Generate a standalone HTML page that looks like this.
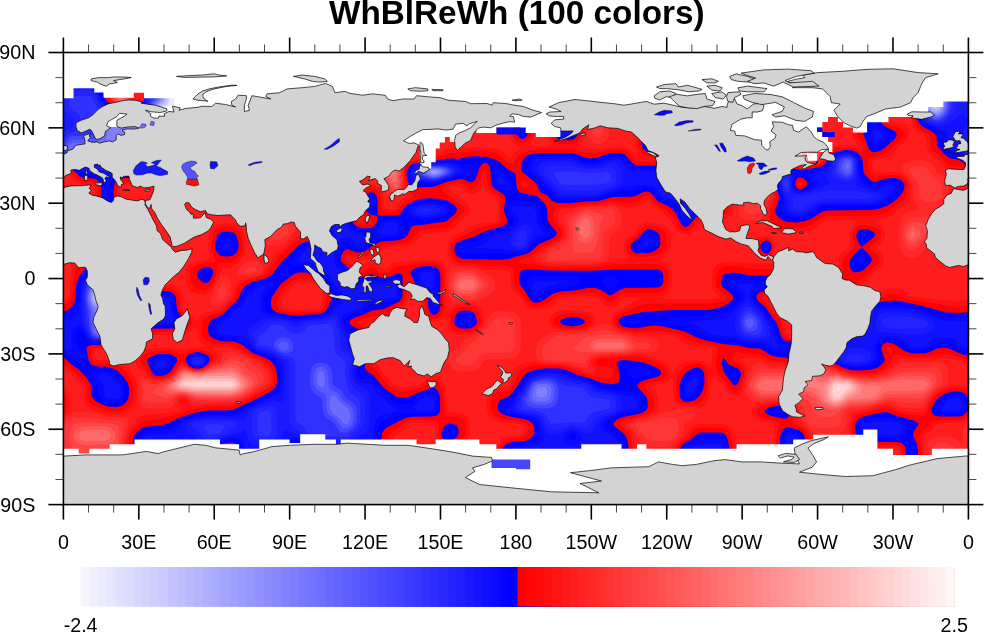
<!DOCTYPE html>
<html><head><meta charset="utf-8"><title>WhBlReWh (100 colors)</title>
<style>
html,body{margin:0;padding:0;background:#fff;}
body{width:984px;height:634px;overflow:hidden;}
svg{display:block;}
text{font-family:"Liberation Sans",Arial,Helvetica,sans-serif;fill:#000;}
.tl{font-size:19.7px;}
.title{font-size:33.3px;font-weight:bold;}
</style></head><body>
<svg width="984" height="634" viewBox="0 0 984 634">
<rect x="0" y="0" width="984" height="634" fill="#fff"/>
<text x="516.8" y="24" text-anchor="middle" class="title">WhBlReWh (100 colors)</text>
<g id="map">
<defs><clipPath id="fr"><rect x="63.4" y="52.5" width="905.0" height="452.1"/></clipPath></defs>
<g clip-path="url(#fr)">
<rect x="63.4" y="52.5" width="905.0" height="452.1" fill="rgb(255,0,0)"/>
<path d="M112.4 51.2L135.7 51.2L135.6 104L135.1 106.5L133.3 109L128.9 111.5L125 112.7L120 113L116.7 111.5L114.3 109L111.6 104L106.3 96.5L105.4 93.9L104.4 83.9L104.5 73.8L105.1 71.3L109.9 64.2L111.2 61.3L112.2 56.3ZM331.1 51.2L512.5 51.2L512.8 134.1L514.6 138.8L517.2 141.4L519.7 142.7L522.2 143.2L524.7 142.8L527.2 141.5L529.7 138.8L531.5 134.1L531.9 51.2L550.2 51.2L550.6 134.1L552.4 138.8L554.9 141.5L557.4 143.1L559.9 143.8L564.9 144.1L569.9 144L575 143L577.5 141.5L579.8 139.2L581.7 134.1L582 51.2L675.9 51.2L675.7 56.3L674.7 58.8L673 60.8L668 64L665.7 66.3L664.3 68.8L663.4 73.8L663.1 81.4L662.2 83.9L660.4 85.9L655.4 89.1L653.1 91.4L651.8 93.9L650.8 99L650.5 106.5L649.6 109L647.9 111L642.9 114.2L640.5 116.5L639.2 119.1L638.2 126.6L638.5 146.7L640.3 151.4L642.9 154.1L645.4 155.6L650.4 156.6L668.1 156.7L670.5 157.3L672.8 159.2L670.5 161.2L668 161.8L637.8 161.8L635.3 160.9L633.4 159.2L630.2 154.2L627.8 151.9L625.3 150.6L620.2 149.7L607.7 150L597.6 152.4L592.6 152.9L585 152.4L572.5 149.5L537.3 149.6L529.7 150.4L522.2 152.9L517.6 156.7L514 161.8L512.1 163.2L509.6 163.6L507.1 162.3L499.6 154.7L497 153.3L492 152.2L484.5 151.4L474.4 151.3L459.3 152.7L449.3 153.1L446.8 153.5L440.7 156.7L434.2 158.8L416.6 160.5L411.6 161.8L409.1 163.2L406.5 166.4L405.2 169.3L404.7 171.8L404.8 176.8L406.5 187.1L409.1 191.3L413.6 194.4L413.4 196.9L404 202.1L401.7 204.5L398.7 209.5L396.5 211.3L391.5 212.3L386.4 212.2L383.9 211.5L381.9 209.5L381.4 207.9L380.7 196.9L378.7 191.9L376.4 189.6L373.9 188.4L371.4 188L368.8 188.4L366.3 189.6L364 191.9L362.7 194.4L361.8 199.4L361.7 207L362.6 212L364 214.5L366.3 216.9L370.4 219.5L371.4 221.2L371.4 222.5L368.8 224.3L361.3 224.6L358.8 223.7L356.9 222L353.6 217L351.2 214.7L346.2 211.5L344.2 209.5L341 204.5L338.3 201.9L336.2 200.9L333.6 200.6L331.1 200.9L328.6 202.2L326.1 204.8L324.3 209.5L323.7 232.1L322.7 234.6L321.1 236.2L318.6 237.2L303.5 238.4L298.4 239.9L295.9 241.2L278.5 257.2L268.3 272.4L263.3 275.9L245.7 281.1L240.6 283.9L238.4 287.3L235.2 297.4L233.1 299.9L228.1 304L223 310L220.5 312L207.9 316.2L205.4 317.9L203.5 320L202.2 322.5L201.6 327.5L202.3 335.1L203.5 337.6L205.9 340.1L210.5 342.5L215.5 343.9L220.5 344.6L230.6 344.8L235.6 345.9L251.3 355.2L262.6 360.2L268.3 364.5L270.8 367.3L272.4 370.2L273.7 375.2L273.5 382.8L272.7 385.3L270.8 387.6L248.2 399.7L233.1 406.1L228.1 406.7L207.9 406.9L195.4 408.7L190.4 409.9L182.7 412.9L160.2 418.9L155.2 419.7L147.6 420L142.6 421.8L132.5 429.7L130.3 433L129.4 435.5L128.9 440.6L128.9 505.9L62.1 505.9L62.1 413.3L64.7 413.3L66.1 410.4L66.8 402.9L65.8 395.3L64.7 393.2L62.1 393.2L62.1 365L64.7 365L72.3 370.2L84.7 382.8L86.6 387.8L87.3 397.9L88.2 400.4L89.8 402.6L92.3 404.6L102.4 409.5L107.4 411.3L117.4 411.7L122.5 410.6L125 409.3L129.4 405.4L131.4 402.9L133.5 397.9L133.8 387.8L132.8 382.8L131.6 380.3L125 370.5L120 366.4L112.4 363.9L107.4 363.2L97.3 362.9L94.8 362L92.9 360.2L91.9 357.7L91.2 352.6L91.3 350.1L92.3 348.8L94.8 347.3L107.4 346.7L112.4 345.4L116.2 342.6L120 336.3L122.5 334.5L125 333.9L135 332.3L182.8 331.8L187.8 329.8L190.2 327.5L191.5 325L191.8 322.5L191.4 320L190.1 317.5L187.8 315.1L182.8 311.9L181.1 309.9L180.2 307.4L179.6 297.4L177.6 292.4L174.9 289.9L170.2 288.1L150.1 287.6L147.6 287.2L145.1 284.7L143.8 269.8L141.4 264.7L140.1 263.4L133.7 259.7L127.5 250.9L122.5 248.4L117.8 247.2L115.5 244.6L117 232.1L117.1 189.4L117.3 186.9L118.3 184.4L120 182.7L122.5 181.7L125 181.5L167.7 181.5L182.8 182.6L205.4 182.9L209.2 184.4L213.1 189.4L215.5 191.7L218 193L223 194L240.6 194.1L243.1 194.3L245.7 195.2L247.6 196.9L250.8 201.9L253.2 204.2L255.7 205.5L258.2 205.9L268.3 204.2L273.3 202.3L275.8 200.1L280.9 193.5L289.1 189.4L295.9 182.6L298.4 181.7L308.5 181.1L313.2 179.3L315.8 176.8L317.2 174.3L318.1 169.3L318.4 86.4L319.4 83.9L321.1 81.9L326.1 78.7L328.4 76.4L329.8 73.8L330.7 68.8L330.8 51.2ZM220.8 227.1L218 228L215.8 229.6L213.8 232.1L211.7 239.6L211.2 244.6L211.5 249.7L213 254.3L215.5 259.7L215.5 262.2L205.4 263.1L197.9 264.9L192.9 267.7L191 269.8L190 272.3L190.2 277.3L191.7 282.3L193 284.8L195.4 287.2L197.9 288.5L202.9 290L205.4 290.2L207.9 289.3L210.5 286.8L216.3 274.8L218 263.5L220.5 262.9L230.6 262.6L233.1 261.8L238.1 258.1L241.5 252.2L242.4 247.2L241.9 239.6L240.6 234.1L238.1 229.9L235.6 228L233.1 227.1L228.1 226.6ZM194 350.1L190.4 350.9L182.8 354.5L180.3 354L175.3 351.8L170.2 350.7L160.2 350.5L152.6 351.4L147.6 352.8L143.1 355.2L140.9 357.7L140.2 360.2L140.8 362.7L150.3 375.2L152.6 377.2L155.2 378.5L160.2 378.7L165.2 377.3L170.2 375.1L172.7 372.7L177.8 365.2L180.3 362.8L182.8 362L190.4 368L195.4 369.7L197.9 369.8L200.4 369.4L204.8 367.7L208.4 365.2L213.4 360.2L214 357.7L213 355.6L209.4 352.6L202.9 350.4L197.9 349.8ZM733.4 51.2L864.4 51.2L864.3 119.1L862.9 124.1L857.3 131.6L856.6 134.1L857.3 136.6L861.6 141.9L862.8 144.2L863.5 146.7L863.1 149.2L861.6 150.4L854 148.2L849 147.6L836.4 148.5L831.4 150.3L829.4 151.7L827.6 154.2L823.9 161.5L821.3 163.6L818.8 164.8L811.3 166.9L801.2 168.5L796.2 167.7L793.7 166.3L791.6 164.3L788.4 159.2L786.1 157L781.1 153.8L779 151.7L775.9 146.7L773.6 144.4L768.5 141.3L766.4 139.2L763.3 134.1L761 131.8L756 128.7L753.9 126.6L750.7 121.6L748.4 119.3L743.4 116.2L741.3 114L738.4 108.9L735.9 106.5L730.8 103.6L728.3 100.7L727 96.5L727.1 93.9L728.6 88.9L732.5 81.4L732.9 78.9L733 51.2ZM886.7 84.3L888.1 88.9L890.1 91.4L898.1 96.5L900.2 99L903 104L904.3 105.3L910.6 109L911.8 110.4L915.6 124.1L917 126.6L919.4 128.9L926.9 133.1L929.4 135.6L930.6 139.2L931.3 146.7L932.5 149.2L934.7 151.7L939.5 155.8L947 163.7L952.1 165.4L959.6 166L967.1 169.3L969.7 169.3L969.7 305.3L967.1 305.3L959.6 306.7L949.5 306.4L937 303.6L911.8 300.1L906.8 298.5L899.3 295L894.2 294.3L886.7 295L879.2 298.4L874.1 300L851.5 300.1L846.5 299.2L844.6 297.4L845 294.9L847.2 292.4L853.5 287.3L857 282.3L859 280.3L864.1 276.9L871.6 268.9L876.4 264.7L878.4 262.2L879 259.7L878.4 257.2L871.2 249.7L870.5 247.2L872 244.6L879.2 239.2L880.5 237.1L881 234.6L880.5 232.1L878.8 229.6L874.1 226.8L866.6 225.3L861.6 225.3L859 225.9L856.5 227.2L854.2 229.6L853 232.1L852.4 237.1L853.8 244.6L853.7 247.2L852.2 249.7L846.7 254.7L844 258.2L842.8 262.2L842.5 269.8L842.1 272.3L840.8 274.8L831.9 282.3L828.4 287.3L826.4 289.4L821.3 293L819.7 294.9L819 297.4L819.8 299.9L821.3 301.6L823.9 303L833.9 303.9L836.4 304.6L838.1 307.4L837.5 309.9L836.4 311.1L833.9 312.4L823.9 313L818.8 315.2L816.5 317.5L815.2 320L814.3 325L813.9 332.6L812.9 335.1L811.3 336.7L809.2 337.6L791.2 337.9L788.7 337.7L786.1 336.7L784.4 335.1L783.2 332.6L782 325L780.3 320L778.4 317.5L773 312.5L768.4 304.9L762.5 299.9L761 297.4L763.5 295.2L764.7 294.9L786.1 294.2L790.8 292.4L793.5 289.9L794.7 287.3L795.2 284.8L795.1 282.3L793.5 277.3L791.2 273.7L788.7 271.3L783.6 269.3L750.9 269L735.9 266.2L728.3 266L723.3 266.6L720.8 267.9L718.8 269.8L717.4 272.3L716.2 277.3L715.8 282.3L716.7 287.3L718.3 289.6L725.3 294.9L726.6 297.4L725.1 299.9L723.3 301L718.3 302.5L708.2 303.6L652.9 303.6L645.4 304.2L637.8 306.1L630.3 309.9L618 315L615.2 318L614.4 320L614.4 322.5L615.6 325L617.7 326.9L622.7 329.2L635.3 331.7L655.4 330.5L673 332.4L680.6 335.1L688.1 339.7L693.1 341.8L700.7 343.5L710.7 345L715.8 347L716.9 347.6L718 350.1L715.7 360.2L716.2 367.7L717.4 372.7L718.7 375.2L725.8 382.7L730.8 390L733.4 391.6L735.9 391.9L738.4 390.6L740.1 387.8L743.6 377.8L744.7 372.7L744.3 370.2L743.2 367.7L740.9 365.4L735.7 362.7L732.8 360.2L732.1 357.7L732.5 355.2L733.4 353.4L735.9 351.9L738.4 351.9L748.4 353.7L758.5 354.2L761 354.8L768.5 359.1L773.6 361.1L783.6 361.8L796.2 364.6L798.7 364.3L802.5 362.7L808.8 356.6L811.3 355.3L816.3 354.6L821.3 354.8L823.9 355.3L826.4 356.7L833.3 365.2L837.8 367.7L849 372.1L861.6 373.3L874.1 372.7L881.7 369.9L886.7 366.4L890.3 362.7L891.8 360.2L893 355.2L894.2 354.1L899.3 354.5L909.3 356.8L919.4 357.2L926.9 356.8L939.5 354.1L947 354.1L961.7 357.7L964.6 359.4L967.1 362L969.7 362L969.7 390.5L967.1 390.5L962.1 388.5L952.1 388.3L947 389.4L939.8 392.8L936.2 395.3L932.1 400.4L928.5 407.9L926.9 412.8L924.4 415.7L919.4 415.9L901.8 413.5L896.8 412.1L889.2 408.2L884.2 407.8L859 414.4L856.5 415.7L854.2 417.9L853 420.5L852 425.5L852.2 435.5L854 440.2L856.9 443.1L859 444.2L864.1 445.1L896.8 445.4L899.3 446.3L901.1 448.1L902.1 453.1L902.2 505.9L808.4 505.9L808.4 440.6L807.7 435.5L806.5 433L803.7 429.6L801.2 427.6L793 423L792.6 420.5L794.9 412.9L794.6 410.4L793.3 407.9L788.7 404.6L783.6 403.5L778.6 403.4L771.1 404L764.9 405.4L758.8 407.9L756.7 410.4L757 412.9L759.1 415.4L761 416.7L766 418.6L774.3 420.5L779.2 423L779.7 425.5L777.1 433L776.5 438L776.5 505.9L733 505.9L733 450.6L732.4 443.1L731 435.5L728.3 430.8L725.8 428.9L720.8 427.7L710.7 427.5L700.7 427.7L695.6 428.9L693.1 430.7L688.1 436.5L680.6 442.2L677.8 445.6L676.6 448.1L675.9 453.1L675.9 505.9L632.4 505.9L632.4 450.6L631.5 440.6L630.1 435.5L628.5 433L620.7 425.5L620.2 423L623 420.5L625.3 419.6L645.4 415L649.8 412.9L652.7 410.4L653.8 407.9L654.1 405.4L653.6 397.9L652.4 395.3L645.1 387.8L644.9 385.3L648.7 382.8L657.9 381.2L663 379.4L665.5 377.4L666.9 375.2L667.4 372.7L666.9 370.2L665.2 367.7L661.6 365.2L652.9 360.8L645.4 358.3L637.8 357L632.8 356.7L622.7 357.1L610.2 358.6L600.1 359.1L597 360.2L596.1 362.7L597.7 365.2L600.1 366.1L607.7 366.7L610.2 367.6L612.8 370.2L613.5 372.7L612.7 375.8L610.2 377.9L607.7 378.3L600.1 377.4L585 374.3L580.3 372.7L569.9 368.1L559.9 365.9L534.8 365.1L529.7 366L524.7 368.1L521.6 370.2L519.2 372.7L517.2 376L513.3 385.3L509.6 389.8L507.1 391.1L497 392.2L494.5 393.5L492.7 395.3L491.4 397.9L490.9 400.4L490.9 407.9L492.6 412.9L494.5 415L497 416.7L504.6 419.2L519.7 421.2L525.4 423L527.7 425.5L528.3 428L528 433L526.5 435.5L522.2 437.9L509.6 438.8L504.6 440.7L498.4 448.1L492 451.6L489.5 453.6L484.5 461.1L476.9 466.2L471.9 473.7L464.4 478.7L462.9 480.7L461.3 485.8L461 505.9L390.2 505.9L390.2 450.6L388.3 438L388.7 435.5L390.6 433L399 427.7L404.2 423L409.1 420.6L416.6 420.1L435.4 420.5L436.7 420.9L439 423L437.6 435.5L439.2 440.2L441.7 442.8L444.3 444.1L449.3 444.7L454.3 443.7L459.3 441.8L461.9 440.2L463.8 438L465.5 433L465.5 425.5L465 423L463.7 420.5L460.7 417.9L456.8 416.8L449.3 416.5L446.2 415.4L444.3 411.8L443.7 397.9L442.4 390.3L440.5 385.3L439.2 383.3L436.7 381.1L434.2 380.4L431.7 381L426.5 385.3L421.8 387.8L406.5 391.4L401.5 391.5L396.5 390.6L391.7 387.8L386.4 383.6L376.4 370.5L371.4 365.6L369.6 362.7L368.5 357.7L368.4 337.6L367.5 332.6L366.1 330L363.8 327.7L359.2 325L357 322.5L359.8 320L371.4 316.8L383.9 315.6L386.4 314.5L391.6 309.9L401.5 304.7L403.8 302.4L405.2 299.9L406.2 294.9L406.5 287L407.3 284.8L409.1 282.7L411.6 285.3L414.2 289.9L416.6 292.2L421.6 295.4L423.3 297.4L424.3 299.9L424.9 309.9L426.9 315L429.2 317.2L431.7 318.5L434.2 318.9L436.7 318.5L439.2 317.3L441.7 314.7L443.7 309.9L443.5 272.3L441.7 267.6L438.9 264.7L434.2 262.9L426.7 262.6L419.1 263L406.5 265.9L396.5 266.6L394 267.7L388.7 272.3L386.4 273.5L383.9 274L381.4 273.5L379.1 272.3L373.9 268L371.4 267.3L368.8 268L363.5 272.3L361.3 273.3L358.8 273.3L356.3 271.3L353.6 267.2L351.2 264.8L346.2 261.1L345.3 259.7L345.5 257.2L346.2 256.2L348.7 255.2L358.8 256.5L366.3 255.4L371.4 253.5L373.9 251.9L379.1 247.2L383.9 244.8L399 243.8L404 242.8L409.1 240.9L411.6 239.3L418.1 232.1L421.6 230.4L434.2 228.5L444.3 228.2L449.3 226.5L456.8 218.6L461.6 214.5L463.6 212L464.3 209.5L463.6 207L461.5 204.5L443.5 191.9L442.1 189.4L442.7 186.9L446.8 184.3L459.3 182.4L464.2 184.4L469.4 188.7L471.9 189.3L474.4 188.6L476.9 186.4L478.2 184.4L480.3 179.3L482 173.2L484.5 170.6L485.7 171.8L486.9 174.3L487.6 184.4L489.5 189.1L492 191.7L497 194.4L499.6 196.5L500.8 199.4L500.2 209.5L501.7 219.5L500.9 222L496.9 224.5L484.5 226.6L476.9 228.8L466.9 234.6L456.8 238.4L454.3 239.8L452 242.1L450.7 244.6L450.2 249.7L452 257.2L454.3 260.6L456.8 262.2L461.9 263.2L474.4 263.7L487 265.9L507.1 266.1L512.1 267.1L513.7 269.8L514.3 282.3L515.6 287.3L517.4 289.9L523 294.9L527.4 302.4L530.1 304.9L534.8 306.5L539.8 306.2L547.3 303.7L549.8 302.1L555 297.4L559.9 295L562.4 294.6L575 294.2L587.5 292.9L595.1 293L600.1 294.9L607.7 301.7L610.2 302.3L612.7 301.7L620.3 294.9L625.3 293L655.4 292.9L660.4 292.4L663 291.4L665.1 289.9L667 287.3L667.9 284.8L668.4 279.8L668.3 274.8L667 269.8L665.1 267.2L663 265.7L660.4 264.7L652.9 264.1L615.2 264.3L595.1 267.1L549.8 267L544.8 266.6L532.2 264.3L522.2 263.8L519.7 263.2L518.5 262.2L519.9 259.7L532.2 255.3L542.3 246.9L557.2 239.6L560.6 237.1L562 234.6L561.8 232.1L560.6 229.6L554.8 222L553.7 217L553.9 212L554.8 209.5L557.4 207.6L559.4 207L572.5 206.2L585 204.1L597.6 203.7L610.2 201.2L615.2 201.4L625.3 203.1L632.8 203.1L637.8 201.5L643.2 196.9L645.4 195.9L647.9 195.9L650.4 197.9L653 201.9L655.4 204.3L665.3 209.5L670.5 214.5L674.5 219.5L678 226.8L680.6 229.3L683.1 230.6L685.6 230.9L688.1 230.6L690.6 229.3L693 227.1L696.1 222L699.4 219.5L710.7 216.3L720.8 215.6L724.7 214.5L727.7 212L728.9 209.5L729.4 207L729.7 164.3L729.9 161.8L730.8 159.8L733.4 158L735.9 158.2L737.4 159.2L741 164.3L743.4 166.6L748.4 169.6L750.9 171.8L755.1 176.8L758.5 179.6L763.5 181.2L771.1 182L773.6 184.2L775.3 191.9L775.8 196.9L775.2 199.4L770.5 209.5L770.3 217L771.5 222L773.6 224.3L776.1 225.7L786.1 228.1L798.7 228.2L808.8 225.9L813.8 223.4L821.3 218L826.4 216L871.6 215.8L879.2 214.8L886.7 212.3L901.5 201.9L904 199.4L906.8 193.8L908.2 186.9L908 184.4L907 181.9L905.1 179.3L901.8 176.6L899.3 175.4L896.8 174.9L889.2 174.7L884.2 175.1L876.6 176.6L874.1 176.4L870.9 174.3L869 171.8L868.2 169.3L868.1 161.8L869.1 158.6L871.6 157L881.7 154.9L888.8 151.7L896.8 143.3L901.5 139.2L903.5 136.6L904.2 134.1L903.5 131.6L901.2 129.1L896.8 126.8L887.9 124.1L885 121.6L884.2 119.5L883.8 109L884.2 89.2L885 86.4ZM643.2 227.1L640.5 229.6L637.4 234.6L635.3 236.7L630.3 239.8L628 242.1L626.8 244.6L626.4 247.2L626.8 249.7L628 252.2L630.3 254.5L632.8 256L637.8 256.9L642.9 257L652.9 256.1L657.9 254.6L662.5 252.2L664.9 249.7L666.6 244.6L666.6 237.1L664.9 232.1L663 230L660.4 228.3L652.9 225.8L647.9 225.5ZM761.9 239.6L758.4 242.1L756.5 244.6L755.9 247.2L756.5 249.7L758.5 252.2L762.3 254.7L766 255.8L768.5 255.3L771.1 253.4L772.9 249.7L773 244.6L772.2 242.1L768.5 238.7L766 238.3ZM456.8 307.4L453.5 309.9L451.1 315L450.2 322.5L450.7 325L452 327.5L454.3 329.8L456.8 331.2L461.9 332.1L471.9 331.4L476.9 328.4L479.6 325L480.6 322.5L480.9 320L480.1 315L477.8 309.9L474.4 307.4L471.9 306.7L461.9 306.4ZM559.4 315L555.2 317.5L553.6 320L553.3 322.5L554.9 325.2L559.9 327.6L569.9 329.1L580 328.5L584.6 327.5L587.5 326.2L589.4 325L591.2 322.5L591.2 320L589.7 317.5L587.5 315.9L582.5 314.1L575 313.1L569.9 313.1ZM688.6 365.2L683.1 368L680.6 370.6L678.2 375.2L676.7 380.3L676.1 385.3L676.4 397.9L678 401.2L679.9 402.9L683.1 404.1L688.1 404.7L695.6 404.4L700.7 402.5L703.2 399.9L705.5 395.3L707.7 385.3L707.6 372.7L707 370.2L705.5 367.7L703.2 365.4L700.7 364.1L695.6 363.6ZM64.7 170.2L70.1 171.8L77.2 179.1L79.7 180.5L84.8 181.4L92.3 181.7L94.8 182.7L96.4 184.4L97.5 186.9L97.7 189.4L97.7 229.6L97.3 234.7L96.5 237.1L94.8 239.4L92.3 240.6L82.3 241.5L79.7 242.8L77.2 245.8L76.1 249.7L75.8 269.8L73 282.3L72 297.4L71 299.9L69 302.4L64.7 304.6L62.1 304.6L62.1 170.2ZM522.2 181L524.7 181L527.2 183.1L528.2 184.4L526.9 186.9L524.7 187.5L522.2 186.9L521 184.4L521.4 181.9ZM798.7 181.4L801.2 181.2L802.3 181.9L803.2 184.4L801.2 186.2L798.7 186L797.7 184.4ZM295.9 279.5L301 278.6L308.5 279.1L318.6 281.8L321.1 283L322.9 284.8L324.1 287.3L326.4 297.4L324 307.4L322.1 309.9L318.6 311.4L293.4 312.5L283.4 311.2L280.1 309.9L278.3 308.1L277.2 304.9L277.1 302.4L278 297.4L279.4 294.9L285.9 286.5L291.1 282.3ZM886.7 347.5L889.9 347.6L892 350.1L892.3 352.6L891.7 353.3L889.2 352.9L886.7 350.8ZM967.1 416.3L969.7 416.3L969.7 505.9L921.4 505.9L921.4 450.6L919.5 435.5L920.6 433L926.9 427.5L931.9 421.8L934.5 420.7L939.5 420.1L959.6 419.9L964.6 418.2ZM220.5 447.4L225.5 446L230.6 445.8L233.1 446.6L234.7 448.1L235.7 450.6L236 505.9L217.6 505.9L217.7 453.1L218 450.6ZM295.9 448.4L297.8 450.6L298.5 453.1L298.5 505.9L293.4 505.9L293.4 453.1L294 450.6Z" fill="rgb(255,15,15)" fill-rule="evenodd"/>
<path d="M114.9 51.2L133.7 51.2L133.6 104L133.1 106.5L131.2 109L126.2 111.5L122.5 112.3L120 112.2L118.2 111.5L115.4 109L111.3 101.5L107.9 96.5L106.7 91.4L106.4 73.8L107.2 71.3L112.4 61.3L113.3 56.3L113.3 51.2ZM333.6 51.2L509.8 51.2L510 134.1L511.1 139.2L512.5 141.7L517.2 145.9L519.3 146.7L519 149.2L514.6 152.8L512.1 156.3L509.6 157.9L507.1 156.2L503.4 151.7L499.6 149.6L489.5 148.1L474.4 147.8L446.8 149.1L441.7 150.7L434.4 156.7L416.6 158.2L411.6 159.4L409.1 160.9L406.5 163.9L405 166.8L403.6 171.8L404.8 186.9L406.7 194.4L406.2 196.9L401.5 199.9L399.4 201.9L396.5 207.3L394 209.2L387.9 209.5L386.4 209.1L384.3 207L383.4 196.9L381.4 190.6L378.9 187.6L373.9 185.5L368.8 185.2L366.3 185.8L363.8 187.2L361.6 189.4L360.2 191.9L359.2 196.9L359 201.9L359.1 212L360 217L358.8 218L357 214.5L348.3 209.5L346.2 207.4L343.4 201.9L341.2 199.8L336.2 197.7L331.1 197.7L328.6 198.4L326.1 199.8L323.9 201.9L321.8 207L321.3 212L321.2 229.6L320.6 232.1L318.6 234.2L316 234.7L301 235.6L298.4 236.3L293.4 239.2L285.1 247.2L275.8 253.4L268.8 264.7L266.6 269.8L265 272.3L263.3 273.6L258.2 276L243.1 279.2L238.1 281.2L235.7 284.8L233.7 294.9L232.4 297.4L220.5 309.2L218 310.4L205.4 312.8L201.5 315L199.1 317.5L197.9 319.5L195.4 319.7L194.5 317.5L192.7 315L190.4 312.8L185 309.9L183.1 307.4L182.2 294.9L181.6 292.4L180.1 289.9L177.2 287.3L172.8 285.6L150.1 284.9L147.6 283.6L146.7 279.8L146.1 269.8L144.5 264.7L142.6 262.2L140.1 260.3L134.4 257.2L131.9 252.2L130 249.7L127.5 247.8L119.7 244.6L119.1 242.1L119.8 232.1L119.8 189.4L120.4 186.9L122.5 184.8L127.5 184.2L167.7 184.2L182.8 185L202.9 185.1L205.4 185.5L207.9 186.9L210.8 191.9L213 194.1L215.5 195.5L220.5 196.5L240.6 196.8L243.1 197.3L245.7 199.1L248.5 204.5L250.7 206.6L253.2 208L258.2 208.5L273.3 204.2L276.4 201.9L279.9 196.9L282.4 194.4L290.9 191.4L293.6 189.4L295.9 186.4L298.4 184.7L311 183.6L316 181.5L318.2 179.3L319.6 176.8L320.8 169.3L321.1 87.8L321.4 86.4L323.3 83.9L328.6 81L330.8 78.9L332.2 76.4L333.3 71.3ZM216.4 224.5L212.5 227.1L210.8 229.6L209.2 234.6L208.3 247.2L209.5 257.2L206.9 259.7L197.9 261.2L190.4 263.8L187.8 265.9L185.8 269.8L185.5 277.3L186.1 282.3L187.6 287.3L190.4 291L195.4 293.5L202.9 294.7L205.4 294.6L207.9 293.8L211.6 289.9L220.5 271.2L223 269L230.6 268.2L233.1 267.3L235.6 265.5L241.5 259.7L244.2 254.7L245.3 247.2L244.8 237.1L243.8 232.1L241.1 227.1L238.1 224.9L233.1 223.4L223 223.2ZM534.8 51.2L547.5 51.2L547.6 131.6L548.8 139.2L551.5 144.2L549.8 146L547.7 146.7L532.3 146.7L530.3 144.2L533.3 139.2L534.5 131.6ZM585 51.2L673.2 51.2L672.7 56.3L670.8 58.8L665.5 61.6L663.3 63.8L661.9 66.3L660.8 71.3L660.1 81.4L658.2 83.9L652.9 86.7L650.7 88.9L649.3 91.4L648.3 96.5L647.5 106.5L645.7 109L640.3 111.9L638.2 114L636.8 116.5L635.7 121.6L635.5 126.6L635.6 149.2L636.5 154.2L635.3 155.2L633.5 151.7L629.8 149.2L625.3 147.4L620.2 146.9L610.2 147L597.6 148.8L592.6 149L585 148.4L579.9 146.7L580.4 144.2L583.3 139.2L584.2 134.1L584.4 51.2ZM735.9 51.2L861.7 51.2L861.6 119.1L859 123.7L855.1 126.6L853.1 129.1L851.8 134.1L853.1 139.2L856.9 144.2L854 145L836.4 146.1L831.4 147.2L828.9 148.4L826.4 151.5L823.5 159.2L821.3 161.8L816.3 164.4L808.8 166.5L801.2 167.6L796.2 166.7L793.7 165.2L788.7 158.3L781.1 152.7L776.1 145.8L768.5 140.1L763.5 133.2L756 127.6L750.9 120.7L742.4 114L738.4 107.6L730.8 102.4L728.4 99L727.8 96.5L728.6 91.4L730.8 87.1L735 81.4L735.6 78.9ZM889.2 94.9L896.8 98.3L901.8 106.5L909.8 111.5L912.9 126.6L914.5 129.1L916.9 131.3L922.9 134.1L925.7 136.6L926.4 139.2L926.9 146.7L928.5 151.7L930.6 154.2L937.8 159.2L943.3 166.8L947 168.8L949.5 169.3L959.6 170L967.1 171.8L969.7 171.8L969.7 300.3L952.1 301L914.4 297.6L911.8 297L908.1 294.9L904.3 291.2L901.8 289.7L896.8 288.6L889.2 288.6L884.2 289.7L881.7 291.2L877.9 294.9L872.2 297.4L859 297.4L856.5 296.9L853.2 294.9L856.5 291.3L860.6 284.8L867.9 279.8L873.4 272.3L881.7 266L883.6 262.2L883.6 257.2L882.6 254.7L880.6 252.2L877.4 249.7L876.3 247.2L881.7 242.7L883.8 239.6L885 234.6L884.7 232.1L883.8 229.6L881.7 226.4L876.6 222.7L874.4 222L880.4 219.5L886.7 218.2L891.7 215.7L897.4 209.5L904.3 205.4L906.8 203.2L908.8 199.4L910 194.4L910.7 189.4L910.4 184.4L907.8 179.3L904.3 175.7L901.8 174L899.3 172.7L894.2 172L876.6 172.8L874.1 172L872.5 169.3L872.1 164.3L872.7 161.8L874.1 160.1L876.6 159L886.7 157.2L891.7 155.2L894.2 153.1L899.3 146L906.8 140.4L908.8 136.6L908.9 131.6L908 129.1L905.7 126.6L899.3 123.6L889.3 121.6L887.1 119.1L886.6 116.5L886.6 99L887.1 96.5ZM637.8 155.3L638.8 156.7L637.8 157.3L636.7 156.7ZM735.9 164.5L740.9 168.9L748.4 172.5L754.8 179.3L758.5 182L761 183.1L769.6 184.4L771.1 185.1L772.1 186.9L773.4 191.9L773.4 196.9L768.7 207L765.8 222L766.1 224.5L767.5 227.1L771.1 229.8L776.1 231.3L783.6 232.2L801.2 232.2L808.8 231.3L813.8 229.8L816.3 228.2L822.2 222L826.4 220.3L849 220.1L854 220.9L856.8 222L854 224.4L850.5 229.6L849.5 234.6L850 244.6L849.3 247.2L846.5 249.7L842.6 252.2L840.5 254.7L839.4 257.2L838.2 269.8L837.1 272.3L830 277.3L827.9 279.8L824.8 284.8L817.5 289.9L815.4 292.4L814.4 294.9L814.4 299.9L816.3 303.7L818.8 306.3L820.8 307.4L820.8 309.9L816.3 312.7L814.1 315L812.7 317.5L811.7 322.5L811.3 331L810.9 332.6L808.8 334.6L806.3 335.2L801.2 335.3L791.2 335.2L788.7 334.7L786.1 332.1L784.9 322.5L783.3 317.5L781.1 314.5L774.9 309.9L769.4 299.9L771.1 298.1L773.2 297.4L786.1 297L791.2 295.9L793.7 294.5L795.9 292.4L797.2 289.9L797.9 287.3L798.1 282.3L797.2 277.3L795.4 272.3L793.7 269.1L791.2 266.1L786.1 263.8L750.9 263.3L733.4 261.8L725.8 261.9L720.8 262.7L717 264.7L714.8 267.2L713 272.3L712.2 279.8L712.2 284.8L713.6 289.9L715.8 293.2L717.8 294.9L719.1 297.4L710.7 299.3L698.2 299.5L673 299.4L665.5 298.6L660.5 297.4L663 296.8L668 293.1L670.2 289.9L671.6 284.8L671.9 277.3L671.6 272.3L670.2 267.2L668 264.2L663 260.7L660.5 259.7L668 253.5L670 249.7L670.9 242.1L670.2 232.1L669.2 229.6L666.9 227.1L665.5 226L660.4 224L650.4 222.5L645.4 222.8L642.9 223.5L640.3 224.9L638.2 227.1L635.3 232.5L633.2 234.6L627.8 237.4L625.6 239.6L623.5 244.6L623.5 249.7L624.2 252.2L627.4 257.2L628.2 259.7L622.7 260.6L612.7 261L597.6 265L587.5 265.2L547.3 265L537.3 262.2L533.5 259.7L535.2 257.2L544.8 248.3L559.9 240.4L563.7 237.1L564.7 234.6L564.6 232.1L562.4 227.4L558.7 222L557.6 217L558.4 212L559.9 210.4L562.4 209.3L572.5 208.4L585 205.6L597.6 205.3L610.2 203.4L615.2 204.1L625.3 207.2L632.8 207.3L637.8 206.5L641.7 204.5L645.4 200.9L647.9 200.9L652.9 206.6L659.2 209.5L662.6 212L665.5 215.9L670.5 220.1L673 223.8L674 227.1L675.6 229.6L678 231.8L680.6 233.1L685.6 234L690.6 233.1L693.1 231.7L695.3 229.6L698.2 224.2L700.7 222L710.7 220.3L723.3 219.6L728.3 218L731.7 214.5L733.2 209.5L733.7 174.3L734.7 166.8ZM760.1 237.1L756 238.7L752.5 242.1L751.2 247.2L752.5 252.2L756 255.8L758.5 257L763.5 258.4L766 258.5L768.5 257.7L771.1 256.3L772.6 254.7L774.8 249.7L774.9 244.6L774.1 242.1L772.8 239.6L771.1 237.8L768.5 236.4L766 235.9ZM64.7 172.6L69.3 174.3L72.5 179.3L74.7 181.5L77.2 182.9L82.3 184L90.8 184.4L92.3 184.8L94.4 186.9L95 191.9L95 229.6L94.8 232.1L93.7 234.6L92.3 235.9L79.7 237.6L75.9 239.6L73.8 242.1L72.7 244.6L71.9 249.7L71.7 269.8L70.1 282.3L69.7 294.9L68.6 297.4L67.2 298.9L64.7 299.9L62.1 299.9L62.1 172.6ZM451.8 186.3L456.8 185.3L459.3 185.7L461.3 186.9L464.4 190.9L466.9 192.9L471.9 194.2L476.9 192.8L480.8 189.4L482 187.6L484.5 187.5L487.2 191.9L489.5 194.1L495.2 196.9L497.4 199.4L498 217L497.8 219.5L494.9 222L482 223.5L471.9 225.7L466.9 228.3L461.9 232.8L458.3 234.6L454.3 235.6L451.8 237.2L449.6 239.6L448.2 242.1L447.5 244.6L447.3 249.7L449 259.7L450.4 262.2L451.8 263.4L456.8 265.2L474.4 266.2L487 269.7L507.1 270.6L509.6 272.1L510.5 274.8L511 284.8L512.5 289.9L514.6 292.9L521 297.4L525 304.9L527.2 307.1L532.2 309.2L539.8 309.3L549.8 307.2L553.8 304.9L557.7 299.9L562.4 297.4L587.5 296.3L595.1 296.6L597.6 297.4L600 299.9L602.6 303.8L605.1 305.9L610.2 307.2L612.7 307L615.2 306.1L617.7 303.9L620.4 299.9L622.7 297.5L625.3 296.7L643.4 297.4L640.3 298.6L639.2 299.9L635.3 300.8L632.8 302L625.3 308.2L621.7 309.9L617.7 311L615.2 312.6L612.7 315.5L611.2 320L611.5 322.5L612.9 325L615.2 327.5L620.2 330.1L635.3 333.9L652.9 333.7L671.7 335.1L676.8 337.6L680.6 341.3L685.6 344L695.6 346.2L709.1 347.6L712.7 350.1L712.9 352.6L710.7 366.9L709 365.2L703.2 361.6L698.2 360.7L690.6 361.2L685.6 362.3L680.6 364.2L676.8 367.7L673.5 372.7L673 375.2L673.5 397.9L674 400.4L675.5 402.9L678 404.9L683.1 406.1L698.2 407.6L700.7 407.3L704.5 405.4L706.7 402.9L708.7 397.9L709.7 392.8L710.7 382.5L711.2 380.3L713.2 376.5L716.8 380.3L723.3 385.1L728.3 393.3L730.8 395L733.4 395.8L735.9 395.9L738.4 395.2L740.9 393.1L742.1 390.3L747 372.7L746.7 367.7L745.5 365.2L743.4 362.7L739.9 360.2L740.9 358.4L743.4 358.1L758.5 358.1L761 358.7L768.5 362.4L773.6 364L796.2 365.8L801.2 364.8L803.7 363.3L808.8 358.5L811.3 356.9L816.3 356.1L821.3 356.3L823.9 357L826.4 358.9L831.4 365.7L834.3 367.7L840.2 370.2L849 373.3L866.6 374.9L876.6 374.1L884.2 371.4L889.7 367.7L896.8 360.3L899.3 358.8L921.9 359.5L939.5 357.9L949.5 358.4L960 360.2L963.3 362.7L967.1 368.2L969.7 368.2L969.7 386.8L967.1 386.8L962.1 385.7L952.1 385.6L947 387.1L939.5 390.8L934.5 394.4L931.9 397.2L924.4 410.7L921.9 412.2L916.9 412.3L901.8 411.1L898.9 410.4L891.7 406.6L886.7 405.3L856.5 412.7L854 413.8L852.2 415.4L850.9 417.9L849.8 423L849.4 435.5L850.5 440.6L851.9 443.1L854 445.2L856.5 446.6L861.6 447.7L894.2 448L896.8 448.5L898.9 450.6L899.5 455.6L899.5 505.9L811.1 505.9L811.1 440.6L810.3 435.5L806.3 429.3L798.2 423L796.8 420.5L797.5 412.9L797.1 410.4L795.9 407.9L793.7 405.4L788.7 402.9L783.6 402L778.6 402L768.5 402.8L756.4 405.4L752.5 407.9L751.5 410.4L751.6 412.9L752.6 415.4L756 418.9L761 420.9L772.1 423L775 425.5L773.8 438L773.8 505.9L735.7 505.9L735.6 448.1L735 438L734 433L731.3 428L728.3 425.8L723.3 424.3L710.7 424.1L698.2 424.4L693.1 425.9L690.3 428L685.5 435.5L677 443.1L674 448.1L673.2 453.1L673.2 505.9L635.1 505.9L635.1 450.6L634.3 440.6L633.1 435.5L631.7 433L625 425.5L624.7 423L629 420.5L645.4 417L650.3 415.4L654.7 412.9L657 410.4L658.3 405.4L658.3 400.4L657.5 395.3L655.4 391.4L652 387.8L653.9 385.3L660.4 384.1L665.5 382.5L668.9 380.3L670.5 378.3L672.6 377.8L673 375.2L671.9 370.2L668.6 365.2L665.5 363L652.9 357.1L637.8 354.6L610.2 356.8L600.1 357L596.5 357.7L593.3 360.2L592.5 362.7L592.8 365.2L593.9 367.7L595.1 369.5L596.3 370.2L595.1 372.2L592.6 372.7L585 372.1L572.5 366.8L562.4 364.6L544.8 363.9L532.2 361.8L527.2 362.5L519.7 365L516 367.7L513.3 372.7L510.7 382.8L509.3 385.3L507.1 386.8L504.6 387.3L494.5 388.3L490.7 390.3L488.6 392.8L487.5 395.3L486.6 400.4L486.6 407.9L487.5 412.9L488.6 415.4L490.7 417.9L494.5 420.1L499.6 421.5L517.2 423.4L522.2 424.8L523.1 425.5L524.1 428L524.1 430.5L523.5 433L522.2 434.3L519.7 435.5L507.1 436.3L502.1 438.4L499.9 440.6L497 445.6L494.5 447.5L488.3 450.6L486.1 453.1L483.7 458.1L482 459.8L476.9 462.3L474.4 464.5L471.1 470.7L469.4 472.4L464.4 474.8L461.9 477.1L459.9 480.7L458.9 485.8L458.6 505.9L394.4 505.9L394.4 450.6L393.6 440.6L393.7 438L394.9 435.5L402.9 430.5L406.9 425.5L411.5 423L431.7 423L434.2 424.3L435 425.5L435 438L437.1 443.1L439.2 445.2L444.3 447.3L449.3 447.6L454.3 447.1L459.3 446L464.4 444L467.8 440.6L468.9 438L469.7 433L469.5 423L467.8 417.9L464.4 414.5L459.3 412.9L449.3 411.8L447.8 410.4L446.7 407.9L446.3 395.3L444.7 385.3L442.7 380.3L439.2 376.8L434.2 375.5L429.2 376.8L426.7 378.9L423.8 382.8L419.1 385.5L409.1 387.1L401.5 387.3L396.5 386.3L394 384.5L383.9 374.5L378.9 366.4L373.9 362.4L372.2 360.2L371.3 357.7L371.1 337.6L370.6 332.6L368.8 328L366.7 325L366.3 322.5L371.4 320.9L383.9 320.1L388.9 318.4L391.5 316.4L394.3 312.5L396.5 310.7L403.5 307.4L406.2 304.9L407.6 302.4L409.1 296L411.6 293.2L419.1 297.2L421.3 299.9L422.4 312.5L424.5 317.5L426.7 319.6L431.7 321.7L436.7 321.7L439.2 321L444.3 318L446.8 319.5L447.5 325L449.6 330L452.4 332.6L456.8 334.3L461.9 334.7L469.4 334.3L471.9 333.8L476.9 331.1L480.5 327.5L483.1 322.5L483.5 317.5L482.9 312.5L480.7 307.4L476.9 305.1L474.4 304.5L466.9 304L456.8 304.5L451.8 306.2L449.3 307.9L448.7 307.4L446.8 304.2L446.3 299.9L445.7 287.3L445.9 272.3L445.3 267.2L444 264.7L441.7 262.5L439.2 261.2L434.2 260.1L424.1 259.9L406.5 261.7L396.5 262.2L391.5 263.8L386.4 268.7L383.9 270.1L381.4 268.7L376.4 263.6L373.9 262.5L371.4 261.9L368.8 262.3L366.3 263.3L361.3 268.2L358.8 268.2L354.4 262.2L356.3 259.7L366.3 259.4L371.4 258.6L376.4 255.8L378.9 253.6L381.8 249.7L386.4 247.2L401.5 246.5L411.6 244.3L414.1 243.1L416.6 241L421.4 234.6L424.1 233.6L434.2 232.6L446.8 232.3L451.8 230.8L454.3 228.5L459.3 221.4L466.9 215.8L468.8 212L469.1 209.5L468.8 207L466.9 203.1L464.4 200.8L457.7 196.9L450.5 189.4L450 186.9ZM555.4 312.5L552.4 314.3L550.2 317.5L549.2 322.5L550 325L552.1 327.5L554.9 328.7L569.9 330.7L582.5 329.9L590.1 327.5L593.3 325L594.9 322.5L595.3 320L594.7 317.5L593.1 315L590.1 312.8L587.5 311.8L580 310.6L569.9 310.3L559.9 311.1ZM361.3 218.1L362.2 219.5L361.3 220.1L360.1 219.5ZM295.9 283.9L298.4 283.1L306 282.8L318.6 284.8L321.1 287.3L322.4 294.9L322 302.4L320.6 307.4L318.6 308.7L316 309.2L295.9 310L285.9 309.1L282.4 307.4L281.5 304.9L281.3 302.4L282.4 297.4L284.2 294.9L293.4 285.6ZM195.4 327.2L199.4 340.1L202.9 344.2L204.6 345.1L202.9 346.8L190.4 348.2L182.8 350.1L175.3 348.5L167.7 347.8L155.2 348L145.1 349.7L140.1 351.7L136.6 355.2L135.3 360.2L136.5 365.2L138.6 367.7L145.1 372.5L150.1 377.8L155.2 380.2L160.2 380.1L167.7 377.8L170.2 376.5L172.8 374.4L180 365.2L182.8 364.1L190.4 368.7L195.4 370.3L200.4 370L205.4 368.1L216.5 360.2L217.7 357.7L217.4 355.2L215.5 351.7L213.6 350.1L213 347.8L212.4 347.6L230.6 347.2L235.6 348.7L258.2 360.2L262.2 362.7L265 365.2L268.3 368.6L270.8 372.7L271.4 380.3L271.1 382.8L269.9 385.3L266.6 387.8L248.2 397.7L233.1 404L228.1 404.5L207.9 404.6L197.9 405.7L192.9 405.6L190.4 404.5L187.8 400.3L185.3 398.3L182.8 397.6L180.3 398.1L178.2 400.4L178.2 402.9L181 407.9L179 410.4L167.7 413L157.7 414.1L147.6 414.4L142.4 415.4L138.9 417.9L130.3 428L128.7 430.5L127 435.5L126.6 505.9L62.1 505.9L62.1 416.6L64.7 416.6L67.5 412.9L69.3 407.9L69.5 402.9L69.3 397.9L68.2 392.8L66.8 390.3L64.7 388.2L62.1 388.2L62.1 369.9L64.7 369.9L69.9 372.7L74.7 379.1L82.2 385.3L83.1 387.8L84.2 400.4L85.1 402.9L87.3 405.8L89.8 407.4L102.4 412.7L107.4 414.2L117.4 414.6L125 413.4L127.5 412.2L132.3 407.9L134.3 405.4L135.5 402.9L136.5 397.9L136.7 387.8L136.2 382.8L134.5 377.8L128.6 367.7L125 364.2L120 362.3L114.9 361.2L97.3 359.8L94.8 357.3L94.3 352.6L95.3 350.1L97.3 349.4L109.9 348.6L114.9 347L117.4 345.1L119.3 342.6L121.9 337.6L125 336.2L135 334.9L182.8 334.7L187.8 333.6L190.4 332.3ZM967.1 419L969.7 419L969.7 505.9L923.7 505.9L923.7 450.6L923.2 438L923.9 435.5L926.6 433L930.8 430.5L934.6 425.5L937 423.7L939.5 422.9L959.6 422.6L962.1 422ZM223 449.2L228.1 448.3L230.6 448.8L232.6 450.6L233.1 452.2L233.3 505.9L220.3 505.9L220.4 453.1L221.3 450.6Z" fill="rgb(255,28,28)" fill-rule="evenodd"/>
<path d="M114.9 51.2L131.7 51.2L131.6 104L131.1 106.5L129 109L122.5 111.6L120 111.4L116.5 109L109.6 96.5L108.4 91.4L108.4 73.8L113.6 61.3L114.4 51.2ZM587.5 51.2L609.2 51.2L608.9 134.1L607.4 139.2L605.5 141.7L600.1 144L595.1 144L590.1 141.9L588.4 139.2L587.8 136.6L587.4 129.1ZM738.4 82.5L740.9 82.3L745.9 84.5L747.9 86.4L750.9 92.5L753.3 93.9L766 94.7L771.1 97L773 99L776.1 105.3L777.3 106.5L783.6 109.6L785.6 111.5L788.7 117.6L791 119.1L803.7 119.9L808.8 122.1L810.7 124.1L812.2 126.6L813.8 131.6L816.3 133.9L821 136.6L822.9 139.2L824.3 144.2L824.3 146.7L822.7 156.7L821.3 159.5L818.9 161.8L813.8 164.1L803.7 166.5L798.7 166.6L796.2 165.9L793.7 164.1L788.7 157.2L781.3 151.7L775.6 144.2L768.5 139L763.1 131.6L756 126.5L750.5 119.1L743.6 114L738.6 106.5L730.8 101.2L729.3 99L728.7 96.5L729.6 91.4L733.4 85.8ZM368.8 121L373.9 121L378.9 122.5L381 124.1L383 126.6L385.5 131.6L393.6 136.6L395.6 139.2L398.1 144.2L401.5 146.6L404 147.6L406.2 149.2L408.1 151.7L408.9 154.2L408.8 156.7L404 165.8L402.5 171.8L403.1 184.4L402.6 191.9L401.5 194.4L399 196.3L394 197.3L388.9 195.9L386.4 193L383.6 186.9L381.4 184.7L375.3 181.9L372.4 179.3L370.7 174.3L369.4 161.8L366.3 159.3L363.8 158.4L361.7 156.7L359.7 154.2L357.7 146.7L357.5 136.6L358.1 131.6L359.7 126.6L361.7 124.1L363.8 122.5ZM909.3 161L914.4 160.3L921.9 160.3L929.4 162.2L932.3 164.3L937 171.8L945.1 176.8L946.8 179.3L948.3 184.4L948.3 196.9L946.8 201.9L945.2 204.5L939.2 209.5L945.2 214.5L950 222L957.8 227.1L959.4 229.6L960.5 234.6L959.4 239.6L957.8 242.1L954.6 244.4L952.1 245.4L947 246.1L926.9 246.6L924.4 248.2L919.4 255.4L916.9 257L911.8 258.1L906.8 257L904.3 255.4L902 252.2L900.1 247.2L898.2 234.6L898.7 229.6L900.2 222L902.2 217L903.8 214.5L906.8 212.5L909.3 211.5L919.3 209.5L918.6 207L916.2 204.5L914.4 199.7L913.6 184.4L910.9 179.3L903.9 171.8L902.2 169.3L902.2 166.8L903.6 164.3L906.8 162ZM740.9 176.6L743.4 175.3L745.9 175.3L748.4 176.6L753.5 181.3L758.5 185L768.4 189.4L769.6 191.9L770.2 194.4L769.9 196.9L766.8 204.5L763.9 214.5L761 219L758.5 220.5L750.9 221L745.9 220.3L740.9 217.6L739 214.5L737.9 207L737.9 186.9L738.4 181.9L739.2 179.3ZM283.4 196L285.9 195.1L290.9 195.5L293.5 196.9L294.7 199.4L294.9 227.1L294.3 232.1L290.7 237.1L283.4 243.8L278.3 245.4L273.3 245.8L268.3 245.3L263.3 242.8L261 239.6L260 237.1L259.3 232.1L259.4 214.5L260.5 212L263.7 209.5L273.3 206.2L276.4 204.5ZM587.5 206.9L597.6 206.9L610.2 205.7L615.2 207L619.2 209.5L621 212L621.6 214.5L621.7 219.5L621 224.5L620 227.1L617.7 230.3L610.9 234.6L609.5 237.1L609 254.7L608.2 257.2L605.9 259.7L602.6 261.4L600.1 262.4L595.1 263.1L549.8 263.1L544.7 262.2L540.6 259.7L540.7 257.2L547.3 250L551.5 247.2L562.4 241.6L565 239.6L566.7 237.1L567.3 234.6L567.2 232.1L565.6 227.1L563.3 222L562.8 219.5L563.3 217L564.8 214.5L577.5 209.1L582.5 207.6ZM248.2 261.2L255.7 260.8L258.2 261.3L260.7 262.6L262.3 264.7L263 267.2L262.9 269.8L261.4 272.3L255.9 274.8L248.2 275.9L243.1 276.2L237.5 274.8L236.5 272.3L237.8 269.8L243.1 264.1ZM451.8 269.1L459.3 268L471.9 268.2L477.5 269.8L489.5 275.5L492.5 277.3L494.3 279.8L495.2 282.3L495.2 287.3L494.3 289.9L492 293.1L479.4 300.8L474.4 301.6L461.9 301.8L454.3 301.3L451.8 300.5L449.3 297.3L447.8 284.8L449.3 272.3ZM223 275.6L225.5 275.6L228.1 276.9L230.1 279.8L230.9 287.3L230.2 294.9L228.7 297.4L220.5 305.2L218 306.4L215.5 306.3L212.6 304.9L210.8 302.4L210.3 299.9L211 297.4L213.7 292.4L218 281.6L220.5 277.6ZM494.5 311.7L502.1 311L512.1 311.7L517.2 314.3L519.4 317.5L520.4 320L521.1 325L521.1 345.1L520.4 350.1L517.8 355.2L514.6 357.3L509.6 358.8L487 359.5L484.5 360.9L479.4 368.4L476.9 370L471.9 371.5L459.3 371.5L454.3 370L451.8 368.4L449.5 365.2L448.4 360.2L449.5 355.2L451.1 352.6L458.9 347.6L464 340.1L474.4 335.7L479.4 332L485.1 325L489.5 314.5L492 312.7ZM600.1 324.2L605.1 323.7L607.7 324.5L615.2 330.1L635.3 336.7L637.8 337.2L647.9 337.4L652.9 338.5L655.9 340.1L657.7 342.6L658.5 345.1L658.5 347.6L657.4 350.1L655.4 351.6L652 352.6L647.9 352.9L637.8 352.2L622.7 354.4L600.1 355.4L595.1 356.2L592.1 357.7L590.2 360.2L587.7 367.7L585 368.6L575 365.2L567.4 363.6L544.8 362L539.5 360.2L536.7 357.7L535.9 355.2L535.8 350.1L536.5 345.1L537.5 342.6L539.8 339.4L549.8 333.4L552.4 332.4L557.4 331.8L572.5 332.4L585 331.4L592.6 329ZM225.5 352.5L230.6 350.9L233.1 351.2L248.2 357.5L258.2 363.3L265.4 370.2L267.2 372.7L268.1 375.2L268.3 380.5L267.8 382.8L265.9 385.3L245.7 397L233.1 401.9L228.1 402.3L195.4 402.7L192.9 401.7L188.2 397.9L182.8 396.2L180.3 396.4L176.8 397.9L174.9 400.4L172.8 406.2L170 407.9L165.2 408.5L147.6 408.6L142.6 407.2L141.1 405.4L140.1 402.2L139.6 397.9L139.7 385.3L140.3 380.3L141.6 377.8L142.6 377L145.1 377.4L152.6 381.5L157.7 382.1L162.7 380.8L170.2 377.8L173.4 375.2L180.3 366.7L182.8 365.7L185.3 366.5L192.9 370.3L197.9 370.9L202 370.2L205.4 368.9L216.9 362.7L220.3 360.2ZM816.3 357.6L821.3 358L823.9 359L826.4 361.7L828.9 365.8L830.9 367.7L833.9 369.3L849 374.4L864.1 376.5L874.1 376.3L884.2 373.9L891.4 370.2L899.3 363.5L901.8 362.6L934.5 362.3L939.5 362.7L944.5 364.8L946.8 367.7L948.3 372.7L948.4 380.3L947.3 382.8L944.8 385.3L937 390L931.9 394.3L929.1 397.9L924.4 405.6L921.9 407.7L916.9 408.3L901.8 407.8L891.7 403.7L886.7 403.1L864.1 408.9L851.5 411L848.3 412.9L847.2 415.4L846 425.5L844 430.8L841.4 432.8L838.9 433.8L833.9 434.5L818.8 434.5L816.3 434.4L813.8 433.4L803 423L801.3 420.5L800.4 410.4L797.2 405.4L793.7 402.9L788.7 401.1L783.6 400.5L773.6 400.6L761 401.9L756 401.8L750.9 400.1L746.6 395.3L745.2 390.3L745.9 382.8L751.8 367.7L753.2 365.2L756 363.5L758.5 363L761 363.2L768.5 365.8L773.6 366.9L796.2 367L798.7 366.7L803 365.2L811.3 358.7ZM675.5 409.5L683.1 408.3L690.6 409.4L693.3 410.4L695.4 412.9L695.2 415.4L693.1 418.3L685.5 423L684.4 425.5L683 433L681.2 435.5L673 443.9L670.5 446L668 446.9L652.9 447.1L645.4 446.3L642.9 445.3L640.3 443.4L636.9 435.5L629.6 425.5L630 423L635.3 420.9L645.4 419.2L652.9 417.2L663 411.9L670.5 411.2ZM72.2 412.5L74.7 411.6L77.2 411.4L92.3 412.6L104.9 416.7L125 418.1L127.5 419.1L128.8 420.5L129 423L125.8 430.5L124.4 438L124.3 505.9L62.1 505.9L62.1 420L64.7 420ZM967.1 422.3L969.7 422.3L969.7 505.9L926.8 505.9L926.8 450.6L928 443.1L929.4 440.3L931.9 438.5L937 436.9L942 436.5L952.1 437.3L957.1 439.8L959.6 442.3L962.1 442.9L963.3 428L964.2 425.5Z" fill="rgb(255,41,41)" fill-rule="evenodd"/>
<path d="M117.4 51.2L129.7 51.2L129.6 104L129 106.5L126.6 109L122.5 110.5L120 110.3L117.4 108.8L111.4 96.5L110.3 91.4L110.4 73.8L114.8 61.3L115.5 51.2ZM592.6 51.2L602.9 51.2L602.7 131.6L602.1 134.1L600.4 136.6L597.6 137.8L595.1 136.9L593.1 134.1L592.3 129.1ZM735.9 85.8L738.4 85.2L740.9 85.6L743.4 87L745.3 88.9L748.4 94.7L750.9 96.5L763.5 97.3L768.5 99.5L770.5 101.5L773.6 107.2L776.1 109.4L781.1 112.1L783.1 114L786.1 119.6L788.7 121.5L801.2 122.5L806.3 124.7L808.8 127.5L811.7 134.1L813.8 136.8L818.8 141.1L820.5 144.2L821.2 149.2L821 154.2L820.6 156.7L819.4 159.2L816.2 161.8L806.3 165.2L801.2 166L798.7 165.9L795.2 164.3L788.7 156.2L781.1 150.4L776.1 143.6L768.5 137.9L763.5 131.1L756 125.3L750.9 118.5L744.7 114L742.6 111.5L739.8 106.5L738.4 105.1L733.4 102.3L730.8 99.9L729.5 96.5L729.6 93.9L730.5 91.4L733.4 87.5ZM366.3 126.2L368.8 125.1L371.4 124.7L373.9 125.1L376.9 126.6L379.4 129.1L382.5 134.1L389.6 139.2L391.9 141.7L395 146.7L402.2 151.7L404.4 154.2L405.3 156.7L405.2 159.2L402.4 166.8L401.4 171.8L401.5 186.9L400.8 189.4L399 192.2L396.5 193.4L394 193.3L391.5 192.3L388.9 190L385.5 184.4L383.9 182.8L378.3 179.3L376.4 177.4L374.7 174.3L374.2 171.8L373.5 161.8L372.5 159.2L369.8 156.7L365.7 154.2L363.4 151.7L361.6 146.7L361.6 134.1L363.4 129.1ZM914.4 166.7L921.9 166.6L924.4 167.2L926.9 168.7L933.5 176.8L940.1 181.9L942 186.1L942.3 191.9L941.6 196.9L939.5 200L935.2 201.9L929.4 202.3L924.4 201.5L921.3 199.4L919.4 195.1L918.9 186.9L917.6 181.9L909.2 171.8L909.3 169.3L911.8 167.3ZM748.4 181.7L750.9 183.4L756 188.3L763.5 193.8L765 196.9L762.3 209.5L761 212.3L758.5 214.3L753.5 214.8L748.4 214.1L745.9 212.6L743.8 209.5L743.1 204.5L743.3 186.9L744 184.4L745.9 181.9ZM285.9 198.6L287.5 199.4L288.5 201.9L288.4 232.1L287.3 234.6L285.2 237.1L280.9 239.6L275.8 239.9L270.8 239.2L267.7 237.1L266.2 234.6L265.6 232.1L265.8 214L266.5 212L268.3 210.7L278.3 206.3L280.3 204.5L283.4 199.5ZM582.5 209.5L587.5 208.8L597.6 209L607.7 208.4L612.7 209.4L614.9 212L615.5 217L614.8 222L612.7 225.2L605.1 231.3L603.6 234.6L603 239.6L602.8 254.7L602.2 257.2L599.3 259.7L595.1 260.6L559.9 260.7L552.4 260.5L547.4 259.7L546.4 257.2L548.4 254.7L557.3 247.2L564.9 243.7L567.4 241.6L568.8 239.6L570 234.6L568.3 222L569.1 219.5L571.1 217L577.1 212ZM914.4 216.8L931.9 216.7L937 217.4L940.2 219.5L946 227.1L952.4 232.1L953.2 234.6L952.3 237.1L949.5 239.1L947 239.7L926.9 240.3L924.4 241.4L921.9 243.4L914.4 250.4L911.8 251.1L909.3 250.3L906.1 247.2L903.6 242.1L902.3 237.1L902.3 232.1L903.6 227.1L906.8 221.1L909.3 218.6L911.8 217.3ZM250.7 267.1L255.7 267.6L257.9 269.8L254.9 272.3L248.2 272.9L244.6 272.3L244.4 269.8L245.7 268.6L248.2 267.4ZM456.8 271.2L461.9 270.3L469.4 270.3L476.4 272.3L483.2 277.3L487.7 282.3L488.4 284.8L487.7 287.3L485.8 289.9L479.4 295.8L474.4 298.6L469.4 299.4L461.9 299.4L456.8 298.5L454.6 297.4L452.4 294.9L451.3 292.4L450.1 287.3L450.1 282.3L452.4 274.8L454.3 272.5ZM220.5 284L223 282.9L224.8 284.8L225.8 289.9L225.2 294.9L223.7 297.4L220.5 300L218 299.7L216.8 297.4L218 290.3ZM499.6 317.3L504.6 317.2L509.6 317.9L512.7 320L514.2 322.5L514.9 327.5L514.9 342.6L514.2 347.6L512.7 350.1L509.6 352.2L507.1 352.8L489.5 353L484.5 353.5L482 354.6L479.4 356.7L474.4 363.3L470.1 365.2L461.9 365.3L459.3 364.7L456.8 363L455.7 360.2L456.8 357.3L464.4 351.1L469.4 344.4L476.9 339L488.4 327.5L494.5 319.3L497 317.9ZM600.1 329.9L607.7 330L615.2 332.7L625.5 335.1L630.7 337.6L635.3 340.9L637.8 342L645.4 342.5L647.9 343.3L650.3 345.1L650.4 347.6L647.9 348.9L637.8 349.3L627.8 352.2L622.7 353L597.6 354L592.6 354.8L590.1 356L588.2 357.7L585 362.9L582.5 363.7L567.4 361.2L547.3 360.2L543 357.7L542.1 355.2L542.1 350.1L542.7 347.6L544.2 345.1L557 335.1L562.4 334.3L575 334.5L585 333.9ZM230.6 356.8L233.1 356L235.6 356.3L245.7 359.1L251.4 362.7L260.2 370.2L262.2 372.7L263.2 375.2L263.5 377.8L262.9 382.8L260.9 385.3L245.7 395L238.1 398.4L233.1 399.9L197.9 400.6L195.4 400.1L185.5 395.3L182.8 394.9L178.4 395.3L175.3 396.7L173.5 397.9L170.2 401.5L167.7 402.8L150.1 403.1L147.6 402.9L145.1 401.6L144.2 400.4L142.7 395.3L142.6 390.3L143.3 385.3L145.1 382.6L147.6 382.5L155.2 384.3L157.7 384.1L165.2 381.4L170.2 379.1L172.8 377.3L180.3 368.6L182.8 367.2L185.3 367.7L190.8 370.2L195.4 371.4L200.4 371.3L202.9 370.6L221.3 362.7ZM813.8 359.7L818.8 359.6L821.8 360.2L823.9 361.8L827.3 367.7L831.2 370.2L848 375.2L864.1 378L874.1 377.9L884.2 376.1L891.7 373.3L899.3 368.6L901.8 367.7L934.5 367.6L937 368.1L940.1 370.2L942 374.5L942.3 380.3L941.6 382.8L939.6 385.3L931.9 391.7L924.4 400.6L921.9 402.5L916.9 403.2L901.8 403.1L889.2 400.5L886.7 400.7L876.6 404.2L871.6 405.4L861.6 407.3L851.5 408L849 408.7L845.5 410.4L842.8 412.9L841.9 415.4L841 423L839.5 425.5L836.4 427.6L831.4 428.3L816.3 428.2L813.8 427.8L811.3 426.4L807.8 423L806.5 420.5L805.4 410.4L804.4 407.9L801.2 404.3L796.2 401.2L791.2 399.6L786.1 398.9L773.6 398.8L763.5 399.5L758.5 399L753.5 396.2L750.1 392.8L748.6 390.3L747.6 385.3L749.2 380.3L753.5 374.1L758.5 369.3L761 368.4L763.5 368.4L773.6 369.9L783.6 369.9L798.7 367.9L803.7 366.3L811.3 360.6ZM74.7 417.7L92.3 417.7L104.9 419.9L117.4 420.5L120 421L123.1 423L123.6 425.5L122.1 435.5L121.6 448.1L121.6 505.9L62.1 505.9L62.1 426.5L64.7 426.5L66.2 423L69.7 419.5L72.2 418.1ZM663 417.8L673.8 417.9L675.5 418.4L677.6 420.5L678.3 425.5L677.8 433L675.5 436.6L673 439L670.5 440.3L665.5 440.9L652.9 440.9L647.9 440.1L644.7 438L640.3 431.9L634.8 425.5L637.4 423L650.4 420.9ZM939.5 442.9L944.5 442.8L949.5 443.5L952.6 445.6L954.1 448.1L954.9 453.1L954.9 505.9L931.6 505.9L931.8 450.6L932.4 448.1L934.5 445L937 443.5Z" fill="rgb(255,54,54)" fill-rule="evenodd"/>
<path d="M117.4 51.2L127.6 51.2L127.5 104L126.8 106.5L125 108.3L122.5 109.4L120 109.3L117.2 106.5L113.3 96.5L112.3 91.4L112.5 73.8L116.1 61.3L116.6 51.2ZM735.9 87.3L738.4 87L740.9 87.7L742.6 88.9L748.4 97.3L750.9 98.1L761 98.6L766 100.2L768.5 102.2L773.6 109.7L781.1 114.8L786.1 122L788.7 123.1L801.2 124.3L805.5 126.6L807.5 129.1L811.3 137L816.3 142.3L818.5 146.7L818.9 154.2L818.5 156.7L817.1 159.2L813.6 161.8L806.3 164.4L801.2 165.3L798.7 165.1L796.2 164.1L793.7 161.8L788.7 155.2L783.5 151.7L781.1 149.3L776.1 142.7L771 139.2L768.5 136.7L763.5 130.1L758.4 126.6L756 124.2L750.9 117.6L745.9 114L743.5 111.5L740.9 106.4L738.5 104L733.4 101.3L731.1 99L730.3 96.5L730.8 92.9L733.4 89ZM368.8 128.1L371.4 127.5L373.9 128.1L376.4 129.8L381.4 136.6L388.3 141.7L393.9 149.2L400.8 154.2L402.6 156.7L403 159.2L400.2 171.8L400.3 184.4L399 188.4L396.5 190.4L394 190.3L391.5 188.6L386.5 181.9L378.9 176.1L376.7 171.8L376 161.8L375.4 159.2L373.8 156.7L367 151.7L365.1 149.2L363.7 144.2L364.1 134.1L366.3 129.9ZM582.5 212L587.5 211L594.7 212L600.6 214.5L602.9 217L602.2 219.5L600.1 223.2L597.1 242.1L595.1 248L592.6 251.8L590.1 252.6L582.5 252.8L574.6 252.2L573 249.7L572.5 224.5L572.9 222L576.2 217L578.7 214.5ZM909.3 224.3L911.8 222.6L916.9 222.2L925.3 224.5L929.1 227.1L929.4 229.6L923.1 237.1L916.9 243.4L914.4 245.2L911.8 245.8L909.3 244.7L907.1 242.1L905 237.1L904.7 234.6L905.8 229.6ZM456.8 274.7L459.3 273.5L464.4 272.8L469.4 272.9L474.4 274.4L478.3 277.3L482.5 282.3L483.3 284.8L482.5 287.3L476.9 293.6L471.9 296.3L464.4 296.8L459.3 296.2L456.8 294.9L454.6 292.4L452.5 287.3L452.3 284.8L453.3 279.8L454.6 277.3ZM597.6 334.8L610.2 334.8L620.2 336.1L625.3 337.5L629.1 340.1L631.6 342.6L633.2 345.1L632.7 347.6L628.8 350.1L622.7 351.6L600.1 352.5L580 352.1L575.2 350.1L575 348.7L572.5 347.6L575 346.9L575.2 345.1L577.5 344.4L578.1 342.6L580 342.1L581.8 340.1L586.6 337.6ZM228.1 362.5L233.1 360.6L235.6 360.5L243.4 362.7L245.6 365.2L248.4 370.2L253.2 372.7L256.5 375.2L258 380.3L257.8 382.8L256.4 385.3L250.1 390.3L243.1 394.4L235.6 397.5L230.6 398.5L197.9 398.6L185.3 394.3L180.3 393.9L175.3 394.7L167.7 397.6L165.2 397.7L156.8 395.3L153.1 392.8L153.7 390.3L155.2 389.9L156.8 387.8L160.5 385.3L172.8 378.7L180.3 370.3L182.8 368.7L185.3 368.8L192.9 371.6L200.4 371.9ZM813.8 362L819.7 362.7L821.3 364L824.8 370.2L826.4 371.3L836.4 373L846.5 375.9L861.6 379.2L871.6 379.7L881.7 378.6L889.2 376.9L901.8 372.4L924.4 372.3L931.9 373.3L934.5 374.5L936.4 377.8L936.6 382.8L935.3 385.3L933.1 387.8L924.4 396.4L921.9 397.8L916.9 398.4L901.8 398.4L891.7 397.7L886.7 398.2L874.1 403.2L861.6 405.3L851.5 405.8L849 406.4L840.5 410.4L833.9 415.1L832.4 415.4L831.4 416.8L828.9 417.3L818.8 416.5L816.3 415.1L813.8 411.5L810.1 402.9L808.8 400.8L806.3 399.6L788.7 397L761 396.7L756 394.1L752.3 390.3L750.8 387.8L750.4 385.3L750.9 382.8L752.4 380.3L756 376.4L761 373.1L766 372.6L781.1 372.9L786.1 372.3L792.7 370.2L803.7 367.7L811.3 362.9ZM79.7 422.7L92.3 422.5L107.4 423.3L114.9 424.4L117.5 425.5L118.8 428L119.3 433L118.3 443.1L117.4 446.8L114.9 451.9L113.2 453.1L112.4 455.3L111 455.6L109.9 458L108.8 458.1L107.4 460.6L107.4 463.2L104.9 463.2L107.4 463.2L107.4 470.7L82.3 470.7L82.3 463.2L94.8 463.2L82.3 463.2L82.3 460.6L79.7 458.6L75.5 453.1L74.7 452.9L72.2 449L70.2 443.1L69.5 438L69.5 433L70.3 428L72.2 424.8L74.7 423.6ZM82.3 470.7L107.4 470.7L107.4 475.7L104.9 475.7L107.4 475.7L107.4 483.3L82.3 483.3L82.3 475.7L94.8 475.7L82.3 475.7ZM82.3 483.3L107.4 483.3L107.4 488.3L104.9 488.3L107.4 488.3L107.4 495.8L94.8 495.8L92.3 494.6L89.8 495.8L87.3 494.6L84.8 495.8L82.3 494.6L82.3 488.3L94.8 488.3L82.3 488.3ZM82.3 497.1L84.8 495.8L87.3 497.1L89.8 495.8L92.3 497.1L94.8 495.8L107.4 495.8L107.4 500.8L82.3 500.8Z" fill="rgb(255,70,70)" fill-rule="evenodd"/>
<path d="M120 51.2L125.4 51.2L125.3 104L124.4 106.5L122.5 107.8L120 107.5L117.7 104L115.2 96.5L114.5 91.4L114.6 73.8L117.8 58.8L118 51.2ZM735.9 88.7L738.4 88.5L740.9 89.6L743.4 92.4L745.9 97.3L748.1 99L761 99.9L766 102L768.5 104.7L771.2 109L773.6 111.4L778.6 114.6L780.6 116.5L783.8 121.6L786.1 123.6L788.7 124.5L798.7 125.1L803.7 127.2L806.3 129.9L810.9 139.2L815 144.2L816.2 146.7L816.8 154.2L816.4 156.7L814.8 159.2L811 161.8L803.7 164.1L798.7 164.3L796.2 163.2L788.7 154.3L782 149.2L778.5 144.2L776.1 141.7L769.4 136.6L766 131.6L763.5 129.2L756.8 124.1L753.4 119.1L750.9 116.6L744.5 111.5L740.9 104.5L735.2 101.5L732.1 99L731.1 96.5L731.3 93.9L733.4 90.4ZM368.8 131.1L371.4 130.2L373.9 131L380.8 139.2L387.5 144.2L393.3 151.7L399.8 156.7L400.8 159.2L399 171.8L399 182.2L398.6 184.4L396.5 187.4L393.5 186.9L387.1 179.3L380.5 174.3L378.9 171L378.2 161.8L376.7 156.7L374.5 154.2L368.8 150.2L366.5 146.7L365.8 141.7L366 136.6L366.6 134.1ZM585 214.3L588.2 214.5L591.8 217L594 222L594.3 227.1L593.9 234.6L592.6 238.4L590.1 241.4L587.5 242.7L585 243.1L582.5 242.7L580 241.4L577.5 238.4L576.3 234.6L575.9 227.1L576.7 222L578.1 219.5L582.5 215.4ZM914.4 226.8L916.9 227.9L918.6 229.6L919.8 232.1L919.8 234.6L918.6 237.1L916.3 239.6L914.4 241.1L911.8 241.6L909 239.6L907.7 237.1L907.3 234.6L907.7 232.1L909.3 229L911.8 227.1ZM459.3 276.9L461.9 276.1L466.9 275.8L469.4 276L473.2 277.3L476.6 279.8L478.5 282.3L479.3 284.8L478.5 287.3L476.6 289.9L471.9 293L464.4 293.8L459.3 292.8L456.3 289.9L455.1 287.3L454.7 284.8L455.1 282.3L456.3 279.8ZM595.1 339.5L602.6 338.4L620.2 338.9L625.3 340.8L627.3 342.6L628.9 345.1L628.3 347.6L622.7 350.2L607.7 350.9L595.1 350.5L592.6 349.7L590.1 347.7L589.7 345.1L590.9 342.6L592.6 340.9ZM230.6 364.8L235.6 364.7L238.1 365.9L243.7 372.7L252.4 380.3L253.2 382.8L252.5 385.3L250.2 387.8L243.1 392.6L238.1 395.1L230.6 396.9L197.9 396.9L182.8 392.9L170.2 393.6L167.7 393.3L165.2 392L163.6 390.3L163 387.8L164.7 385.3L172.8 380.1L180.3 372.1L182.8 370.2L185.3 370L195.4 372.6L200.4 372.5ZM808.8 367L811.3 365.7L813.8 365.2L816.3 366.1L818.1 367.7L821.3 372.8L823.9 374.5L836.4 374.4L864.1 381.2L874.1 381.2L881.7 380.5L889.2 379.3L901.8 376.2L919.4 376.1L924.4 376.5L928.2 377.8L931.1 380.3L932.1 382.8L931.6 385.3L929.9 387.8L924.4 392.9L921.9 394.1L889.2 394.6L886.7 395.1L877.5 400.4L874.1 401.5L861.6 403.2L851.5 403.7L849 404.3L838.9 409L833.9 409.8L826.4 408.4L819.7 405.4L817 402.9L813.8 397.8L811.3 395.7L808.8 394.8L763.5 394.1L761 393.5L758.5 392.1L754.4 387.8L753.7 385.3L754.4 382.8L756.4 380.3L761 377L766 376.2L783.6 376L786.1 375.4L793.7 371.8L803.7 369.2ZM79.7 427.4L84.8 426.4L92.3 426.3L104.9 426.5L109.9 427.4L112.4 428.8L114.9 432L115.7 435.5L115.3 438L114.1 440.6L112.4 442.3L107.4 444.5L87.3 444.9L82.3 444.5L79.7 443.8L77.2 442.3L75.5 440.6L74.2 438L73.8 435.5L74.2 433L75.5 430.5L77.2 428.7Z" fill="rgb(255,87,87)" fill-rule="evenodd"/>
<path d="M122.5 51.2L123 73.8L122.7 101.5L122.5 103.9L120 104.1L117.1 93.9L117.1 73.8L119.3 63.8L120.6 51.2ZM735.9 90L738.4 89.9L741 91.4L742.8 93.9L744.8 99L745.9 99.9L748.4 100.5L761 101.2L763.5 102L766 103.8L771.1 110.7L778.6 116.3L783.6 123.1L786.1 124.9L788.7 125.6L798.7 126.3L801.2 127.2L803.7 128.9L805.8 131.6L808.8 138.4L814 146.7L814.6 149.2L814.7 154.2L814.2 156.7L812.6 159.2L808.4 161.8L803.7 163.3L798.7 163.5L796.2 162.3L789.7 154.2L782.9 149.2L777.1 141.7L770.3 136.6L764.6 129.1L757.8 124.1L752 116.5L745.4 111.5L743.9 109L742.4 104L740.9 102.5L735.9 100.9L733.1 99L732 96.5L732.3 93.9L733.4 91.9ZM371.4 133.4L373.9 134.6L378.9 140.9L384 144.2L386.5 146.7L389.7 151.7L391.5 153.5L396.5 156.7L398.4 159.2L398.7 161.8L396.5 183L394 183.3L388.9 177.6L383.9 174.4L381.7 171.8L380.9 169.3L380.6 161.8L379.6 156.7L376.4 152.5L371.3 149.2L369.2 146.7L368.4 144.2L368.5 136.6L370.1 134.1ZM582.5 219.4L585 218.3L587.5 218.9L590 222L590.5 224.5L590.7 229.6L590 234.6L587.5 237.8L585 238.7L581.7 237.1L580.1 234.6L579.6 232.1L579.6 224.5L580.5 222ZM911.8 231.8L914.4 232L915.2 234.6L914.4 236.2L911.8 237.1L910.6 234.6ZM461.9 279.6L466.9 279.2L471.9 280.3L474.5 282.3L475.4 284.8L474.5 287.3L471.9 289.4L469.4 290.2L461.9 290.1L459.3 288.8L458.2 287.3L457.5 284.8L458.2 282.3L459.3 280.9ZM600.1 342.2L620.2 342.3L622.7 343.3L624.5 345.1L623.5 347.6L620.2 348.4L602.6 348.9L597.6 348.4L595.5 347.6L595.1 344.8L597.6 342.8ZM215.5 370.1L230.6 367.9L233.1 368L235.6 368.9L247.4 380.3L249 382.8L248.9 385.3L246.9 387.8L239.6 392.8L233.1 395.1L228.1 395.5L197.9 395.4L185.3 392.4L172.8 391.3L169.6 390.3L167.4 387.8L168.3 385.3L175.3 379.3L182.8 371.8L185.3 371.3L192.9 372.9L197.9 373.4ZM806.3 370.2L811.3 368.8L813.8 369.4L818.8 375.6L821.3 377.7L823.9 378.1L831.4 376L836.4 375.7L851.5 378.9L861.6 382.3L866.6 383.1L884.2 382.4L901.8 379.7L921.9 379.8L924.4 380.4L926.9 382.1L927.5 382.8L927.8 385.3L926.3 387.8L924.4 389.4L921.9 390.6L891.7 390.9L886.7 391.5L884.2 392.6L877.7 397.9L874.1 399.4L869.1 400.4L851.5 401.6L849 402.3L838.9 407.1L833.9 407.7L828.9 406.6L823.9 404L819.9 400.4L816.3 395L813.8 392.7L811.3 391.6L806.3 391L763.5 390.7L761 389.8L758.5 387.9L757.5 385.3L758.5 382.7L762.3 380.3L766 379.7L781.1 379.6L786.1 379.1L788.7 378L796.4 372.7ZM84.8 430.1L104.9 430.1L107.4 430.6L109.9 432.2L111.5 435.5L109.9 438.8L107.4 440.5L104.9 441L84.8 441L82.3 440.5L79.7 438.8L78.2 435.5L79.7 432.2L82.3 430.6Z" fill="rgb(255,105,105)" fill-rule="evenodd"/>
<path d="M735.9 91.3L738.4 91.3L741.3 93.9L742.2 96.5L742.1 99L740.9 100.2L738.4 100.4L735.9 99.8L733.4 97.4L732.9 96.5L733.2 93.9ZM745.9 102.4L750.9 101.8L758.5 101.9L763.5 103.4L766 105.5L771.1 112.2L778.6 118L783.6 124.7L786.1 126.1L788.7 126.7L798.7 127.4L802.1 129.1L804.4 131.6L808.8 141.2L811.8 146.7L812.5 149.2L812.6 154.2L812.2 156.7L810.3 159.2L805.9 161.8L801.2 162.9L798.7 162.7L796.2 161.3L791.2 154.5L783.9 149.2L778.6 142L771.3 136.6L766 129.4L758.8 124.1L753.5 116.9L746.5 111.5L744.9 109L744.3 106.5L744.5 104ZM373.9 142.2L378.9 145.8L381.5 146.7L383.9 149.1L384.8 151.7L386.7 154.2L388.9 156.1L394.5 159.2L395.9 161.8L395.9 164.3L394 175.3L391.5 174.8L386.4 172.3L383.9 169.4L382.9 154.2L378.9 149.4L376.4 147.5L373.9 146.7L372.5 144.2ZM185.3 372.6L197.9 374.2L220.5 371.4L230.6 370.7L233.1 371.1L238.1 374.3L244 380.3L245.6 382.8L245.7 385.3L244.2 387.8L238.1 392L233.1 393.8L228.1 394.2L197.9 394.1L185.3 391.4L176.9 390.3L172.8 388.9L171.3 387.8L171.2 385.3L173.2 382.8L182.8 373.4ZM808.8 372.4L811.3 372.8L813.5 375.2L816.3 379.7L818.8 381.7L821.3 382.2L823.9 381.5L831.3 377.8L836.4 377L852.9 380.3L864.1 385.2L876.6 385.9L879.2 386.4L882 387.8L875.7 395.3L871.6 397.4L851.5 399.4L849 400.3L841.4 404.6L836.4 406.2L831.4 405.4L826.4 402.9L823.7 400.4L822 397.9L818.8 391.1L816.3 388.8L813.8 387.9L808.8 387.1L796.2 386.8L783.6 385.4L767.2 385.3L786.1 384.8L791.2 382.1L797.7 375.2L801.2 374ZM89.8 435.5L101.4 435.5L88.3 435.5Z" fill="rgb(255,123,123)" fill-rule="evenodd"/>
<path d="M735.9 92.8L738.4 93L739.5 93.9L740.5 96.5L738.8 99L735.9 98.6L734.2 96.5L734.7 93.9ZM748.4 103.3L756 102.9L762.2 104L765.4 106.5L768.9 111.5L771.1 113.7L778 119.1L781.5 124.1L783.6 126.1L786.1 127.3L788.7 127.8L798.7 128.6L801.2 129.9L803 131.6L804.5 134.1L810.5 149.2L810.6 154.2L810.1 156.7L808.2 159.2L803.7 161.5L801.2 162.1L798.7 161.9L796.2 160.1L792 154.2L785 149.2L779.4 141.7L772.5 136.6L766.8 129.1L759.9 124.1L754.3 116.5L747.6 111.5L745.8 109L745.5 106.5L747 104ZM182.8 375.1L185.3 374.2L197.9 375L213 373.7L230.6 373.2L233.1 373.7L235.6 375L239 377.8L243 382.8L243.2 385.3L241.7 387.8L238.4 390.3L233.1 392.5L225.5 392.9L195.4 392.6L180.3 389.7L174.7 387.8L173.7 385.3L175.1 382.8ZM831.4 379.4L833.9 378.6L838.9 378.4L849.2 380.3L856.1 382.8L859.5 385.3L861.2 387.8L861.5 390.3L860.7 392.8L857.6 395.3L849 398.2L838.9 404.2L836.4 404.7L831.4 403.7L826.6 400.4L824.9 397.9L823.7 392.8L823.4 387.8L824.3 385.3L826.4 382.8Z" fill="rgb(255,140,140)" fill-rule="evenodd"/>
<path d="M748.4 105.5L753.5 104.3L758.5 104.5L761 105.1L763.5 106.6L769.1 114L776.1 119.1L781.1 126L783.6 127.9L788.7 129.2L796.2 129.5L798.7 130.2L801.2 131.8L803.9 136.6L807.9 149.2L808 154.2L807.4 156.7L805.2 159.2L801.2 160.8L798.7 160.5L797 159.2L793.5 154.2L791.2 151.9L786.1 148.8L784 146.7L780.9 141.7L778.6 139.3L773.6 136.2L771.5 134.1L768.4 129.1L766 126.8L761 123.6L758.9 121.6L755.8 116.5L748.4 110.4L747.4 109L747.5 106.5ZM182.8 377.5L185.3 376.5L187.8 376.2L197.9 376.7L210.5 376.1L230.6 376.1L235.1 377.8L238.1 380.2L239.9 382.8L240.2 385.3L238.6 387.8L235.6 389.7L230.6 391.1L195.4 390.9L180.3 388.2L177.8 386.7L176.7 385.3L177.5 382.8ZM836.4 380L844 380.7L851.5 382.4L855.9 385.3L856.9 387.8L856.1 390.3L853.5 392.8L849 395.2L841.4 400.9L836.4 402.8L833.9 402.5L831.4 401.3L828.9 399L827.2 395.3L826.9 390.3L828 385.3L830 382.8L833.9 380.6Z" fill="rgb(255,164,164)" fill-rule="evenodd"/>
<path d="M750.9 106.4L756 105.9L761 106.8L763.6 109L766.8 114L768.5 115.8L773.7 119.1L776.2 121.6L779.4 126.6L782.4 129.1L786.1 130.5L796.2 131.1L798.7 131.9L801.2 134.1L802.2 136.6L805.3 149.2L805.3 154.2L804.7 156.7L803.7 157.7L801.2 159.3L798.7 158.9L793.1 151.7L786.1 147.3L781.1 139.7L773.6 134.6L768.5 127.1L761 122.1L756 114.6L749.5 109ZM182.8 380.1L185.3 379L187.8 378.7L230.6 378.8L233.1 379.5L235.6 381.3L236.9 382.8L237.2 385.3L235.1 387.8L230.6 389.2L195.4 389.2L185.3 387.8L180.3 385.7L179.8 385.3L180.1 382.8ZM833.9 382.7L838.9 381.7L847.6 382.8L852.6 385.3L853.3 387.8L851.6 390.3L846.5 393.8L842.2 397.9L838.9 400.2L836.4 400.8L834.1 400.4L831 397.9L830 395.3L829.7 392.8L830 387.8L831 385.3Z" fill="rgb(255,187,187)" fill-rule="evenodd"/>
<path d="M756 108.3L758.5 108.2L761 109.1L766 116.4L773.6 121.4L776.7 126.6L778.6 129L781.1 130.9L786.1 132.4L796.2 132.9L798.8 134.1L801 139.2L802.4 146.7L802.3 154.2L801.2 156.5L798.7 156.1L795.6 151.7L793.7 149.9L787.7 146.7L786.1 145.1L782.9 139.2L781.1 137.2L775.6 134.1L773.6 132.1L770.6 126.6L768.5 124.6L763 121.6L761 119.5L758 114L753.8 109ZM185.3 382.2L192.9 381.6L228.1 381.6L232.8 382.8L233.5 385.3L230.6 386.8L228.1 387.1L197.9 387L184.6 385.3L184.2 382.8ZM836.4 384.1L838.9 383.7L846.5 384.7L848.3 385.3L849.2 387.8L844 392.2L838.9 397.5L836.4 398.3L833.9 397L833 395.3L832.5 390.3L832.8 387.8L833.9 385.7Z" fill="rgb(255,211,211)" fill-rule="evenodd"/>
<path d="M786.1 135.8L788.7 135.1L793.7 135.1L796.2 135.8L797.2 136.6L798.7 141.3L798.7 147.3L796.2 148L788.7 144.5L785.9 139.2L785.3 136.6ZM838.9 387.3L840.6 387.8L838.9 390.8L837.2 390.3L837.7 387.8Z" fill="rgb(255,234,234)" fill-rule="evenodd"/>
<path d="M64.7 51.2L110.4 51.2L109.9 59L107.4 63.8L102.9 68.8L101.2 73.8L101.3 83.9L102.8 93.9L105.2 99L109.9 104.4L114.6 111.5L117.4 113.5L122.5 114.4L127.5 113.5L132.9 111.5L136.6 109L138.2 106.5L138.8 101.5L138.8 51.2L327.4 51.2L327.3 66.3L326.7 71.3L325.5 73.8L323.6 75.9L318.6 79.4L316.7 81.4L315.4 83.9L314.9 86.4L314.8 166.8L314.1 171.8L312.9 174.3L311 176.2L308.5 177.4L306 177.9L298.4 178.2L294.5 179.3L291.4 181.9L287 186.9L278.6 191.9L272.8 199.4L268.3 201.6L260.7 202.6L258.2 202.4L255.7 201.3L253.7 199.4L250.2 194.4L248.2 192.5L245.7 191.3L240.6 190.7L225.5 190.6L220.5 190L218 188.8L211.3 181.9L207.9 180.5L205.4 180.1L182.8 179.9L167.7 178.1L125 178.1L120 178.7L117.4 180L115.6 181.9L114.3 184.4L113.7 189.4L113.3 234.6L111.9 239.6L107.6 247.2L108.7 249.7L120 250.4L124.6 252.2L127.3 254.7L130.5 259.7L132.5 261.8L137.6 264.9L139.9 267.2L141.9 272.3L142.6 285L143.4 287.3L145.1 289.7L147.6 290.8L150.1 291.1L167.7 291.3L170.2 291.7L172.8 293L174.6 294.9L175.9 297.4L176.7 307.4L177.8 311.3L180.3 314.5L185.3 318.1L186.9 320L187.7 322.5L186.9 325L185.3 326.7L182.8 328.1L180.3 328.6L137.6 328.8L132.5 329.3L122.5 332L120 333.2L117.9 335.1L114.8 340.1L112.4 342.4L109.9 343.7L104.9 344.7L90.7 345.1L87.3 346.7L86.6 347.6L86.5 350.1L88.7 360.2L89.8 363.1L92 365.2L97.3 366.4L107.4 366.8L114.9 369.3L119.8 372.7L122.2 375.2L127.6 382.8L129.1 387.8L129.2 392.8L128.5 397.9L127.3 400.4L125 403.2L122.1 405.4L117.4 407L107.4 406.6L99.9 403.5L94.6 400.4L92.7 397.9L91.9 395.3L91 385.3L86.6 377.8L79.6 370.2L69.7 363.1L64.7 358.3L62.1 358.3L62.1 311.3L64.7 311.3L67.2 310.5L69.7 309L72.2 306.4L75.1 299.9L76.2 284.8L78.7 277.3L84.8 268.9L86.9 267.2L88.2 264.7L89.9 257.2L92.3 254.7L100 252.2L101.2 249.7L101.2 247.2L101.1 189.4L101 186.9L99.9 183L97.3 180L94.8 178.7L82.3 177.4L79.7 176.2L75.2 171.8L72.2 170L64.7 167.4L62.1 167.4L62.1 51.2ZM517.2 51.2L528.4 51.2L528.3 131.6L527.8 134.1L526.4 136.6L524.7 138.2L522.2 139L519.7 138.2L517.9 136.6L516.6 134.1L516.1 131.6L515.9 51.2ZM554.9 51.2L578.7 51.2L578.6 131.6L578.1 134.1L576.8 136.6L573.8 139.2L569.9 140.3L562.4 140.3L558.5 139.2L555.5 136.6L554.3 134.1L553.8 131.6L553.6 51.2ZM680.6 51.2L729.6 51.2L729.3 81.4L726.7 88.9L725.5 93.9L725.5 96.5L726.8 101.5L728.7 104L736.4 109L740.9 116.2L748.4 121.2L753.5 128.8L761 133.7L766 141.3L773.6 146.3L778.6 153.9L786.1 158.8L791.2 166.4L793.7 168.4L798.7 170.1L801.2 170.2L818.8 167.3L821.3 166.4L824.7 164.3L826.8 161.8L831.4 154.2L833.9 152.4L841.4 150.3L846.5 149.9L851.5 150.3L856.5 152.3L861.2 156.7L862.8 161.8L863.5 171.8L864.7 174.3L869.1 179.2L871.6 181.2L874.1 182.1L876.6 181.8L882.7 179.3L886.7 178.4L894.2 178.1L899.3 178.9L903.1 181.9L904.3 184.4L904.5 186.9L903.9 189.4L901.8 193.6L896.8 199.2L891.7 203.1L886.7 206.1L879.2 208.8L871.6 210.1L826.4 210.4L821.3 212.2L811.3 218.7L803.7 221.4L796.2 222.5L786.1 221.7L781.1 219.6L778.6 217.6L776.2 214.5L775.4 212L775.3 209.5L778.2 201.9L779 196.9L776.1 183.7L773.6 179.5L771.1 178.4L763.5 177.9L761 177.2L758.5 175.8L750.9 167.2L745.9 163.8L743.9 161.8L740.9 157.4L738.4 154.9L733.4 153.2L725.8 153.3L724.2 154.2L722.2 156.7L717.6 164.3L717.1 166.8L717 199.4L716.9 201.9L715.7 204.5L707.3 212L695.6 217.6L690 224.5L688.1 226.2L685.6 226.9L683.1 226.2L680.6 223.6L676.5 214.5L672.8 209.5L668 206L657.9 201.4L655.9 199.4L652.4 194.4L650.4 192.6L647.9 191.6L642.9 192.3L635.3 196L632.8 196.7L612.7 197.1L597.6 201.2L585 201.6L569.9 203.2L557.4 202.9L552.4 201.2L547.3 195.6L539.9 191.9L536.7 184.4L534.7 181.9L521.9 171.8L520.8 169.3L522.2 161.8L523.4 159.2L525.8 156.7L529.7 154.6L537.3 153L572.5 153.2L577.5 154.6L585 157.8L590.1 158.5L597.6 157.8L605.1 154.6L610.2 153.3L620.2 153.1L622.7 153.6L625.3 154.8L632.8 163.6L635.3 164.9L637.8 165.4L668 165.5L673 164.8L675.5 163.5L677.1 161.8L677.9 159.2L677.1 156.7L675.5 155L673 153.6L668 153L650.4 152.8L646.5 151.7L643.5 149.2L642.2 146.7L641.7 144.2L641.6 126.6L642.2 121.6L643.5 119.1L645.4 117L650.4 113.5L652.9 110.4L654 106.5L654.3 99L655.4 95.1L657.9 91.9L663 88.4L664.9 86.4L666.1 83.9L666.6 81.4L667.4 71.3L668.6 68.8L670.5 66.8L675.5 63.3L677.4 61.3L678.7 58.8L679.1 56.3L679.3 51.2ZM796.6 179.3L795.4 181.9L795.2 184.4L796.2 187.3L798.7 189.1L801.2 189.1L803.7 188.1L805.7 186.9L807.3 184.4L807.1 181.9L803.7 178.6L801.2 177.6L798.7 177.7ZM869.1 51.2L880.4 51.2L880.4 116.5L881 121.6L882.3 124.1L884.2 126L894.2 130.9L895.3 131.6L896.8 134.1L896.1 136.6L894.2 139.2L884.2 148.6L879.2 151.3L874.1 152.3L871.5 151.7L868.9 149.2L863.3 134.1L867 124.1L867.8 119.1L867.9 51.2ZM891.7 51.2L969.7 51.2L969.7 166.1L967.1 166.1L959.6 160L949.5 158.2L944.5 154.2L939.7 149.2L938 146.7L937.2 144.2L936.5 136.6L935 134.1L931.7 131.6L922.4 126.6L919.7 124.1L917 119.1L913.7 109L911.8 107L906.8 103.8L904.5 101.5L901.3 96.5L899.3 94.4L894.2 91.3L891.9 88.9L889.8 83.9L889.4 76.4L889.4 51.2ZM469.4 156.7L474.4 156.3L484.5 156.7L494.5 159.2L499.6 162.1L507.1 169L514.6 173.1L515.6 174.3L516.6 186.9L517.5 189.4L519.5 191.9L522.2 193.3L534.8 195.5L537.3 196.6L539.8 198.4L545.4 204.5L547.1 209.5L547.6 219.5L548.4 222L556.5 232.1L556.6 234.6L554.9 236.7L549.9 239.6L539.8 243.7L537.3 245.4L532.2 250.5L527.2 253.7L514.6 257L509.6 259L499.6 259.7L464.4 259L461.9 258.8L458.1 257.2L456 254.7L454.1 249.7L454.3 246.5L455.1 244.6L456.8 242.8L459.3 241.3L473.4 237.1L484.5 231.5L502.1 226.6L505.7 224.5L507.4 222L507.1 219.5L504.6 213.3L503.8 209.5L505.4 199.4L505.2 196.9L503.6 194.4L494.5 188.8L492 185.7L490.9 181.9L490.6 171.8L489.5 165.8L487 163.3L484.5 163L482 164.2L479.4 167.4L476.9 175.8L475.2 179.3L474.4 180.5L471.9 182.2L469.4 181.9L463 179.3L459.3 178.9L446.3 181.9L436.7 185.7L431.7 187L414.1 187.2L411.6 186.8L409.1 184.6L408 181.9L406.7 176.8L406.5 171.8L407.3 169.3L409.1 166.6L411.6 164.7L416.6 163L436.7 160.5L446.8 158.4L459.3 158.8ZM368.8 192.8L371.4 192.1L373.9 192.8L375.6 194.4L377 196.9L377.6 201.9L377.6 214.5L378.9 215.7L394 215.7L399 214.7L401.5 212.6L404.6 207L407.2 204.5L416.6 200.3L424.1 198.3L436.7 198.5L446.8 200.5L453.4 204.5L456 207L457.1 209.5L456.3 212L454.2 214.5L446.8 221.1L444.3 222L434.2 223L424.1 224.8L414.1 225.6L411.1 227.1L407.9 234.6L405.5 237.1L401.5 239.2L396.5 240.6L383.9 241.2L380 242.1L374.7 244.6L366.3 250.6L361.3 252.5L356.3 252.5L348.7 249.6L346.2 249.3L343.7 251L341.7 254.7L340.9 257.2L340.9 259.7L341.9 262.2L350.8 269.8L354.3 274.8L356.3 276.5L358.8 277.5L362.3 277.3L371.4 274L380.2 277.3L383.9 277.9L388.9 276.9L396.5 273.5L399 273.3L402.1 274.8L402.7 277.3L402.6 294.9L401.5 298.8L399 301.8L383.9 309L371.4 310.8L363.8 314.6L354.9 317.5L350.4 320L349.2 322.5L351.2 325.6L361.3 330.6L363.2 332.6L364.4 335.1L365 340.1L365.1 367.7L365.7 370.2L373.9 375.7L383.5 387.8L396.5 396.9L401.5 397.8L406.5 397.6L409.1 397L417.6 392.8L425.7 390.3L431.7 387.8L434.2 387.5L436.7 389.2L437.5 390.3L439.2 394L440.2 397.9L440.1 410.4L439.2 413.2L437 415.4L431.7 416.6L411.6 416.8L405.1 417.9L386.4 427.8L383.9 430.2L382.2 433L381.5 438L383.6 448.1L383.9 453.1L383.9 505.9L302.2 505.9L302 450.6L301.3 448.1L299.6 445.6L298.4 444.5L295.9 443.5L293.4 444.1L291.7 445.6L290.3 448.1L289.8 450.6L289.7 505.9L239.4 505.9L239.2 450.6L238.1 446.7L235.6 443.8L233.1 442.7L230.6 442.5L223 443.5L218 445.4L215.4 448.1L214.5 450.6L214.2 505.9L133.2 505.9L133.2 440.6L134.1 435.5L137.6 431.3L142.6 427.8L145.1 426.8L160.2 425.5L167.7 423.5L178.7 417.9L195.4 412.5L207.9 410.5L228.1 410.3L233.1 409.8L250.7 401.8L270.8 391.5L275.2 387.8L276.4 385.3L277.1 380.3L276.8 372.7L275.5 367.7L272.5 362.7L269.6 360.2L265.8 358.2L253.2 353.3L248.4 350.1L243.1 345.6L238.1 343L233.1 341.6L223 341.3L218 340.5L211.6 337.6L209.2 335.1L208.2 332.6L208 327.5L209.2 322.5L213 319.1L223 314.5L230.6 305.9L235.6 302L238.1 299.1L243.1 288.3L246.7 284.8L253.2 281.8L265.8 278.2L272.1 274.8L280.9 262.6L298.4 245.3L301 243.7L306 241.7L318.6 240.7L321.1 240.2L323.6 239L326.1 236L327.2 232.1L327.4 214.5L328 209.5L329.4 207L331.1 205.4L333.6 204.6L336.2 205.3L338.7 207.7L341.7 212L343.7 214L348.7 217.5L350.8 219.5L354.3 224.5L357.4 227.1L361.3 228.2L366.3 228.3L371.4 227.7L373.9 226.3L375.6 224.5L376.8 222L377.6 217L376.4 215.7L371.4 215L368.8 213.7L366.3 210.8L365.2 207L365.1 201.9L365.7 196.9L367.1 194.4ZM293.3 274.8L280.9 283.8L271.8 297.4L271.1 299.9L270.9 304.9L271.3 307.4L273 309.9L277.3 312.5L280.9 313.6L295.9 315.8L308.5 314.5L318.6 314.2L323.9 312.5L326.5 309.9L327.9 307.4L331.3 299.9L331.9 297.4L331.3 294.9L325.5 282.3L323.6 280.4L321.1 278.9L308.5 273.2L306 272.5L298.4 272.5L295.9 273.2ZM647.9 229.3L652.9 230L656.8 232.1L659.2 234.6L660.4 239.6L660.1 244.6L659.2 247.2L655.4 250.5L651.8 252.2L647.9 253.1L637.8 253.3L635.3 252.8L632.8 251.4L631.2 249.7L630.5 247.2L631.2 244.6L633.5 242.1L639.9 237.1L643.4 232.1L645.4 230.3ZM861.6 229.2L866.6 229.3L871.6 230.9L873.6 232.1L875 234.6L874 237.1L861.6 246.9L859 243.6L857 239.6L856.3 237.1L856.3 234.6L857.4 232.1L859 230.4ZM223 231.7L230.6 231.7L233.1 232.5L235.6 234.6L236.9 237.1L238.4 242.1L238.7 247.2L236.8 252.2L233.1 255.6L228.1 256.5L223 256.3L220.5 255.6L218 253.8L215.5 249.7L214.9 244.6L216.7 237.1L218 234.6L220.5 232.5ZM763.5 241.5L766 240.5L768.5 241L769.8 242.1L771.1 244.6L771.4 247.2L771 249.7L768.5 253L766 253.5L763.5 252.5L761 249.7L760.2 247.2L760.9 244.6ZM861.6 247.3L869 254.7L871.1 257.2L871.9 259.7L871.1 262.2L864.1 269.5L861.6 271.1L859 271.9L854 272.2L851.5 271L850.1 267.2L849.6 262.2L850.2 259.7L854.1 254.7ZM205.4 267L207.9 266.8L210.5 267.6L212.6 269.8L213.2 272.3L212.8 274.8L210.5 279.5L207.9 282.3L205.4 283.1L202.9 282.3L200.4 280.4L197.9 277.3L197 274.8L197.2 272.3L199.2 269.8ZM419.1 266.8L426.7 266L434.2 266.6L436.7 267.9L438.6 269.8L439.8 272.3L440.4 277.3L440.3 307.4L439.2 311.2L436.7 314L434.2 314.8L431.7 314L430 312.5L428.6 309.9L427.8 299.9L426.7 296L424.1 292.9L419.1 289.4L417.1 287.3L411 274.8L410.6 272.3L412.7 269.8ZM524.7 269.4L534.8 269.3L549.8 270.5L590.1 270.7L597.6 270.6L612.7 269.2L657.9 269.5L660.4 270.5L662.3 272.3L663 273.9L663.4 277.3L663.2 282.3L662.3 284.8L660.4 286.6L657.9 287.6L625.3 288L620.2 289.6L612.7 294.6L610.2 295.4L607.7 294.6L600.1 289.6L595.1 288L587.5 288L575 290.6L559.9 291.4L552.4 293.9L544 299.9L539.8 302L534.8 302.7L532.2 301.6L530.3 299.9L526 292.4L521.7 287.3L519.7 283.7L519.1 279.8L519.7 273.3L520.1 272.3L522.2 270.2ZM725.8 273.6L733.4 272.5L750.9 275.4L781.1 275.4L786.1 276.4L788.7 278.2L791.1 282.3L791.3 284.8L790.3 287.3L787.4 289.9L783.6 290.9L766 291.1L761 291.8L758.5 293.2L757 294.9L756.4 297.4L757.4 299.9L758.5 301.2L765.7 307.4L771.1 315.7L776.1 322L777.5 325L781.1 336.6L783.6 339.4L786.1 340.7L791.2 341.3L806.3 341.3L811.3 340.7L813.8 339.4L815.7 337.6L816.9 335.1L817.7 325L818.2 322.5L819.5 320L821.3 318.1L823.9 316.9L833.9 316.1L837.8 315L840.8 312.5L844 306.9L846.5 304.7L851.5 303.7L874.1 303.5L886.7 300.9L896.8 300.6L918.2 304.9L947 312.5L959.6 313L969.7 312L969.7 356.3L967.1 356.3L957.1 352.3L949.5 348.5L944.5 347.7L939.5 347.9L937 348.5L929.4 352.3L924.4 353.6L911.8 353.6L904.3 351.1L895.8 345.1L891.7 343.1L886.7 342.4L884.2 343.5L882.5 345.1L881.4 347.6L881.7 351.1L884.3 357.7L884.7 360.2L883.4 362.7L880.8 365.2L876.6 367.9L871.6 369.6L861.6 370.5L851.5 370.3L846.5 369L836.4 364.4L833.9 362.4L828.9 355.4L826.4 353.6L823.9 352.7L816.3 352.2L811.3 352.7L808.8 353.6L806.5 355.2L801.2 360.9L798.7 362.2L796.2 362.3L791.2 360.6L786.1 357.8L773.6 356.3L770.8 355.2L761 349.1L758.5 348.5L748.4 348L735.9 344.9L723.3 344.3L704.4 340.1L696.7 337.6L685.6 332L678 329.7L660.4 325.9L655.4 325.5L647.9 325.9L637.8 328.2L630.3 327.9L622.7 326.4L620.1 325L618.4 322.5L618.8 320L620.2 318.3L622.7 316.7L637.8 313L650.4 311.3L673 310L708.2 309.9L713.2 309.2L723.3 306.4L729.9 302.4L732.5 299.9L733.5 297.4L732.5 294.9L723.1 287.3L721.5 284.8L721.1 282.3L722.4 277.3L723.3 275.6ZM459.3 311.6L461.9 310.8L466.9 310.6L469.4 310.8L473.1 312.5L475.3 315L477.1 320L477 322.5L475.7 325L472.6 327.5L469.4 328.6L461.9 328.6L459.3 328.1L456.8 326.8L455.1 325L454.3 323.2L454.1 320L456 315ZM567.4 317.3L572.5 316.7L578.4 317.5L584.2 320L584.9 322.5L581.3 325L572.5 326.6L563.6 325L559.9 322.5L560.7 320ZM195.4 352.2L197.9 352.1L202.9 353.1L207.1 355.2L209.4 357.7L209.7 360.2L208.5 362.7L206.3 365.2L202.5 367.7L197.9 368.8L192.9 368L188.6 365.2L186.6 362.7L185.6 360.2L186 357.7L188.2 355.2L190.4 353.7ZM155.2 354.7L160.2 354L170.2 354.3L172.9 355.2L176.5 357.7L177.2 360.2L176.2 362.7L171.7 370.2L169.5 372.7L164.3 375.2L157.7 376.3L154.8 375.2L152.2 372.7L147.6 362.7L147.3 360.2L149 357.7ZM622.7 360.1L635.3 361L647.9 363.8L657.9 368.6L660.2 370.2L661.3 372.7L659.9 375.2L657.9 376.4L642.9 380.7L639.1 382.8L637.3 385.3L638.2 387.8L645.1 395.3L646.8 397.9L647.6 400.4L647.8 405.4L647.4 407.9L645.8 410.4L641.7 412.9L637.8 414.2L625.3 416.4L620.3 417.9L615.8 420.5L613.5 423L613.8 425.5L615.2 427L622.7 432.8L625.3 435.5L626.6 438L628 443.1L629 453.1L629 505.9L463.7 505.9L463.8 488.3L465.1 483.3L466.9 480.7L473.8 475.7L479.4 468.2L487 462.5L492 455.6L500 450.6L507.1 443.6L512.1 442L524.7 441L531.1 438L533.5 435.5L534.3 433L534.2 428L533.7 425.5L532.2 422.9L528.2 420.5L524.7 419.3L509.6 416.6L504.6 415L500.8 412.9L498.5 410.4L497.7 407.9L498.2 402.9L499.5 400.4L502.1 399L507.1 397.6L509.6 396L516.4 387.8L522.4 377.8L524.7 375L529.7 371.4L537.3 369L547.3 368.2L559.9 368.4L566.8 370.2L578.5 375.2L590.1 378.4L600.1 382.3L610.2 384.2L615.2 383.8L618.3 382.8L619.5 380.3L619.3 372.7L616.6 362.7L620.2 360.6ZM723.3 358.1L725.8 360.2L726.9 362.7L728.3 364.3L729.7 365.2L737.1 367.7L740.1 370.2L741.1 372.7L740.9 375.6L738.4 382.6L735.9 385.5L733.4 384.9L724.3 372.7L723.2 370.2L721.7 362.7L722 360.2ZM695.6 367.5L698.2 367.5L700.7 368.5L702.5 370.2L703.8 372.7L704.3 375.2L704.4 382.8L702.8 390.3L700.1 395.3L695.6 399.4L693.1 400.7L688.1 401.8L685.6 401.7L683.1 400.9L680.6 398.4L679.5 395.3L679.6 385.3L680.9 380.3L683.1 376.1L685.8 372.7L690.6 369.3ZM949.5 392.1L957.1 391.6L962.1 392.2L964.6 393.5L967.1 396.5L969.7 396.5L969.7 411.2L967.1 411.2L964.6 414.3L962.1 415.9L959.6 416.5L939.5 416.6L934.2 415.4L932 412.9L931.6 410.4L932.1 407.9L934.5 402.8L937 399.3L939.5 397L944.5 394ZM768.5 407.6L776.1 406L783.6 406.1L786.1 406.6L788.9 407.9L790.8 410.4L790.9 412.9L788.7 417L786.1 418.6L783.6 418.8L773.6 416.5L769.8 415.4L765.4 412.9L764.7 410.4ZM879.2 412.8L886.7 412.1L896.8 415.9L913.9 420.5L918.4 423L918 425.5L914.3 430.5L913.3 433L913.1 435.5L916.9 444.2L918 450.6L918.1 505.9L905.6 505.9L905.6 453.1L905.2 448.1L904.3 445.3L901.8 442.9L896.8 441.9L866.6 441.8L861.6 441.2L859 439.9L857.2 438L855.9 435.5L855.3 430.5L855.4 425.5L856.5 421.6L859 418.6L864.1 416.4ZM446.8 424.3L449.3 423.6L451.8 423.7L456.8 425.4L458.1 428L458.6 430.5L458.7 433L457.9 435.5L456.8 436.8L454.3 438.8L449.3 440.8L446.8 440.8L444.3 439.7L442.6 438L441.5 435.5L441.5 433L442.2 430.5L444.3 426.6ZM786.1 427.3L788.7 427.1L798.7 429.9L802.6 433L804.2 435.5L804.8 438L805 505.9L779.9 505.9L780 438L781 433L782.4 430.5L783.6 428.9ZM700.7 432.6L720.8 432.6L723.3 433.4L725.8 435.5L727.1 438L728.6 443.1L729.5 450.6L729.6 505.9L679.3 505.9L679.3 453.1L680.1 448.1L681.6 445.6L684.4 443.1L690.6 439.4L698.2 433.3Z" fill="rgb(0,0,255)" fill-rule="evenodd"/>
<path d="M64.7 51.2L108.2 51.2L107.4 58.9L104.9 62L100 66.3L98.7 68.8L97.7 76.4L98.6 86.4L101 96.5L102.4 99.1L107.4 104.2L112.7 111.5L114.9 113.5L117.4 114.9L122.5 115.6L130 114.3L135 112.2L139.8 109L141.3 106.5L142.1 96.5L142.1 51.2L324 51.2L323.6 69.3L322.8 71.3L321.1 73.3L316 76.5L313.7 78.9L311.7 83.9L311.4 166.8L311.1 169.3L310.1 171.8L308.5 173.4L306 174.4L295.9 175L291.2 176.8L288.5 179.3L284.9 184.4L278.3 188.1L275.8 190.1L270.8 197.4L268.3 198.6L263.3 199.3L260.7 199.3L258.2 198.5L256.3 196.9L253 191.9L250.7 189.6L248.2 188.2L243.1 187.3L223 187L220.5 186.1L213.3 179.3L207.9 177.8L182.8 177.4L170.2 175.1L165.2 174.7L125 174.7L117.4 175.7L114.9 177.1L112.6 179.3L110.4 184.4L109.9 230.4L108.8 234.6L107.4 236.5L105.8 234.6L105 232.1L104.7 186.9L103.7 181.9L102.4 179.6L99.9 177.1L97.3 175.7L92.3 174.8L84.3 174.3L82.3 173.6L77.2 169.5L74.7 168.3L64.7 165L62.1 165L62.1 51.2ZM519.7 51.2L524.8 51.2L524.7 129.1L524.2 131.6L522.2 134L520.2 131.6L519.7 129.1ZM557.4 51.2L575.4 51.2L575.3 129.1L575.1 131.6L574.1 134.1L572.5 135.7L569.9 136.8L562 136.6L559.9 135.7L558.3 134.1L557.3 131.6L557 51.2ZM683.1 51.2L726.2 51.2L726 81.4L723.6 93.9L724.4 101.5L725.8 104.2L728.1 106.5L733.4 109L735.8 111.5L738.2 116.5L740.7 119.1L745.9 121.7L748.3 124.1L750.8 129.1L753.3 131.6L758.5 134.2L760.9 136.6L763.4 141.7L765.8 144.2L771.1 146.8L773.5 149.2L775.9 154.2L778.4 156.7L783.6 159.3L786 161.8L788.5 166.8L791 169.3L795.5 171.8L797 174.3L796.2 174.8L793.8 179.3L793.3 184.4L793.7 186.9L796.2 190.6L798.7 191.5L803.7 190.8L806.8 189.4L810.3 186.9L812.2 184.4L812.3 181.9L810.7 179.3L806.3 175.3L804.5 174.3L806.3 172.8L807.9 171.8L818.8 170.1L823.9 168.4L826.4 166.5L828.2 164.3L831.4 158.4L833.9 155.4L838.9 153L846.5 151.8L851.5 152.4L854 153.5L857.8 156.7L859.7 161.8L860.1 171.8L861.4 176.8L864.1 180.6L868.3 184.4L871.6 186.3L874.1 186.9L876.6 186.6L879.2 185.7L886.7 182L891.7 181.6L896.5 181.9L900.1 184.4L900.2 186.9L899.3 189L889.2 199.6L884.2 202.6L876.6 205.3L869.1 206.1L826.4 206.2L821.3 207.4L811.3 213.9L803.7 217.1L798.7 218.1L791.2 217.3L784.7 214.5L782.2 212L781.2 209.5L782.5 199.4L782.2 196.9L776.1 177.4L773.6 175.5L763.5 174.4L761 173.4L759.2 171.8L755.8 166.8L753.5 164.4L748.4 161.3L746.4 159.2L743.2 154.2L740.9 151.9L733.4 148.6L730.4 146.7L725.8 142.5L723.3 141.8L720.8 142.5L718.9 144.2L715.3 149.2L706.3 156.7L705.1 159.2L704.5 164.3L704.4 201.9L704 207L702.5 209.5L700.7 210.8L693.1 214.7L690.7 217L688.1 220.7L685.6 222.2L683.1 220.1L679.3 209.5L675.5 204.8L670.5 202.1L660.4 198.8L658.4 196.9L655.3 191.9L652.9 189.6L650.4 188.3L645.4 187.8L632.8 190.5L622.7 191L610.2 193.8L597.6 198.5L572.5 199.8L562.4 199.8L559.9 199.4L555.5 196.9L550.6 191.9L544.8 187.2L538.1 179.3L532.1 174.3L529.8 171.8L528.8 169.3L528.5 166.8L528.9 161.8L529.7 160.3L532.2 158L534.8 156.9L539.8 156.3L569.9 156.4L575 157.5L583.7 161.8L590.1 162.6L597.6 162.2L610.2 156.7L617.7 156.4L622.7 157.5L624.8 159.2L627.9 164.3L630.3 166.6L635.3 168.6L670.5 168.8L675.5 167.9L678 166.6L680.6 163.9L681.6 161.8L681.9 159.2L681.6 156.7L680.6 154.6L677.7 151.7L675.5 150.6L670.5 149.7L650.4 149.3L647.9 148.3L646.3 146.7L645.2 144.2L645 141.7L645 126.6L645.2 124.1L646.2 121.6L647.9 119.6L652.9 116.4L655.2 114L656.6 111.5L657.5 106.5L657.8 99L658.7 96.5L660.4 94.5L665.5 91.3L668 88.6L669.8 83.9L670.4 73.8L671.3 71.3L673 69.4L678 66.2L680.6 63.5L682.4 58.8L682.7 51.2ZM871.6 51.2L876.7 51.2L877.1 121.6L877.8 124.1L879.3 126.6L881.7 128.9L886.7 131.6L889.7 134.1L889.5 136.6L887.3 139.2L879.2 146.4L876.6 147.7L874.1 147.8L871.6 145.3L868.8 134.1L871 124.1L871.5 119.1ZM891.7 51.2L969.7 51.2L969.7 163.2L967.1 163.2L962.1 156L959.6 153.7L952.1 152.6L949.5 151.8L947 149.9L944.4 146.7L943.6 144.2L943 136.6L942.1 134.1L939.3 131.6L926.9 125.7L921.9 122.2L919.4 118.4L915.9 109L914.4 106.8L907.2 101.5L901.8 94.2L894.6 88.9L892.7 86.4L891.8 83.9L891.3 78.9L891.3 51.2ZM444.3 161.5L451.8 162L461.9 164.8L469.4 163.6L471.9 163.9L473.8 166.8L474 171.8L471.9 175.6L469.4 176.4L461.9 175.3L459.3 175.6L451.8 178.5L434.2 183.5L429.2 183.6L414.1 182.1L411.6 181.1L409.1 176.9L408.6 174.3L409.1 170.8L411.6 167.5L414.1 166L424.1 163.5ZM497 168.3L500 169.3L509.9 179.3L511.3 181.9L512 186.9L511.2 189.4L509.6 191.2L507.1 190.7L498.1 186.9L495.4 184.4L494.4 181.9L494.3 174.3L494.7 171.8ZM371.4 197.1L373.3 199.4L373.9 204.5L373.5 207L371.4 209.6L369.3 207L368.8 204.5L369.4 199.4ZM424.1 201.9L434.2 202L444.3 204.1L449 207L450.5 209.5L449.8 212L446.8 215L442.6 217L424.1 220.2L421.6 220.3L416.6 219.2L411.1 217L407.8 214.5L407 212L407.5 209.5L409.5 207L416.6 203.6ZM512.1 200.2L514.6 199.7L522.2 200.4L532.2 202.9L537.3 205.5L540.2 209.5L541.6 222L542.8 224.5L550 232.1L550.1 234.6L546.5 237.1L537.3 240L534.8 241.8L528.3 249.7L524.7 251.8L522.2 252.5L507.1 253.4L466.9 253.3L461.9 252.9L459.3 251.1L458.5 249.7L458.5 247.2L461.3 244.6L476.9 241.3L482 239.3L489.5 234.6L496.1 232.1L504.6 230.2L510.6 227.1L513 224.5L514.1 222L513.8 219.5L509.6 214.3L507.7 209.5L507.9 207L509.6 202.7ZM333.6 209.4L336.2 210.9L341.2 216.9L346.2 220L348.3 222L351.4 227.1L353.8 229.4L358.8 231.4L368.8 231.7L373.9 230.9L376.4 229.4L378.7 227.1L381.5 222L383.9 220L386.4 219.3L394 219.2L399 219.8L401.5 221.4L402.6 224.5L402.3 232.1L400.8 234.6L396.5 236.9L381.4 237.9L376.4 238.9L369.2 242.1L363.5 247.2L361.3 248.3L358.8 248.9L356.3 248.3L354 247.2L348.7 242.9L346.2 242.2L343.7 242.9L341.2 245.2L338 252.2L337.1 259.7L338.7 264.4L341.2 267.1L346.2 270.2L348.3 272.3L351.4 277.3L354.1 279.8L358.8 281.4L363.8 281L371.4 279.5L383.9 281.6L394 280.1L396.5 280.5L398 282.3L399 284.8L399.1 294.9L398.2 297.4L396.5 299.2L394 300.4L383.9 303.1L371.4 304.3L368.8 305.4L361.3 311.4L358.8 312.5L348.7 315.2L346.2 316.8L344.1 320L343.8 322.5L344.4 325L346.2 327.8L348.7 329.7L358.8 333.3L360.4 335.1L361.4 337.6L361.5 360.2L359.8 365.2L357.1 370.2L356.7 372.7L357.4 375.2L358.8 377.2L361.3 378.6L368.8 379.4L371.4 380.4L373.9 382.8L379.1 390.3L386.5 395.3L394 402.4L396.5 403.5L404 404.2L409.1 403.6L411.6 402.4L416.8 397.9L421.5 395.3L431.7 393.2L434.2 394L435.3 395.3L436.5 397.9L437 400.4L436.9 407.9L436 410.4L434.2 412.2L429.2 413.3L411.6 413.2L404 414.1L386.4 419.2L381.4 422.6L379.3 425.5L377.2 430.5L376.3 435.5L377.6 450.6L377.6 505.9L305.6 505.9L305.4 450.6L303.6 445.6L301.6 443.1L298.4 440.6L295.9 439.6L293.4 439.7L290.9 440.8L288.4 443.4L286.6 448.1L286.3 505.9L242.8 505.9L242.4 448.1L240.6 443.4L238.1 440.8L235.6 439.6L233.1 439.2L223 441L218 442.4L213.4 445.6L211.7 448.1L210.9 453.1L210.8 505.9L138.9 505.9L138.9 440.6L139.2 438L140.3 435.5L142.6 433.1L147.6 431.2L160.2 430.6L170.2 428.9L172.8 427.6L177.9 423L181.9 420.5L195.4 415.6L207.9 414L230.6 413.8L235.6 413L275.6 392.8L278.1 390.3L279.4 387.8L280.3 382.8L279.9 370.2L278.3 363.9L275.6 360.2L272 357.7L268.3 355.9L258.2 353.1L253.2 350.5L250 347.6L245.7 342.2L243.1 340.4L235.6 338.4L223 337.8L218 336.3L215.5 334L214.3 330L214.7 325L216.2 322.5L225.5 317.3L227.9 315L231.2 309.9L233.1 308L238.1 304.8L240.6 302.1L245.7 292.5L251 287.3L255.7 284.3L263 282.3L270.8 281.3L273.4 282.3L273.9 284.8L273 287.3L266.3 294.9L265.1 297.4L264.5 302.4L264.8 307.4L265.7 309.9L268.6 312.5L278.3 315.7L295.9 318.9L308.5 316.9L321.1 316.3L324.8 315L328.3 312.5L337.9 299.9L338.6 297.4L337.9 294.9L333.6 289.7L328.6 280.1L326.1 277.5L316.2 272.3L311 267.7L308.5 266.6L303.5 266L290.9 265.7L290 264.7L291.1 259.7L292.8 257.2L303.7 247.2L308.5 244.8L318.6 244.2L323.6 243.3L326.1 241.9L328.4 239.6L330.4 234.6L331.1 213.1L331.4 212ZM647.9 233.7L650.4 233.7L651.9 234.6L653.6 237.1L654 242.1L652.9 246L650.4 248.4L647.9 249.5L642.9 249.9L637.8 249.4L635.2 247.2L636.7 244.6L640.3 242.1L642.7 239.6L645.4 235.6ZM861.6 234.3L864.1 233.8L865.7 234.6L864.9 237.1L864.1 237.6L861.6 237.3ZM223 238.4L228.1 237.8L230.6 238.4L233.1 240.4L234.7 244.6L234.7 247.2L233.1 250L230.6 251.3L225.5 251.6L223 251.3L220.2 249.7L218.9 247.2L218.9 244.6L220.5 240.4ZM763.5 244.3L766 242.4L768.5 243.3L769.5 244.6L769.9 247.2L768.5 250.7L766 251.5L763.4 249.7L762.6 247.2ZM112.4 254.2L114.9 252.9L117.4 252.4L122.5 253.3L125 255.1L130.3 262.2L137.6 267.7L140 272.3L140.6 284.8L141.6 289.9L142.6 291.7L145.1 293.7L150.1 294.5L165.2 294.5L167.7 294.8L170.2 295.8L171.9 297.4L172.9 299.9L173.2 307.4L174.1 312.5L175.5 315L177.8 317.4L181.4 320L182.9 322.5L180.3 324.7L177.8 325.2L137.6 325.4L132.5 326.3L120 331.1L117.4 332.8L112 340.1L109.9 341.6L104.9 342.9L94.8 342.8L89.8 341.9L87 340.1L82.3 330.3L79.7 329.3L77.2 330.6L75.8 332.6L75.1 335.1L75.1 337.6L76.5 342.6L82.3 353.3L84.3 360.2L83.8 362.7L82.3 364.3L79.7 363.8L67.2 354.2L64.7 352.8L62.1 352.8L62.1 317L67.2 316.6L71.4 315L74.3 312.5L75.9 309.9L77.2 306.7L78.6 299.9L79.5 284.8L82.3 279.1L84.8 276.8L94.8 272.4L99.9 264.9L107.4 260ZM859 257L861.6 256L864.2 257.2L865.2 259.7L864.1 262.4L861.6 263.9L859 263.4L857.9 262.2L857.4 259.7ZM285.9 266.7L288.4 266.6L289.2 267.2L288.9 269.8L287.7 272.3L284.5 274.8L283.4 275.2L281.5 274.8L280.4 272.3L281.6 269.8L283.4 267.9ZM424.1 269.5L432.1 269.8L434.2 270.7L435.8 272.3L436.8 274.8L436.7 304.9L436.2 307.4L434.2 309.8L432.2 307.4L431.3 297.4L430.6 294.9L429 292.4L426.7 290L421.6 286.8L419.8 284.8L417.9 279.8L417 274.8L417.8 272.3L421.6 269.9ZM529.7 277.3L532.2 276.3L537.3 275.5L572.5 275.9L577.5 277.3L580 279.8L580.5 282.3L578.6 284.8L572.5 287.3L557.4 288.1L549.8 290L544.8 292.6L539.4 297.4L537.3 298.4L534.8 298.3L532.2 296L527 284.8L526.6 282.3L527.2 279.9ZM607.7 276.4L612.7 276.4L615.2 277.3L617.8 279.8L618.4 282.3L617.3 284.8L612.7 288.5L610.2 289.2L607.7 288.5L603.1 284.8L601.9 282.3L602.6 279.7L605.1 277.3ZM733.4 279.8L738.4 279.2L750.9 280.3L781.1 280.5L783.6 280.9L786.2 282.3L786.7 284.8L783.6 287.1L763.5 287.6L758.5 288.6L756 290L753.7 292.4L752.5 294.9L752.4 297.4L753.4 299.9L756 303.1L763.5 309.8L771.8 322.5L774.2 327.5L777.4 337.6L778.6 339.8L781.1 342.4L783.6 343.9L788.7 344.8L806.3 345L811.3 344.8L813.8 344.1L816.3 342.5L818.6 340.1L820 337.6L820.9 332.6L821.2 325L822.2 322.5L823.9 320.9L826.4 319.9L833.9 319.5L838.9 318.6L841.4 317.3L843.8 315L846.8 309.9L849 308.1L850.8 307.4L874.1 306.9L886.7 305.5L896.8 305.4L914.4 307.7L937 315.8L942 317L952.1 317.9L969.7 317.3L969.7 351.8L967.1 351.8L961.8 350.1L957.3 347.6L952.1 343.1L949.5 341.9L944.5 341.3L937 341.9L934.5 343.1L929.3 347.6L924.4 350L919.4 350.5L912.6 350.1L907 347.6L901.8 342.9L899.3 341.3L891.7 338.9L886.7 338.6L881.7 340.3L879.4 342.6L878.1 345.1L877.6 350.1L878.9 357.7L878.6 360.2L876.7 362.7L872.5 365.2L866.6 366.9L859 367.7L851.5 367.6L846.5 366.3L838.4 362.7L835.5 360.2L832.7 355.2L830.7 352.6L828.9 351.3L823.9 349.7L811.3 349L806.3 351.1L798.7 359L796.2 359L793.6 357.7L788.7 353.5L783.6 352.2L776.1 351.9L773.6 351.4L763.2 345.1L758.5 344.3L748.4 343.9L733.4 339.8L723.3 339.4L710 337.6L703.2 335.1L695.6 330.4L690.6 328.3L683.1 326.5L673.1 325L667.6 322.5L667.1 320L670.4 317.5L673 316.7L710.7 316L720.8 313.8L725.8 311.3L737.1 302.4L739.3 299.9L740.4 297.4L740 294.9L738.4 292.8L731.5 287.3L729.5 284.8L729.7 282.3ZM461.9 316.8L466.9 316.4L469.4 316.8L471.9 318.5L472.7 320L472.6 322.5L469.4 324.9L461.9 324.9L458.5 322.5L458.5 320L459.3 318.5ZM627.8 319.5L632.8 318.8L637.8 319.2L639.8 320L640.2 322.5L635.3 324.5L632.8 324.6L627.8 324L623.9 322.5L625.6 320ZM192.9 354.9L197.9 354.1L202.9 355.4L206.1 357.7L207 360.2L206.3 362.7L204.1 365.2L200.4 367.2L197.4 367.7L192.9 366.6L190.4 364.9L188.7 362.7L188.1 360.2L189 357.7ZM160.2 357.4L167.7 357.5L170.2 358.4L172.1 360.2L172 362.7L170.2 366.3L167.3 370.2L162.6 372.7L157.7 373.1L154.8 370.2L153 362.7L153.8 360.2L155.2 359.1L157.7 357.9ZM632.8 367.2L637.8 367L645.4 368.2L650.7 370.2L652 372.7L647.8 375.2L637.8 377.7L632.8 377.7L628.8 375.2L627.4 372.7L627.8 370.1L630.3 367.9ZM94.8 370.1L102.4 369.9L107.4 370.4L112.2 372.7L120.3 380.3L122.4 382.8L123.7 385.3L124.5 390.3L124.3 395.3L123.5 397.9L121.4 400.4L117.4 402.2L109.9 402.3L104.9 400.9L100.1 397.9L98.5 395.3L97.2 385.3L91.1 375.2L90.6 372.7L92.3 370.9ZM537.3 372.4L547.3 370.7L559.9 371.1L564.9 372.7L575 377.1L587.5 380.3L600.1 386.9L622.7 391.1L632.8 391.9L635.3 392.7L637.8 394.6L640.4 397.9L641.3 400.4L641.5 405.4L640.9 407.9L638.7 410.4L635.3 411.8L625.3 413.2L620.2 414.6L608.8 420.5L606.3 423L606.2 425.5L608.1 428L618.3 435.5L620.9 438L622.7 440.6L625.3 447.7L625.6 505.9L466.1 505.9L466.3 488.3L466.8 485.8L468.1 483.3L476.9 475.9L482 469.3L487.2 465.7L489.5 463.4L494.5 456.8L502.1 452.4L509.6 446.1L512.1 445.3L522.2 444.9L529.7 443.6L534.8 441.8L537.3 440.1L539.1 438L540 435.5L538.9 428L537.3 423L535.2 420.5L529.7 417.9L514.6 414.7L509.3 412.9L506.1 410.4L505.7 407.9L512.1 399.7L527 377.8L532.2 374.1ZM569.1 435.5L568.9 438L569.9 439.2L572.5 440.2L575 439.2L576 438L575.9 435.5L575 434.8L572.5 434ZM695.6 371.8L698.2 371.9L699.3 372.7L700.7 375.2L701 380.3L700.5 385.3L698.2 390.1L693 395.3L689.3 397.9L685.6 398.1L683.1 394.6L682.8 390.3L683.2 385.3L685.8 380.3L693.1 373ZM733.4 372.1L736.2 372.7L736.4 375.2L735.9 376.3L733.4 376.1L732.8 375.2L732.5 372.7ZM952.1 395.1L959.6 395.2L962.1 396.2L963.7 397.9L964.8 400.4L965 405.4L964.7 407.9L963.6 410.4L962.1 411.9L959.9 412.9L957.1 413.3L942 413.2L939.4 412.9L937 411.7L936.1 410.4L936.2 407.9L939.5 403.1L945.1 397.9L949.5 395.6ZM773.6 410.3L778.6 409.4L783.6 409.6L785.6 410.4L785.4 412.9L783.6 413.7L776.1 413ZM879.2 417.8L886.7 417.4L900.1 420.5L905.7 423L907.3 425.5L906.6 430.5L905 435.5L901.8 437.8L896.8 438.4L866.6 438.4L864.1 438.2L861.6 437.1L859.9 435.5L858.9 433L858.9 425.5L859.9 423L861.6 421.2L864.1 420.1ZM446.8 432.9L449.3 432.5L449.8 433L449.4 435.5L446.8 435.5ZM786.1 432.7L788.7 431.8L796.2 432.7L798.7 433.9L800.2 435.5L801.3 438L801.6 505.9L783.3 505.9L783.3 440.6L784.1 435.5ZM698.2 440L703.2 438.7L718.3 438.8L720.8 439.3L723.3 441.3L724.2 443.1L725.8 447.8L726.1 450.6L726.2 505.9L682.7 505.9L683 450.6L684 448.1L685.6 446.4ZM911.8 445.7L913.3 448.1L914.4 453.1L914.4 505.9L909.3 505.9L909.3 450.6L909.8 448.1Z" fill="rgb(8,8,255)" fill-rule="evenodd"/>
<path d="M64.7 51.2L105.9 51.2L105.6 56.3L104.9 58.2L99.9 61.6L97.7 63.8L96.3 66.3L95.1 73.8L95.6 83.9L99.5 96.5L102.3 101.5L107.4 105.9L111.6 111.5L114.2 114L117.4 115.7L122.5 116.4L130 115.2L135 113.3L141.6 109L143.1 106.5L144.3 93.9L144.4 51.2L321.3 51.2L321.2 66.3L320.7 68.8L318.9 71.3L313.5 74.2L311.4 76.4L310 78.9L308.9 83.9L308.7 164.3L308.1 169.3L306 171.4L304.4 171.8L293.4 172.5L288.4 174.7L286.2 176.8L283.4 182L280.9 183.9L275.8 186.1L273.3 188.4L270 194.4L268.3 195.8L263.3 196.7L260.7 196.4L258.2 194.7L255.4 189.4L253.2 187.2L250.7 185.8L245.7 184.7L225.5 184.5L223 184.1L220.5 182.4L218 179.3L215.5 177.6L212.8 176.8L205.4 176.2L182.8 175.9L167.7 172.1L125 172L120 172.3L114.9 173.8L112.4 175L107.4 178.9L102.4 175L97.3 172.9L84.8 171.6L77.2 167.1L69.7 165.8L64.7 163.6L62.1 163.6L62.1 51.2ZM559.9 51.2L572.7 51.2L572.6 129.1L572 131.6L569.9 133.7L567.4 134.3L562.4 133.7L560.3 131.6L559.8 129.1ZM685.6 51.2L723.5 51.2L723.4 81.4L721.7 91.4L721.4 96.5L722.1 101.5L723.2 104L725.8 107.8L733.4 111.6L737.1 119.1L738.4 120.3L745.9 124.2L749.7 131.6L750.9 132.9L758.5 136.7L762.2 144.2L763.5 145.4L771.1 149.3L774.8 156.7L776.1 158L783.6 161.9L787.7 169.3L791.2 171.8L793 174.3L792.2 181.9L792.5 186.9L793.7 190.2L795.4 191.9L798.7 192.9L803.7 192.3L808.8 190.3L814.6 186.9L817.5 184.4L818.3 181.9L817.3 179.3L815.1 176.8L814 174.3L823.9 171L826.4 169.1L828.9 166.4L833.9 157.3L836.4 155.3L841.4 153.6L846.5 152.9L851.5 153.6L854 154.9L856.5 157.5L858.2 161.8L858.6 174.3L859.6 179.3L861 181.9L866.6 186.4L871.6 188.9L874.1 189.4L879.2 189L886.7 185.4L889.2 184.8L891.7 185L894.7 186.9L886.7 197.7L884.2 199.7L876.6 202.9L869.1 203.9L823.9 204.3L818.8 205.9L809.6 212L803.7 214.7L798.7 215.8L793.7 215.2L788.7 213.1L787 212L785 209.5L784.5 207L784.9 199.4L784.3 196.9L780.7 189.4L778.6 178.2L776.8 174.3L773.6 172.4L763.5 171.4L761 169.6L758.2 164.3L756 162.1L750.5 159.2L748.4 157.1L745.6 151.7L743.4 149.5L735.9 146.1L733.6 144.2L730.8 140.3L728.3 138.2L723.3 136.9L720.8 137.2L717 139.2L714.8 141.7L711.7 146.7L704.4 151.7L702.2 154.2L701.1 156.7L700.3 161.8L700.1 204.5L699.5 207L698.2 208.5L691.1 212L688.1 214.1L685.6 214.5L681.5 204.5L679.4 201.9L673 199L662.9 196.9L660.4 194.8L657.6 189.4L655.4 187.2L650.4 185.1L645.4 184.8L625.3 186.7L607.7 192.3L600.1 195.6L595.5 196.9L562.4 197.5L559.9 196.9L557.4 195.2L547.3 185.8L533.9 171.8L532.8 169.3L532.6 164.3L533.3 161.8L534.8 160.3L537.3 159.1L547.3 158.6L569.9 158.7L572.9 159.2L582.5 163.8L590.1 164.8L595.1 164.7L600.1 163.8L610.2 159.2L617.7 158.9L620.2 159.3L622.7 161.2L625.8 166.8L627.8 168.9L630.3 170.3L635.3 171.4L670.5 171.6L675.5 171.1L680.6 168.9L682.7 166.8L684.8 161.8L684.8 156.7L682.7 151.7L680.6 149.5L675.5 147.4L670.5 146.9L652.9 146.8L650.4 146.3L648.3 144.2L647.7 141.7L647.7 126.6L648.2 124.1L650.1 121.6L655.4 118.7L657.6 116.5L659 114L660.1 109L660.8 99L662.7 96.5L668 93.6L670.2 91.4L671.6 88.9L672.6 83.9L673.4 73.8L675.2 71.3L680.6 68.5L682.7 66.3L684.1 63.8L685.2 58.8ZM894.2 51.2L969.7 51.2L969.7 161.2L967.1 161.2L962.1 151.9L959.6 149.6L952.1 148.3L949.2 146.7L947.9 144.2L946.8 134.1L945.5 131.6L942 129.5L937 128.1L929.4 125L923.6 121.6L920 116.5L917 109L915.4 106.5L908.8 101.5L902.9 93.9L896.3 88.9L894 86.4L892.5 81.4L892.3 51.2ZM874.1 129.1L876.6 129.5L883 134.1L883 136.6L876.6 142.4L874.1 141.5L873.1 136.6L872.9 134.1ZM426.7 164L439.2 162.9L449.3 163.1L454.3 164.8L461.5 169.3L461.7 171.8L452.9 176.8L434.2 182.3L429.2 182.3L416.6 180.4L414.1 179.6L411.6 177.8L410.2 174.3L410.3 171.8L411.6 169.3L416.6 166.4ZM499.6 176.1L505.9 181.9L507.1 184.6L504.6 185.1L499.6 183.9L498 181.9L497.8 179.3ZM421.6 204.1L429.2 203.7L436.7 204.3L444 207L446.1 209.5L445.2 212L441.2 214.5L434.2 216.3L424.1 217.6L421.6 217.6L416.6 216.1L413.4 214.5L410.8 212L410.8 209.5L413.6 207ZM514.6 206.1L522.2 206L529.7 206.9L532.2 207.5L534.8 208.9L536.4 212L537.8 224.5L539.8 228.4L543.3 232.1L542.3 234.6L537.3 236.1L534.8 237.7L532.2 240.5L528.2 247.2L525.3 249.7L522.2 250.9L517.2 251.1L504.6 249.3L484.5 248.6L474.2 247.2L479.4 246L487 242.6L489.5 240.9L493.3 237.1L497 235L507.1 232.9L509.6 231.7L515 227.1L518.5 222L518.8 219.5L517.2 215.7L513.1 212L511.6 209.5L512.5 207ZM336.2 217.9L344.1 222L346.5 224.5L349 229.6L351.2 232L353.8 233.5L363.8 235.1L367.5 237.1L361.3 243.6L358.8 245L356.3 243.6L351.2 238.4L348.7 237.5L343.7 237.7L341.2 238.7L338.7 240.7L336.4 244.6L334.3 254.7L334.4 262.2L336.5 267.2L338.7 269.4L344.1 272.3L346.2 274.4L349.1 279.8L351.2 282L353.8 283.4L358.8 284.3L371.4 283.3L381.4 284.4L394 284.1L395.1 284.8L396.5 287.5L396.6 292.4L396.1 294.9L394 297.3L383.9 299.1L373.9 299.6L368.8 300.4L365 302.4L360.9 307.4L358.8 309.1L356.3 310.2L348.7 311.4L343.7 313.8L341.6 317.5L341.2 320L341.7 325L344.5 330L346.2 331.9L348.7 333.3L356.3 335.1L358.4 337.6L358.8 339.1L359.3 355.2L358.9 360.2L355.3 367.7L354 372.7L354.4 375.2L356.3 379.1L358.8 381.6L361.3 382.6L368.8 383.6L371.4 385.1L376.4 393.3L384.1 397.9L388.9 404.3L391.5 406.6L399.4 410.4L383.9 414.3L381.1 415.4L378.9 416.9L376.4 420.1L374.5 425.5L373 433L372.7 438L373.4 450.6L373.4 505.9L308.3 505.9L308.1 450.6L307.5 448.1L306.1 445.6L301.8 440.6L298.4 438.2L295.9 437.2L293.4 436.9L289.3 438L286.4 440.6L285.1 443.1L283.8 448.1L283.6 505.9L245.5 505.9L245.2 448.1L244 443.1L242.6 440.6L239.7 438L235.6 436.9L230.6 437.4L215.5 441.8L210.7 445.6L209 448.1L208.2 453.1L208.1 505.9L143 505.9L143 443.1L143.6 438L145.1 435.8L147.6 434.7L165.2 433.9L172.8 432.6L175.3 431.5L177.8 429.3L182.6 423L187 420.5L195.4 417.5L207.9 416.1L230.6 416L238.1 415.1L240.6 414.2L249.3 407.9L270.3 397.9L277.5 395.3L280.9 391.7L282.4 385.3L282.5 372.7L281.8 365.2L281 362.7L279.1 360.2L270.8 354.9L258.2 351.5L255.4 350.1L252.4 347.6L247.4 340.1L245.7 338.2L243.1 336.8L235.6 335.5L223 335L220.5 333.8L219.3 332.6L218.6 330L219.2 325L221.9 322.5L228.1 319.7L230.2 317.5L233.1 312.1L235.6 309.7L240.6 307.1L242.8 304.9L245.7 298.6L248.2 295.2L252.1 292.4L256.7 287.3L258.2 286.6L263.3 285.8L265.8 286.3L266.6 287.3L262.2 292.4L260.6 297.4L260.5 307.4L261 309.9L262.3 312.5L267.2 315L295.9 320.9L308.5 318.4L321.1 317.8L326.1 316.2L328.6 314.7L336.2 307.5L340.1 304.9L342.1 302.4L343.4 297.4L342.1 292.4L340.1 289.9L336.2 287L334.4 284.8L331.1 277.8L328.6 275.1L321.1 271.5L318.9 269.8L316 265.9L313.5 263.8L308.5 262.1L301 261.2L297.7 259.7L299.2 257.2L302.4 254.7L306.4 249.7L308.5 248.1L311 247.1L323.6 246.4L328.1 244.6L331 242.1L332.6 239.6L333.1 237.1L333.6 221.6L334.3 219.5ZM388.9 221.9L394.1 222L396.5 223L397.9 224.5L398.4 229.6L397.8 232.1L396.5 233.4L394 234.6L381.4 234.6L379.5 232.1L383.6 224.5L386.4 222.3ZM647.9 239.9L648.8 242.1L648.5 244.6L647.9 245.3L645.4 245.7L644.1 244.6ZM225.5 244.2L229.2 244.6L229 247.2L224.6 247.2L224.4 244.6ZM766 243.8L768.3 244.6L769 247.2L768.5 248.7L766 250.2L764 247.2L764.9 244.6ZM114.9 254.6L117.4 253.7L120 253.7L122.5 254.6L125 256.7L130 263.4L135.5 267.2L137.8 269.8L139.3 274.8L140.1 290.9L142.6 295.7L145.1 296.8L147.6 297.1L166.2 297.4L167.7 297.8L169.8 299.9L171 312.5L171.7 315L174.4 320L172.8 321.8L170.2 322.5L135 323.1L126.2 327.5L119.6 330L116.3 332.6L112.4 338.1L110.2 340.1L107.4 341.4L104.9 341.9L94.8 341.7L89.8 340.1L87.5 337.6L84.8 330.5L82.3 326.7L79.7 325.2L77.2 325.4L74.2 327.5L71.6 332.6L71.2 337.6L72.4 345.1L72.2 348L69.7 349.9L62.1 349.1L62.1 320.9L67.2 320.6L72.2 319.7L74.7 318.6L77.2 316.1L78.8 312.5L79.7 308.2L81 287.3L82.6 282.3L84.8 279.6L87.3 277.8L94.8 274.6L97.2 272.3L100.4 267.2L102.4 265.3L107.4 262.1L112.4 256.5ZM426.7 272.1L431.7 272.7L433.8 274.8L434.3 277.3L434.2 285.2L433.5 287.3L431.7 289L424.1 285.1L421.6 282.3L420.7 277.3L420.9 274.8L421.6 273.8L424.1 272.3ZM534.8 282.2L539.8 281.3L569.2 282.3L557.4 283.4L554.6 284.8L547.3 286.3L542.3 288.7L537.3 293.2L534.8 292.7L532.9 287.3L532.8 284.8ZM738.4 284.3L745.9 283.8L753.9 284.8L753.1 287.3L749.3 292.4L748.6 294.9L749 297.4L752.6 302.4L761.2 309.9L767.6 320L770.3 325L773.3 332.6L775.1 340.1L778.1 345.1L778.9 347.6L774.4 347.6L768.5 343.9L764.4 342.6L750.9 342L745.9 341.1L733.4 336.4L712 335.1L706.9 332.6L703.2 328.8L700.7 327.1L693.1 323.7L687.9 322.5L695.6 321.3L720.8 319.2L725.8 317.7L728.3 316.1L733.5 309.9L741.3 302.4L745.3 297.4L745.7 294.9L744.7 292.4L740.9 288.5L739.1 287.3L737.4 284.8ZM854 309.8L874.1 309.6L891.7 308.3L909.3 309.2L914.4 310.2L926.9 314.8L939.5 320.4L949.5 321.3L969.7 321.1L969.7 348.5L964.6 347.9L962.1 346.8L959.9 345.1L955.9 340.1L952.1 338.1L949.5 337.5L939.5 337.2L934.5 338.1L930.7 340.1L926.6 345.1L924.4 346.7L921.9 347.6L916.9 347.8L914.3 347.6L911.8 346.7L909.7 345.1L905.6 340.1L901.8 338.2L891.7 336.3L884.2 336.3L879.2 338L877 340.1L875.6 342.6L874.7 347.6L875.5 357.7L874.7 360.2L871.8 362.7L866.6 364.7L861.6 365.7L854 365.9L848.3 365.2L842.1 362.7L838.1 360.2L836.3 357.7L834.5 352.6L831.4 349.4L823.9 347L820.1 345.1L823.1 337.6L824.3 325L826.4 322.9L827.9 322.5L836.4 322.1L841.4 321L844 319.6L846.1 317.5L849 312.1L851.5 310.2ZM793.7 348.9L796.2 348L798.7 348L801.5 350.1L798.7 354.2L796.2 354.2L792.3 350.1ZM192.9 356.4L197.9 355.4L202.9 356.9L203.9 357.7L205.5 360.2L204.8 362.7L202.5 365.2L200.4 366.2L197.9 366.7L192.9 365.6L189.9 362.7L189.5 360.2L190.9 357.7ZM157.7 361.9L160.2 360.6L162.7 360.4L165.2 360.8L167.7 362.7L163.6 367.7L160.2 369.7L157.5 367.7L157 365.2L157.1 362.7ZM544.8 372.6L552.4 372.2L559.9 373L572.5 378.3L587.5 382L597.6 388.6L600.1 389.4L612.7 391.5L625.3 395.5L632.8 396.2L635.7 397.9L636.9 400.4L637.3 402.9L637.2 405.4L636.3 407.9L632.8 409.7L622.7 411.2L608.4 417.9L603.9 420.5L601.7 423L601.2 425.5L601.9 428L603.8 430.5L611.9 435.5L620.2 444.3L622.2 448.1L622.9 453.1L622.9 505.9L467.5 505.9L467.6 490.8L468.4 485.8L470.1 483.3L477 478.2L482.6 470.7L489.5 465.7L495.2 458.1L504.2 453.1L510.9 448.1L514.6 447.4L527.2 446.9L534.8 445.6L539.8 443.9L543.2 440.6L544.1 438L544.1 435.5L539.9 423L537.3 419.4L532.2 416.8L514.9 412.9L510.7 410.4L510.3 407.9L517.1 395.3L522.2 388.5L527.2 380.1L529.7 377.6L534.8 374.9ZM566.2 433L563.9 435.5L563.3 438L564.1 440.6L567.4 444L569.9 445L575 445L578.8 443.1L580.9 440.6L581.6 438L581 435.5L577.5 432.3L572.5 430.8L569.9 431.2ZM97.3 374.5L99.9 373.3L102.4 372.9L104.9 373L107.4 373.9L109.4 375.2L113.5 380.3L117.4 382.9L119.9 385.3L120.8 387.8L121 392.8L120.6 395.3L118.9 397.9L114.9 398.9L109.9 398.7L106.8 397.9L104.9 396L103.8 392.8L103.3 385.3L102.5 382.8L96.8 375.2ZM695.6 377.3L697.5 380.3L697.7 382.8L696.9 385.3L695.6 387.2L688.1 393.2L686.2 390.3L686 387.8L686.8 385.3L688.1 383.4ZM424.1 397.6L429.2 397L431.7 397.1L432.7 397.9L434.1 400.4L434.3 405.4L433.8 407.9L431.7 410L429.2 410.5L419.1 410.4L416.6 409.9L412.8 407.9L416.6 404.4L419.5 400.4ZM954.6 397.7L959.6 398.3L961.7 400.4L962.2 402.9L962.1 406.3L961.7 407.9L959.6 410L957.1 410.5L947.1 410.4L944.5 409.9L942 408.6L941.6 407.9L947.5 400.4L952.1 397.9ZM866.6 422.6L884.2 421.2L896.8 422.7L899.3 423.6L901.6 425.5L901.8 430.5L901 433L899.3 434.6L896.8 435.6L865.6 435.5L864.1 435.1L862 433L861.4 428L862 425.5L864.1 423.2ZM788.7 435.2L793.7 435.1L796.2 435.7L798.3 438L798.7 439.6L798.9 505.9L786 505.9L786 440.6L786.3 438ZM698.2 445.1L703.2 444.4L718.3 444.5L720.8 445.3L722.7 448.1L723.5 453.1L723.5 505.9L685.4 505.9L685.6 452.1L686 450.6L688.1 448Z" fill="rgb(17,17,255)" fill-rule="evenodd"/>
<path d="M147.6 51.2L285.7 51.2L285.1 63.8L282.8 68.8L280.9 70.8L274.5 73.8L273.3 75L270.2 81.4L268.3 83.3L261.9 86.4L260.7 87.6L257.7 93.9L255.7 95.9L249.3 99L248.2 100.1L245.1 106.5L243.1 108.5L236.8 111.5L235.6 112.7L232.5 119.1L230.6 121L224.3 124.1L223 125.5L220 136.6L219.8 166.8L219.6 169.3L218.8 171.8L218 172.5L215.5 173.8L210.5 174.5L182.2 174.3L175 171.8L172.1 169.3L171.1 166.8L170.8 164.3L169.5 161.8L165.2 160.8L125 160.9L122 161.8L119.2 166.8L116.4 169.3L112.4 171L107.4 172L102.4 171L98.4 169.3L95.6 166.8L92.8 161.8L89.8 160.9L84.8 161.2L79.7 164.2L74.7 165L69.7 164.6L64.7 162.1L62.1 162.1L62.1 122.5L64.7 122.5L65.4 121.6L64.7 120.6L62.1 120.6L62.1 86.1L64.7 86.1L67.2 85.2L72.2 84.6L89.8 84.7L92.3 85.7L94.8 88.7L98.6 99L100 101.5L107.4 107.7L112.4 113.7L114.9 115.5L117.4 116.6L122.5 117.2L130 116.1L135 114.3L140.3 111.5L143.3 109L144.7 106.5L145.3 104L147.3 91.4ZM894.2 51.2L961.5 51.2L961.8 86.4L962.1 88.7L964.6 89.6L967.1 87.5L969.7 87.5L969.7 118.1L967.1 118.1L962.1 112.7L957.1 117.9L947 124.6L942 126L937 125.9L934.5 125.2L926.9 121.9L924.4 120.2L921.4 116.5L916.8 106.5L914.4 104L909.3 100.6L904.3 93.9L901.8 91.5L896.8 88L894 83.9L893.3 78.9L893.3 51.2ZM967.1 125.1L969.7 125.1L969.7 158.8L967.1 158.8L961.4 144.2L961.7 139.2L963.3 131.6L964.6 128.6ZM846.5 153.9L851.5 154.8L854.4 156.7L856.1 159.2L856.8 161.8L857 169.3L856 184.4L869.1 190.7L879.2 192.8L881.7 193.8L882.3 194.4L882 196.9L879 199.4L871.6 201.6L828.9 201.7L821.3 202.4L815.9 204.5L804.1 212L798.7 213.5L793.7 212.4L789.5 209.5L788.3 207L788 199.4L787.3 196.9L783.6 192.4L781.1 186.9L780.5 179.3L781.4 174.3L783.6 172.2L786.1 172.3L789.5 174.3L790.6 176.8L791.6 189.4L792.4 191.9L793.7 193.4L798.7 194.4L806.3 193.3L816.7 189.4L826.4 185L829 184.4L829.6 181.9L826.5 176.8L826.4 174.3L831 166.8L834.3 159.2L836.4 157L838.9 155.7ZM547.3 161.6L569.9 161.6L582.5 166.3L590.1 167L597.6 166.7L602.6 165.5L610.2 162.5L612.7 162.2L615.2 162.6L618.3 164.3L620.9 169.3L621.9 174.3L622 179.3L621.5 181.9L619.7 184.4L616.2 186.9L595.1 194.4L562.4 194.5L559.9 193.4L558 191.9L549.9 184.4L538.4 171.8L537.5 169.3L537.8 166.8L539.2 164.3L542.3 162.6ZM431.7 164.1L444.3 163.8L449.3 164.6L454.3 167.1L456.5 169.3L456.8 171.8L454.7 174.3L449.8 176.8L439.2 180.2L434.2 181.3L429.2 181.1L419.1 179.3L414.1 177.2L412 174.3L412 171.8L413.9 169.3L416.6 167.7L421.6 165.9ZM419.1 206.8L424.1 205.8L434.2 206L437.7 207L440.8 209.5L439.3 212L434.2 213.9L426.7 214.9L421.6 214.9L419.1 214.1L415.8 212L415.3 209.5ZM524.7 224L527.2 224.4L530.7 227.1L532.1 229.6L532.6 232.1L532 234.6L527.3 244.6L525.5 247.2L522.2 249L519.7 249.3L517.2 248.8L513.2 247.2L511 244.6L510.4 242.1L510.8 237.1L514.4 232.1L519.7 226.9L522.2 225ZM114.9 256.2L117.4 255L120 254.9L122.5 255.9L130 264.7L136.5 269.8L137.8 272.3L138.5 277.3L138.3 289.9L137.5 294.9L135 300.1L133.9 317.5L133.1 320L131.3 322.5L127.5 325.4L117.4 330.1L109.9 339L107.4 340.3L104.9 340.9L94.8 340.7L92.3 339.9L89.3 337.6L81.7 320L82.1 297.4L82.8 287.3L84.8 282.3L87.5 279.8L96.9 274.8L102.4 267.4L109.5 262.2ZM748.4 302.3L760.5 312.5L765.2 320L767.5 325L770 332.6L770.4 335.1L769.7 337.6L768.5 338.5L766 339.3L761 339.8L748.4 339.5L742.8 337.6L738.8 335.1L736.5 332.6L735 327.5L734.8 322.5L736.9 312.5L738.3 309.9L743.4 304.6L745.9 302.7ZM884.2 312.4L896.8 311.9L911.8 312.6L926.4 317.5L931 320L933.7 322.5L934.9 325L934.6 327.5L933.1 330L929.4 332.5L921.9 334.3L911.8 334.3L886.7 332.8L881.7 332.1L878 330L876.4 327.5L875.6 325L875.6 320L876.4 317.5L878.1 315ZM333.6 314.2L336.2 314.2L336.9 315L337.9 317.5L339.9 327.5L345.1 337.6L346.2 345.8L347.6 347.6L353.8 351.6L355.4 355.2L355.9 357.7L355.6 360.2L352.5 367.7L351.6 372.7L351.9 375.2L353.6 380.3L356.3 384.2L358.8 386.2L363.8 388.2L367.1 390.3L368.7 392.8L370.3 397.9L370.5 412.9L369.7 423L368.5 428L366.3 431.6L361.3 434.8L358.8 436.9L355.1 443.1L353.8 444.4L351.2 445.8L346.2 447.2L313.5 447.3L311 446.4L303.5 439.1L298.4 435.3L288.4 431.5L285.9 429.7L283.4 430.5L280.6 440.6L278.3 444.2L276.2 445.6L270.8 447.2L258.2 447.2L253.2 445.8L250.7 444.2L248.2 439.8L245.7 430.5L243.1 429.7L242.5 430.5L238.1 432.6L215.5 439.8L205.4 445.6L202.9 445.6L199.1 443.1L196.3 438L194.2 435.5L187.8 431.8L186.8 430.5L185.7 428L185.8 425.5L187.7 423L192.2 420.5L195.4 419.5L207.9 418.2L228.1 418.2L238.1 418.7L243.1 420.3L245.7 419.9L247.8 412.9L250 410.4L255.7 407L270.8 401L273.3 400.6L278.3 401.9L280.9 403.6L283.4 402.8L284.9 392.8L285.5 385.3L285.4 367.7L284.7 362.7L282.9 360.2L273.3 354.1L268.3 352L259 350.1L254.9 347.6L253.1 345.1L247.6 332.6L248 330L250.7 326.2L257.4 322.5L260.7 319.9L265.8 318.2L270.8 318L283.4 319.8L295.9 323.5L307.9 320L323.6 319L327.8 317.5ZM844 349.9L846.5 349L851.5 348.3L859 348.3L864.1 349L869.1 351.6L870.9 355.2L871.1 357.7L869.8 360.2L864.1 363.2L856.5 364L849 363.5L846.5 362.7L842 360.2L840 357.7L839.8 355.2L840.6 352.6L841.4 351.5ZM195.4 357.1L197.9 357L201 357.7L203.4 360.2L203.1 362.7L200.4 365L197.9 365.6L194.7 365.2L192.9 363.9L191.7 362.7L191.4 360.2L192.9 358.2ZM542.3 374.7L549.8 373.9L559.1 375.2L569.9 379.8L585 382.8L589.7 385.3L595.1 390.1L597.6 391.4L610.2 393.3L615.2 394.9L619.7 397.9L621.5 400.4L621.9 405.4L621 407.9L618.6 410.4L614.5 412.9L602.6 417.8L598.8 420.5L596.8 423L593.7 430.5L592.6 431.8L590.1 433.2L587.5 433.6L577.5 429.3L572.5 428.4L567.4 429.3L557.4 434.4L552.4 434.8L549.8 434.3L547.3 432.5L544.8 429L541.1 420.5L539.1 417.9L534.6 415.4L519.7 412.4L515.3 410.4L514.2 407.9L517.9 397.9L529.2 380.3L532.2 377.8L534.8 376.6ZM514.6 450.3L547.3 449.1L552.4 450.3L554.9 451.8L557.4 455.1L558.6 458.1L559.9 471.4L561.2 473.2L567.4 476.9L568.7 478.2L571.1 483.3L571.7 488.3L571.8 505.9L469 505.9L469.1 490.8L469.3 488.3L470.2 485.8L471.9 483.8L476.9 480.6L479.3 478.2L482.4 473.2L484.5 471.1L489.5 468L491.9 465.7L495 460.6L497 458.7L504.6 455.2L509.6 451.8L512.1 450.6Z" fill="rgb(26,26,255)" fill-rule="evenodd"/>
<path d="M152.6 51.2L283 51.2L283 56.3L282.5 61.3L280.3 66.3L278.3 68.3L272.6 71.3L270.4 73.8L267.7 78.9L265.8 80.8L260.1 83.9L257.8 86.4L255.1 91.4L253.2 93.4L247.5 96.5L245.2 99L242.6 104L240.6 105.9L234.9 109L232.7 111.5L230 116.5L228.1 118.5L222.4 121.6L220.5 123.6L214.7 136.6L214.2 141.7L214.2 166.8L213.7 169.3L211.1 171.8L205.4 172.7L195.4 172.8L185.3 172.7L180.7 171.8L177.5 169.3L176.1 161.8L174.6 159.2L172.8 158.3L167.7 157.3L122.5 157.5L119.1 159.2L115.9 164.3L113.7 166.8L109.9 168.6L107.4 168.9L104.9 168.6L101.1 166.8L98.9 164.3L95.7 159.2L92.3 157.5L84.8 157.5L82.3 158.4L77.2 162.3L72.2 163.6L69.7 163.4L67.2 162.5L64.7 160.3L62.1 160.3L62.1 131.9L64.7 131.9L67.2 129.5L71.5 126.6L73.8 124.1L74.5 121.6L73.8 119.1L72.2 117.2L67.2 113.5L64.7 110.4L62.1 110.4L62.1 95.1L64.7 95.1L67.2 92.1L69.7 90.8L72.2 90.3L89.8 90.3L92.3 91.1L94.7 93.9L97.5 101.5L99.2 104L104.9 107.6L107.4 109.6L111.2 114L114.9 116.5L120 117.9L125 117.8L132.5 116.3L137.6 114.1L142.2 111.5L144.9 109L150.9 93.9L151.4 88.9L151.4 51.2ZM896.8 51.2L955.9 51.2L955.8 106.5L954.3 111.5L952.4 114L947.8 119.1L944.5 121.7L942 123L937 123.8L931.9 122.4L925.5 119.1L921.9 115L916.9 104.9L909.1 99L903.4 91.4L896.6 86.4L895.1 83.9L894.3 78.9L894.3 51.2ZM967.1 136L969.7 136L969.7 154.9L967.1 154.9L965 146.7L965.2 141.7ZM841.4 156.1L846.5 155L849 155.1L852.5 156.7L854.7 159.2L855.7 164.3L855.2 174.3L854 178L851.5 180.8L849 181.7L846.5 181.8L841.4 180.7L836.4 178.4L834.2 176.8L832.2 174.3L831.9 171.8L834.9 161.8L836.4 159L838.9 157.1ZM424.1 166.2L434.2 164.7L446.8 165.4L451.8 167.5L453.8 169.3L454.2 171.8L452.1 174.3L449.3 175.7L439.2 179.3L434.2 180.4L426.7 179.7L419.1 177.7L416.6 176.5L414.3 174.3L414.1 171.8L416.3 169.3ZM547.3 166.2L552.4 165.6L569.9 165.8L582.5 168.9L590.1 169.3L600.1 168.9L610.2 166.8L612.7 167.6L614.5 169.3L615.8 171.8L616.4 176.8L615.9 181.9L614.2 184.4L610.2 186.4L595.1 190.4L562.4 190.2L559.9 189.1L557.4 187.2L544.7 174.3L543.3 171.8L543.5 169.3L544.8 167.7ZM783.6 176.8L786.1 175.9L788.7 177.7L789.3 179.3L790 186.9L789.7 189.4L788.7 192.4L786.1 192.2L783.6 189.6L782.5 186.9L781.8 181.9L782.3 179.3ZM821.3 191.7L828.9 190.7L859 190.9L871.5 194.4L875 196.9L871.6 198.4L866.6 199L826.4 199.2L818.8 200.1L811.3 203L802.8 209.5L798.7 210.7L794.9 209.5L793 207L792.6 204.5L792.8 199.4L793.7 198.1L795.3 196.9L806.3 195.5ZM421.6 209.4L426.7 208.6L433.6 209.5L431.7 210.6L426.7 211.7L424.1 211.7ZM519.7 231.8L522.2 230.4L524.7 230.7L526.2 232.1L527.1 234.6L526.8 237.1L524.3 244.6L522.2 246.5L519.7 246.7L516.7 244.6L516 239.6L517.2 234.6ZM117.4 256.4L120 256.1L122.5 257.3L128.4 264.7L135.2 269.8L136.7 272.3L137.3 274.8L137.1 287.3L135.8 292.4L132.9 297.4L132.1 299.9L129.9 320L128.7 322.5L125.7 325L115.9 330L110.1 337.6L107.4 339.2L102.4 340L94.8 339.5L91.1 337.6L89.3 335.1L85.1 322.5L83.4 299.9L83.5 294.9L84.5 287.3L85.4 284.8L87.3 282.2L97.3 276.2L104.7 267.2L109.9 263.7L114.9 258ZM745.9 307L748.4 306.4L750.9 307.6L757.2 312.5L761.2 317.5L763.8 322.5L765.6 330L765.9 332.6L765.2 335.1L763.5 336.3L758.5 337.5L748.4 337.2L743.5 335.1L741 332.6L739.7 330L738.5 325L739 317.5L740.9 312.3L743.4 309ZM886.7 316.9L894.2 316.3L911.8 316.7L924.6 320L927.8 322.5L928.1 325L925.6 327.5L921.9 328.6L891.7 328.7L886.7 328.1L884.2 326.7L882.6 325L881.9 322.5L882.6 320L884.2 318.3ZM328.6 319.7L331.1 319L333.6 319L334.6 320L335.9 322.5L339.3 335.1L340.6 347.6L341.8 350.1L343.7 352.1L348.1 355.2L350.4 357.7L351.2 360.2L349.2 370.2L349.6 377.8L351.2 382.9L353.8 387.4L356.3 389.9L361.3 393.3L363.2 395.3L364.4 397.9L365.1 402.9L364.9 420.5L363.3 425.5L361.2 428L351.2 437.9L348.7 440.1L346.2 441.2L341.2 441.8L313.5 441.7L311 441.3L308.5 440L298.4 430.8L293.4 427.5L291.5 425.5L290.3 423L289.6 417.9L289.6 365.2L289.3 362.7L288.4 361L285.9 358.9L270.8 350.7L258.1 347.6L255.7 344.8L253.2 335.1L254 332.6L255.7 330.6L260.7 327.1L265.8 322.4L270.8 320.6L280.9 321.4L285.9 322.5L293.4 327L295.9 327.5L298.4 327L306 322.5L311 321.6L321.1 321.3ZM849 354.7L854 354L859 354.1L862.6 355.2L864.9 357.7L863.7 360.2L861.6 361L856.5 361.6L851.5 361.4L847.4 360.2L845.8 357.7L847.9 355.2ZM195.4 360.1L198.9 360.2L199 362.7L195.2 362.7ZM537.3 377.4L547.3 375.8L552.4 376.2L557.4 377.7L562.4 380.2L567.4 381.9L585 384.9L587.5 386.7L592.6 392.1L595.1 393.5L600.1 394.7L607.7 395.3L610.2 395.9L614.1 397.9L615.9 400.4L616.4 402.9L615.7 407.9L613.7 410.4L610.2 412.3L600.1 415.4L595.4 417.9L593 420.5L589.5 425.5L587.5 427.2L585 428L572.5 425.8L567.4 426.4L557.4 429.1L549.8 428.7L547.3 427L542.7 417.9L540.3 415.4L534.8 413.2L522.2 411.1L520.3 410.4L518.1 407.9L518.7 402.9L520.3 397.9L529 382.8L532.2 379.6ZM260.7 407.7L270.8 405.4L273.3 406.2L275.1 407.9L276.4 410.4L277.1 415.4L276.9 433L276.4 435.5L275.2 438L273.3 439.9L270.8 441.2L265.8 441.8L258.2 441.2L255.7 439.9L253.9 438L252.6 435.5L252 430.5L251.9 420.5L252.1 415.4L252.7 412.9L254.7 410.4ZM195.4 422.1L200.4 421.1L207.9 420.6L230.6 420.8L233.1 421.2L236.6 423L236.9 425.5L234.8 428L223.2 435.5L207.9 440L205.4 439.6L203.5 438L199.9 433L192.9 426.9L192 425.5L192.9 423.9L193.4 423ZM509.6 455.6L514.6 454.5L542.3 454.4L547.3 455L549.8 456.3L551.7 458.1L553 460.6L553.8 470.7L554.9 474.6L557.4 477.7L562.4 481.2L564.3 483.3L565.5 485.8L566.2 490.8L566.2 505.9L470.9 505.9L471 490.8L471.3 488.3L472.6 485.8L480.1 480.7L485 473.2L492.7 468.2L497.6 460.6Z" fill="rgb(35,35,255)" fill-rule="evenodd"/>
<path d="M157.7 51.2L281.5 51.2L281.5 56.3L280.6 61.3L278.3 65.5L270.8 70.7L265.8 78.1L258.2 83.2L253.2 90.7L245.7 95.8L240.6 103.2L233.1 108.3L228.1 115.8L219.9 121.6L215.5 130.3L209.9 136.6L208.8 139.2L208.4 166.8L206.3 169.3L195.4 169.8L184.5 169.3L182.4 166.8L181.5 159.2L180.3 157.6L177.8 156L172.8 155.2L122.5 155.2L120 155.8L117.4 157.6L112.4 164.4L109.9 166L107.4 166.5L104.9 166L102.4 164.4L97.3 157.6L94.8 155.8L92.3 155.2L87.3 155L82.3 155.8L74.7 161.6L72.2 162.3L69.7 162.2L67.2 161L64.7 157.9L62.1 157.9L62.1 138L64.7 138L67.2 134.9L69.7 133.1L74.7 131.2L78.3 129.1L80.8 124.1L80.8 119.1L78.5 114L77.2 112.7L71 109L69.7 107.2L69.1 104L69.7 98.4L71.6 96.5L74.7 95.9L89.8 96L92.3 97.7L93.6 101.5L96.3 106.5L99.9 108.5L104.9 109.9L112.4 116.3L117.4 118.3L122.5 118.7L130 117.9L139.7 114L143.9 111.5L146.3 109L150.1 100.4L154.7 93.9L155.2 88.9L155.2 51.2ZM896.8 51.2L952 51.2L951.8 106.5L951.4 109L948.9 114L944.5 118.9L942 120.6L937 121.9L931.9 120.7L926.9 118.3L924.4 116.2L922.8 114L919.3 106.5L917.6 104L910.7 99L905 91.4L898.2 86.4L896.8 84.7L895.6 81.4L895.3 71.3L895.3 51.2ZM967.1 145.8L969.7 145.8L969.7 147.2L967.1 147.2ZM844 156.6L846.5 156.2L850.1 156.7L853.1 159.2L854.1 161.8L854.3 169.3L853.5 174.3L851.5 177.6L849 179L846.5 179.1L841.4 177.5L837.2 174.3L835.8 171.8L835.6 169.3L837 161.8L838.9 159ZM426.7 166.5L434.2 165.4L444.3 166.1L447.1 166.8L451.2 169.3L451.9 171.8L449.6 174.3L446.8 175.6L439.2 178.4L434.2 179.4L429.2 179.1L424.1 178L420.7 176.8L416.9 174.3L416.4 171.8L418.8 169.3ZM557.4 171.5L569.9 171.2L587.5 173.1L597.6 173L607.7 172.1L610.4 174.3L610.7 179.3L609.7 181.9L607.7 182.9L597.6 184.8L567.4 185L562.4 184.6L559.9 182.8L554.3 174.3L555.1 171.8ZM786.1 179.1L788.2 181.9L788.7 184.4L788.4 186.9L786.1 189.1L784.1 186.9L783.3 184.4L783.6 181.2ZM117.4 257.9L120 257.4L122.5 258.9L127.5 265.5L133.6 269.8L135.6 272.3L136.2 274.8L136.4 282.3L135.8 287.3L135 289.9L132.1 294.9L130.4 299.9L128.6 309.9L127.8 320L126.5 322.5L125 323.7L114.9 329.3L109.9 336.2L107.4 338.1L102.4 339L94.8 338.4L92.3 337L90.7 335.1L87.1 322.5L86.3 309.9L84.7 297.4L86.1 287.3L87.3 284.8L89.6 282.3L98.2 277.3L104 269.8L110.8 264.7L115.1 259.7ZM745.9 311.2L748.4 310.3L750.9 311.1L756 315L759.8 320L761.5 325L761.6 330L761 332.6L758.5 334.2L753.5 335.1L748.4 334.6L744.8 332.6L742.8 330L741 325L741 320L742.8 315ZM270.8 324.9L275.8 324.2L282.4 325L288.4 331L290.9 332.4L295.9 333.7L298.4 333.6L303.5 331.4L306.6 327.5L309.7 325L328.6 323.7L331.1 324L332.1 325L333.6 331.3L334.5 347.6L335.9 352.6L338.7 356.5L344.7 360.2L345.9 362.7L345.2 375.2L347.8 387.8L348.8 390.3L351.2 393.7L358 397.9L359.5 400.4L360 402.9L360.6 417.9L359.7 423L356.2 428L348.7 435L346.2 436.4L343.7 437L311 435.7L308.5 433.8L303.5 426.7L297.3 423L295.9 421.2L295.3 415.4L295.3 365.2L294.6 360.2L292.6 357.7L280.9 354.2L268.3 346.5L260.7 345.2L259.2 342.6L258.5 337.6L259.8 335.1L265.8 331.4ZM544.8 377.8L548.6 377.8L552.4 378.6L556 380.3L562.4 384.7L564.9 385.4L583 387.8L585 389.9L587.5 394.2L590.1 396.3L597.6 398.5L605.1 399L609.6 400.4L610.7 402.9L610.2 407L609.6 407.9L607.7 409L595.1 411.6L592 412.9L588.7 415.4L585 421.4L582.5 422.7L572.5 421.9L557.4 423.6L552.4 423.5L550.5 423L548.5 420.5L546.3 415.4L543.5 412.9L539.8 411.7L524.7 408.8L522.9 407.9L521.8 405.4L522.1 400.4L522.8 397.9L530.8 382.8L534.8 379.8ZM260.7 411.9L265.8 410.8L268.3 410.7L271 412.9L271.4 430.5L270.8 433.6L268.3 435.8L260.7 435.8L258 433L257.7 415.4L258.8 412.9ZM205.4 425.1L210.5 424.3L218 424.3L224.5 425.5L223.9 428L222.4 430.5L219.7 433L210.5 434.7L207.9 433.8L205.8 430.5L204.5 428L204.2 425.5ZM509.6 460.4L539.8 460L545.4 460.6L547.6 463.2L548.2 473.2L549.6 478.2L552.4 482L558.6 485.8L560.2 488.3L560.6 505.9L474 505.9L474.1 490.8L475 488.3L482 484.4L483.2 483.3L487 475.7L494.5 471.9L495.7 470.7L499.7 463.2Z" fill="rgb(49,49,255)" fill-rule="evenodd"/>
<path d="M160.2 51.2L280.2 51.2L280.2 56.3L279.2 61.3L277.8 63.8L275.1 66.3L270.8 68.9L268.4 71.3L265.3 76.4L263.3 78.4L258.2 81.5L255.8 83.9L252.7 88.9L250.7 90.9L245.7 94L243.2 96.5L240.1 101.5L238.1 103.5L233.1 106.6L230.7 109L227.5 114L225.5 116L220.5 119.2L218.2 121.6L215.5 127L213 130.6L210.5 132.7L207.9 133.9L205.4 134.7L197.9 135.2L195.4 136L194.3 136.6L190.2 141.7L182.8 146.3L177.8 151.1L172.8 152.6L167.7 152.9L122.5 153.1L120 153.6L117.4 154.8L115.4 156.7L111.8 161.8L109.9 163.4L107.4 164.1L104.9 163.4L103 161.8L99.4 156.7L97.3 154.8L94.8 153.6L92.3 153.1L87.3 153L82.3 153.6L79.7 154.8L74.7 159.5L72.2 160.7L69.7 160.7L67.2 159.3L65.7 156.7L64.7 152.4L62.1 152.4L62.1 143.7L64.7 143.7L67.2 139.2L69.7 137.2L72.2 136.3L89.8 135.5L92.3 135.2L94.6 134.1L95.9 131.6L97.2 119.1L98.1 116.5L100.1 114L102.4 112.9L104.9 112.9L112.4 117.6L114.9 118.6L122.5 119.7L132.5 118.3L140.1 114.9L145.5 111.5L147.6 109L151.4 101.5L156 96.5L157.3 93.9L157.7 88.9L157.7 51.2ZM896.8 51.2L949.5 51.2L949.4 106.5L948.1 111.5L946.6 114L942 118.5L939.5 119.8L937 120.2L934.5 119.9L926.9 116.5L924.3 114L919.2 104L916.9 101.6L911.8 98.5L909.8 96.5L906.7 91.4L904.3 89.1L899.3 85.9L897.6 83.9L896.6 81.4L896.4 78.9L896.4 51.2ZM844 158.2L846.5 157.5L849 157.7L851.5 159.2L852.6 161.8L853 166.8L852.5 171.8L851.5 174.4L849 176.6L846.5 176.8L841.5 174.3L839.5 171.8L838.9 169.9L838.8 164.3L839.5 161.8L841.7 159.2ZM431.7 166.4L436.7 166.1L444.3 167.3L448.6 169.3L449.6 171.8L447.1 174.3L444.3 175.6L439.2 177.5L434.2 178.6L426.7 177.5L419.6 174.3L418.8 171.8L421.4 169.3ZM117.4 259.5L120 259L122.5 260.8L125.1 264.7L127.5 267.1L132.5 270.3L134.2 272.3L135.2 274.8L135 285.1L129.6 297.4L126.7 309.9L125.8 320L124.3 322.5L122.5 323.8L114.9 327.7L112.6 330L109.4 335.1L107.4 336.8L104.9 337.7L102.4 337.9L96.4 337.6L94.8 337.1L92.2 335.1L91.1 332.6L89.4 325L88.1 309.9L86 299.9L86 294.9L86.9 289.9L87.7 287.3L89.8 284.2L92.3 282.2L99.9 277.8L104.9 270.9L112.4 265.3ZM748.4 314L750.9 314.6L753.5 316.4L756.6 320L757.7 322.5L757.9 325L757.3 327.5L756 329.6L753.5 331.2L750.9 331.8L748.4 331.4L745.9 329.8L743.3 325L743.3 320L744.4 317.5L745.9 315.4ZM280.9 337.5L283.4 337.2L288.4 338.5L290.7 340.1L292.6 342.6L293.5 347.6L292.7 350.1L290.9 351.8L288.4 353L283.4 353L278.3 350.7L274.9 347.6L273.8 345.1L274.2 342.6L276 340.1L278.3 338.4ZM318.6 362.7L323.6 362.7L326.1 363.5L328.6 365.3L330.3 367.7L331.3 370.2L331.9 372.7L332.5 382.8L333.4 385.3L341 390.3L345.9 397.9L353.5 402.9L355.2 405.4L356.1 407.9L356.8 412.9L356.6 420.5L355.9 423L354.5 425.5L351.2 429.2L348.7 431.2L346.2 432.4L343.7 432.6L341.2 431.9L338.9 430.5L333.6 422.7L326.1 417.8L324.4 415.4L323.4 412.9L322.8 410.4L322.2 400.4L321.3 397.9L313.7 392.8L311.8 390.3L310 382.8L310 375.2L310.9 370.2L311.8 367.7L313.7 365.2L316 363.5ZM539.8 380.1L544.8 379.6L549.8 380.1L554.8 382.8L557 385.3L558.1 387.8L558.4 390.3L558.1 397.9L556.6 402.9L554.7 405.4L552.4 407.1L547.3 408.5L534.5 407.9L529.7 406.6L527.7 405.4L525.9 402.9L525.4 400.4L525.7 397.9L530.8 385.3L532.2 383.4L534.8 381.5Z" fill="rgb(69,69,255)" fill-rule="evenodd"/>
<path d="M160.2 51.2L279.1 51.2L279.1 53.8L278.6 58.8L277.8 61.3L276.1 63.8L269.1 68.8L263.5 76.4L256.6 81.4L251 88.9L243.1 94.8L238.1 101.7L230.6 107.4L225.5 114.3L218.9 119.1L212.2 129.1L207.9 131.8L205.4 132.4L197.9 132.8L192.7 134.1L186.7 139.2L180.3 143.6L174.5 149.2L170.2 150.6L167.7 150.9L125 151L120 151.5L117.4 152.3L114.9 154.1L109.9 160.5L107.4 161.6L104.9 160.5L100 154.2L97.3 152.3L92.3 151L84.8 151L79.7 152.3L72.2 158.8L69.7 159L67.2 156L66.1 149.2L66.9 144.2L68.7 141.7L72.2 139.7L92.3 139.2L94.8 138.5L97.3 137L99.2 134.1L99.8 131.6L100.6 121.6L102.4 118.1L104.5 116.5L107.4 116.7L112.4 119L117.4 120.5L127.5 120.5L135 118.4L143.6 114L147.6 110.8L152.6 102.3L158.2 96.5L159.1 93.9L159.4 51.2ZM899.3 51.2L947.8 51.2L947.7 106.5L946.3 111.5L944.6 114L942 116.6L939.5 118.1L937 118.6L934.5 118.4L929.8 116.5L926.9 114.8L924 111.5L920.8 104L919.4 101.9L911.8 96.9L906.8 89.3L899 83.9L898 81.4L897.7 78.9L897.7 51.2ZM846.5 159.1L849 159.3L850.9 161.8L851.5 166.8L850.5 171.8L849 173.9L846.5 174.2L843.1 171.8L842 169.3L841.8 166.8L842.6 161.8ZM426.7 168.4L434.2 166.9L439.2 167.3L445.8 169.3L447.2 171.8L444.6 174.3L439.2 176.6L434.2 177.7L431.7 177.6L426.7 176.3L422.3 174.3L421.2 171.8L424.2 169.3ZM117.4 261.9L120 261.1L125.3 267.2L132.8 272.3L133.8 274.8L134.1 277.3L133.6 284.8L128.9 294.9L124.9 309.9L123.7 320L122.5 321.9L112.8 327.5L107.4 335.3L104.9 336.3L102.4 336.6L97.3 336.4L94.2 335.1L92.6 332.6L92 330L90.8 322.5L90.4 312.5L87.2 299.9L87.6 292.4L89.4 287.3L91.3 284.8L94.8 282.4L100.1 279.8L102.6 277.3L105.7 272.3L107.4 270.6L112.7 267.2ZM748.4 317.7L750.9 318.3L752.9 320L754.1 322.5L753.8 325L750.9 327.8L748.4 327.7L745.9 325L745.4 322.5L745.9 320ZM280.9 342.1L283.4 341.5L285.9 342.1L288.4 344.5L289 347.6L286.7 350.1L283.4 350.6L280.9 349.6L278.7 347.6L278.2 345.1ZM318.6 367.1L321.1 366.6L323.6 367.1L326.9 370.2L328.3 375.2L328.6 384.6L329.3 387.8L331.1 389.8L337.2 392.8L343.1 400.4L349.9 405.4L352 407.9L353.4 412.9L353.3 420.5L351.2 425.1L348.7 427.6L346.2 428.7L342.9 428L341.2 426.6L336.2 419.9L328.6 414L326.8 410.4L326 397.9L325.4 395.3L323.6 393.4L317.5 390.3L315.3 387.8L313.8 382.8L313.8 375.2L315.3 370.2ZM537.3 382.3L542.3 381.6L547.3 381.7L550.5 382.8L553.3 385.3L554.4 387.8L554.6 390.3L554.2 397.9L552.4 401.5L549.8 403.7L544.8 405.1L537.3 405L532.2 403.6L529.2 400.4L528.7 397.9L529.1 395.3L531.4 387.8L532.7 385.3L534.8 383.4Z" fill="rgb(88,88,255)" fill-rule="evenodd"/>
<path d="M162.7 51.2L278 51.2L278 53.8L277.5 58.8L275.8 62.2L267.6 68.8L261.8 76.4L255 81.4L249.2 88.9L242.4 93.9L236.6 101.5L229.8 106.5L224.1 114L218 118.3L212.6 126.6L210.5 128.8L207.9 130.2L195.4 131.3L190.4 133.2L177.8 141.1L172.8 146.9L167.7 148.6L120 149.1L114.9 150.8L112.4 152.8L109.9 156.4L107.4 158L104.9 156.4L101.2 151.7L97.3 149.5L92.3 148.3L84.8 148.3L82.3 148.7L77.2 150.6L72.2 155.3L69.7 155.2L68.7 151.7L68.7 146.7L69.7 144.8L72.2 143.2L92.3 142.8L97.3 141.4L99.9 139.7L102 136.6L102.9 134.1L103.6 124.1L104.9 120.9L107.4 119.6L120 122.1L130 121.4L132.5 120.8L142.6 115.7L148.4 111.5L153 104L160 96.5L160.7 93.9L160.9 51.2ZM899.3 51.2L946.3 51.2L946.1 106.5L944.5 111.6L942 114.8L939.5 116.5L937 117.2L934.5 116.9L929.4 114.8L926.9 112.9L924.4 109.5L921.3 101.5L919.4 99.4L913.9 96.5L911.8 94.4L909 88.9L906.8 86.7L901.5 83.9L899.6 81.4L899.1 76.4ZM846.5 162.6L849 164L849.1 166.8L849 168L848 169.3L846.5 169.8L845.6 166.8L845.7 164.3ZM429.2 168.6L434.2 167.7L439.2 168.3L442.6 169.3L444.7 171.8L442.1 174.3L439.2 175.5L434.2 176.8L431.7 176.6L425.1 174.3L423.7 171.8L427 169.3ZM120 264.6L125 269.4L130.3 272.3L132.2 274.8L132.7 277.3L132.5 282.6L128.1 292.4L125.9 302.4L122.3 312.5L121.3 320L118.6 322.5L112.4 325.4L110.2 327.5L107.4 332.9L104.9 334.7L102.4 335.2L97.3 334.8L94.8 333L93.9 330L92.4 312.5L88.3 299.9L88.1 297.4L88.9 292.4L89.8 289.8L92.3 285.9L94.8 284.1L102.4 280.6L108.2 272.3L114.9 268.3L117.4 265.8ZM318.6 372.3L321.1 370.9L323.6 372.3L324.7 375.2L324.9 380.3L324.3 385.3L323.6 386.7L321.1 387.6L318.6 385.8L317.4 382.8L317.4 375.2ZM537.3 384.4L544.8 383.7L547.3 384.2L549.8 385.8L550.9 387.8L551.3 390.3L551.2 395.3L550.5 397.9L548.3 400.4L544.8 401.7L537.3 401.7L533.9 400.4L532.2 398.3L531.9 395.3L533.6 387.8L534.8 385.9ZM331.1 396.4L333.6 395.5L336.2 396.9L340.6 402.9L347.5 407.9L349.3 410.4L350.2 415.4L349.8 420.5L348.7 423.1L346.2 424.6L343.7 423.8L339.3 417.9L332.4 412.9L330.5 410.4L329.9 407.9L329.7 402.9L330.3 397.9Z" fill="rgb(108,108,255)" fill-rule="evenodd"/>
<path d="M162.7 51.2L277 51.2L277 53.8L276.3 58.8L275.1 61.3L266.1 68.8L260.7 75.8L255.7 79.2L253.6 81.4L248.2 88.3L243.1 91.8L241 93.9L235.6 100.9L230.6 104.3L228.4 106.5L223 113.4L218 116.9L215.9 119.1L211 126.6L207.9 128.7L205.4 129.3L195.4 129.9L189.2 131.6L182.8 134.8L175.3 137.3L172.7 139.2L169.1 144.2L167.7 144.8L120 145.4L112.4 147.3L107.4 149.9L106.1 149.2L103.2 146.7L103.6 144.2L106.5 139.2L107.4 134.1L107.8 126.6L109.1 124.1L112.4 123.8L120 124.6L125 124.5L130 123.8L132.5 122.8L147.6 113.7L149.8 111.5L154.5 104L160 99L161.5 96.5L162.3 91.4L162.3 51.2ZM901.8 51.2L944.9 51.2L944.7 106.5L943 111.5L939.5 114.9L937 115.7L934.5 115.5L931 114L927.5 111.5L925.7 109L923.6 101.5L921.9 97.7L919.4 95.5L915.7 93.9L914.4 92.6L911.4 86.4L909.3 84.3L903.5 81.4L901.9 78.9ZM431.7 168.9L434.2 168.6L439.2 169.3L442.1 171.8L439.6 174.3L436.7 175.3L431.7 175.5L428 174.3L426.3 171.8L429.2 169.8ZM117.4 271.5L120 271L127.5 274.3L129.9 277.3L129.5 282.3L127.5 286.6L126.6 289.9L125.4 299.9L123.5 304.9L119.2 312.5L117.4 319.3L109.9 322.9L107.8 325L104.9 330.9L102.4 332.4L99.9 332.4L97.1 330L96.2 315L95.6 312.5L92.3 307L89.8 301.1L89.2 297.4L89.8 293.7L92.3 288.2L94.8 285.9L105.1 282.3L107.5 279.8L110.2 274.8ZM539.8 387.2L542.3 387.1L545.6 387.8L546.8 390.3L546.9 392.8L546.3 395.3L544.8 396.8L539.8 397.5L537.3 396.6L536.3 395.3L536.1 392.8L537.3 388.3Z" fill="rgb(128,128,255)" fill-rule="evenodd"/>
<path d="M165.2 51.2L275.6 51.2L275.6 53.8L274.8 58.8L273.2 61.3L265.8 66.9L260.7 73.9L253.2 79.5L248.2 86.4L240.6 92L235.6 99L228.1 104.6L223 111.5L216.1 116.5L210.5 124.8L207.9 126.7L205.4 127.5L192.9 128.4L182.8 131.5L177.8 132.3L150.1 132.6L142.6 131.7L140.1 130.7L137.6 128.8L136.1 126.6L136 124.1L137.6 121.6L149.5 114L155.2 105.7L162.3 99L163.4 96.5L164 91.4L164.1 51.2ZM926.9 51.2L943.1 51.2L942.9 106.5L942.3 109L940.7 111.5L939.5 112.7L937 113.8L934.5 113.6L930.6 111.5L928.2 109L927.1 106.5L926 91.4L925.9 51.2ZM431.7 170.9L434.2 170.3L436.7 170.8L438.4 171.8L436.7 173.2L434.2 174.3L431.7 173.5L430 171.8ZM99.9 287L109.9 286.4L117.4 286.5L120 287.1L122.5 288.8L124 292.4L124.2 297.4L122.8 302.4L120 306.3L117.4 307.8L114.9 308.3L107.4 308.4L99.9 308.3L97.3 307.8L94.8 306.3L92.3 303L91.1 299.9L91.1 294.9L92.3 291.8L94.8 288.7L97.3 287.5Z" fill="rgb(154,154,255)" fill-rule="evenodd"/>
<path d="M167.7 51.2L274.1 51.2L274.1 53.8L273.1 58.8L270.9 61.3L265.8 64.6L264.1 66.3L260.7 71.5L258.4 73.8L253.2 77.2L251.5 78.9L248.2 84.1L245.9 86.4L240.6 89.7L238.9 91.4L235.8 96.5L233.3 99L228.1 102.3L226.4 104L223.2 109L220.7 111.5L216.6 114L213.8 116.5L210.5 122.1L207.9 124.7L205.4 125.6L192.9 126.4L180.3 129L150.1 129.1L145.1 128.6L141.3 126.6L139.9 124.1L140.9 121.6L149 116.5L151.8 114L156.7 106.5L162.8 101.5L164.5 99L165.4 96.5L165.9 91.4L165.9 51.2ZM929.4 51.2L941.3 51.2L941.2 104L940.2 109L937 111.7L934.5 111.5L931.2 109L929.9 106.5L929.5 104ZM102.4 289.9L114.9 289.9L117.4 290.1L120 291.1L122.3 294.9L122.5 297.4L121.8 299.9L120.4 302.4L117.4 304.5L112.4 305L99.9 304.9L97.3 304.5L94.8 302.9L93 299.9L92.5 297.4L93 294.9L94.4 292.4L97.3 290.3Z" fill="rgb(180,180,255)" fill-rule="evenodd"/>
<path d="M170.2 51.2L272.3 51.2L272.3 53.8L272 56.3L270.8 59L263.3 64.1L258.2 71.7L250.7 76.7L245.7 84.3L238.1 89.2L233.1 96.8L225.5 101.8L220.5 109.4L213 114.4L207.9 122.2L205.4 123.6L202.9 124L192.9 124.3L180.3 126.1L147.6 125.7L144.3 124.1L144.7 121.6L152.4 116.5L157.7 108.1L163.4 104L165.7 101.5L166.9 99L167.8 91.4L167.8 51.2ZM934.5 51.2L939 51.2L939 104L938.5 106.5L937 108.8L934.5 108.3L933.2 106.5L932.7 104L932.6 51.2ZM97.3 293.6L102.4 292.9L114.9 293L117.4 293.4L119.4 294.9L120.2 297.4L119.1 299.9L117.4 301.2L114.9 301.8L99.9 301.8L97.3 301.2L95.7 299.9L94.8 298L95.7 294.9Z" fill="rgb(206,206,255)" fill-rule="evenodd"/>
<path d="M172.8 51.2L269.8 51.2L269.8 53.8L269.2 56.3L268.3 57.6L263.3 60.2L260.7 62.3L257.2 68.8L255.7 70.3L250.7 72.7L248.2 74.9L244.6 81.4L243.1 82.8L238.1 85.3L235.6 87.5L232 93.9L230.6 95.4L225.5 97.9L223 100L219.5 106.5L218 108L213 110.4L210.5 112.6L207 119.1L205.4 120.5L202.9 121.2L180.3 122.5L160.2 122.5L155.2 121.8L154.5 121.6L154.8 119.1L158.5 111.5L160.2 109.5L165.6 106.5L168 104L169.3 101.5L170.4 91.4L170.4 51.2Z" fill="rgb(232,232,255)" fill-rule="evenodd"/>
<polygon points="63.4,50.0 63.4,98.2 73.5,98.2 73.5,88.2 94.3,88.2 94.3,92.4 103.6,92.4 103.6,97.7 133.8,97.7 133.8,92.9 143.8,92.9 143.8,98.2 174.0,98.2 174.0,122.8 476.4,122.8 476.4,133.0 496.5,133.0 496.5,127.6 525.7,127.6 525.7,133.0 535.8,133.0 535.8,137.1 560.4,137.1 560.4,130.6 573.7,130.6 573.7,122.8 727.1,122.8 727.1,153.0 777.3,153.0 777.3,134.1 807.5,134.1 807.5,152.0 817.1,152.0 817.1,127.6 822.3,127.6 822.3,122.1 828.1,122.1 828.1,117.0 837.9,117.0 837.9,122.1 843.0,122.1 843.0,127.6 852.9,127.6 852.9,132.4 867.1,132.4 867.1,122.3 888.5,122.3 888.5,117.0 911.6,117.0 911.6,112.0 928.2,112.0 928.2,107.0 943.3,107.0 943.3,101.4 968.4,101.4 968.4,50.0" fill="#fff"/>
<polygon points="63.4,507.1 63.4,448.8 78.7,448.8 78.7,453.6 89.5,453.6 89.5,448.8 109.7,448.8 109.7,444.3 134.5,444.3 134.5,439.5 220.0,439.5 220.0,444.3 239.1,444.3 239.1,448.8 259.2,448.8 259.2,439.5 289.6,439.5 289.6,443.1 300.2,443.1 300.2,434.3 325.3,434.3 325.3,439.5 335.9,439.5 335.9,444.3 340.7,444.3 340.7,439.5 416.6,439.5 416.6,444.3 435.7,444.3 435.7,439.5 479.4,439.5 479.4,444.3 496.3,444.3 496.3,448.8 515.9,448.8 515.9,448.8 581.3,448.8 581.3,444.3 621.5,444.3 621.5,448.8 637.1,448.8 637.1,444.3 646.4,444.3 646.4,448.8 736.6,448.8 736.6,444.3 742.1,444.3 742.1,444.3 793.2,444.3 793.2,439.5 813.3,439.5 813.3,434.8 863.3,434.8 863.3,429.5 877.4,429.5 877.4,448.8 893.0,448.8 893.0,454.9 931.9,454.9 931.9,448.8 968.4,448.8 968.4,507.1" fill="#fff"/>
<polygon points="143.8,119.1 176.5,119.1 176.5,105.2 143.8,109.0" fill="#fff"/>
<polygon points="104.9,127.1 131.3,127.1 131.3,112.3 104.9,112.3" fill="#fff"/>
<polygon points="402.8,145.4 419.9,145.4 419.9,164.3 421.6,164.3 421.6,168.5 431.2,168.5 431.2,162.3 435.7,162.3 435.7,148.4 439.7,148.4 439.7,142.4 445.0,142.4 445.0,137.1 449.8,137.1 449.8,141.9 456.8,141.9 458.1,137.9 465.6,132.9 480.7,125.3 480.7,120.3 402.8,120.3" fill="#fff"/>
<polygon points="817.1,132.0 822.3,132.0 822.3,137.0 828.1,137.0 828.1,141.9 832.4,141.9 832.4,152.0 817.1,152.0" fill="#fff"/>
<polygon points="806.3,153.2 817.1,153.2 817.1,160.8 808.3,160.8" fill="#fff"/>
<polygon points="817.1,127.6 822.3,127.6 822.3,132.0 817.1,132.0" fill="rgb(0,0,255)"/>
<polygon points="822.3,132.0 834.7,132.0 834.7,137.0 822.3,137.0" fill="rgb(0,0,255)"/>
<polygon points="134.0,92.7 143.8,92.7 143.8,101.5 134.0,101.5" fill="rgb(255,25,25)"/>
<polygon points="496.5,127.6 520.3,127.6 520.3,134.4 496.5,134.4" fill="rgb(10,10,255)"/>
<polygon points="491.5,459.6 530.2,459.6 530.2,469.2 515.9,469.2 515.9,467.9 491.5,467.9" fill="rgb(70,70,255)"/>
<g fill="#d3d3d3" stroke="#000" stroke-width="0.7" stroke-linejoin="round"><polygon points="49.8,187.9 53.3,186.4 58.4,186.1 62.1,184.1 63.4,181.3 62.6,179.3 65.4,175.6 71.4,173.3 70.9,170.0 74.7,169.5 79.7,170.3 82.3,168.5 85.5,167.0 89.0,168.3 89.8,170.8 94.1,173.8 97.3,175.1 102.6,178.1 103.6,181.3 102.9,183.1 104.9,182.4 106.4,180.6 104.9,178.8 106.1,176.8 109.7,178.1 108.7,176.3 103.6,173.3 99.1,171.8 97.3,169.0 94.3,167.3 94.3,164.8 97.8,164.0 97.6,165.5 99.9,165.0 101.6,167.5 106.1,170.5 109.9,172.1 112.2,173.6 112.2,177.3 114.2,179.3 116.4,182.4 118.0,186.1 120.0,186.9 121.7,186.9 121.2,184.6 123.7,183.9 122.5,181.9 120.7,179.8 120.2,177.1 122.5,177.6 123.7,176.3 128.8,176.1 129.3,177.8 129.3,179.3 130.8,181.9 132.0,185.6 134.3,186.4 137.6,187.6 140.3,186.1 143.8,187.9 148.9,187.4 153.9,186.1 153.9,188.6 153.4,191.6 151.6,195.7 150.4,198.9 149.4,199.9 145.1,200.4 145.4,203.5 146.9,206.7 149.4,208.7 151.1,204.5 151.4,208.2 155.2,213.2 157.2,217.8 161.4,224.5 165.2,229.6 170.2,237.1 172.0,245.4 173.0,246.7 176.5,246.4 184.1,243.4 194.1,237.1 201.7,234.6 208.5,230.8 211.2,227.1 213.7,222.0 210.7,219.3 206.2,217.5 205.2,212.5 204.2,213.7 200.4,217.8 193.6,218.3 192.9,213.5 191.1,214.5 189.6,212.0 186.6,209.5 184.6,204.5 186.1,202.4 189.1,202.9 191.6,207.0 195.4,209.5 200.4,211.7 205.4,210.5 207.2,213.7 211.7,214.8 218.0,215.5 225.5,215.0 230.6,214.8 232.6,217.0 235.6,220.0 236.6,222.5 240.1,226.3 244.9,225.8 245.7,222.8 246.4,227.1 246.4,230.8 248.2,238.4 251.4,245.9 255.0,253.4 258.2,258.2 260.0,256.2 262.5,255.2 264.0,252.7 265.3,245.4 264.8,239.6 270.3,236.6 277.1,229.6 281.6,227.1 283.4,224.0 287.1,223.8 290.9,222.0 294.2,222.5 295.4,226.3 300.5,232.1 300.5,238.4 303.5,238.9 307.2,236.4 309.3,240.9 311.0,248.4 310.5,255.9 310.5,258.5 315.5,263.0 316.0,266.0 318.1,271.5 323.6,275.3 325.3,275.0 323.6,271.0 323.1,267.2 320.3,263.0 317.3,261.2 314.8,257.2 313.0,255.2 314.5,249.7 314.8,244.9 317.3,246.7 321.1,248.4 322.8,251.9 326.9,252.4 326.9,256.7 331.6,252.7 337.4,249.7 338.2,245.9 336.9,239.6 332.4,235.9 329.4,230.8 331.6,226.3 334.9,224.5 339.2,224.5 340.4,227.6 341.4,225.3 345.0,223.8 350.0,222.3 356.3,220.8 360.0,217.0 363.8,214.5 365.1,211.2 369.6,207.0 370.1,203.2 367.6,201.4 369.8,198.9 365.8,192.4 363.1,190.6 365.6,188.1 371.4,185.6 367.6,184.1 362.6,184.9 359.3,181.3 362.6,180.1 367.6,176.1 370.3,176.8 368.3,180.6 375.1,178.6 378.1,181.3 376.9,182.9 381.4,185.6 381.2,190.6 381.4,192.1 385.2,191.1 388.4,189.9 388.9,186.1 386.4,181.9 383.9,178.8 388.9,176.1 391.5,172.3 395.2,170.0 399.0,171.1 404.0,167.3 410.3,160.5 416.1,152.2 417.4,147.9 418.6,144.9 414.1,142.9 409.1,143.4 403.5,140.9 409.1,137.1 415.3,133.4 422.9,129.6 430.4,129.4 438.0,128.9 444.3,129.9 448.0,129.9 453.1,129.1 455.6,124.1 463.1,123.3 466.9,125.8 469.4,123.8 477.2,121.3 473.9,124.6 470.6,127.8 465.6,130.4 459.3,132.9 455.6,135.4 454.6,140.4 455.1,146.7 457.3,150.5 461.3,146.7 465.6,142.9 470.6,140.4 472.7,135.4 473.9,132.9 478.2,128.1 483.2,127.1 490.8,127.8 495.8,125.3 502.1,123.3 509.6,121.6 514.6,122.1 513.4,116.5 509.6,116.0 512.1,113.8 518.4,114.5 523.4,116.5 531.0,117.0 541.5,112.5 533.5,110.3 523.4,106.5 515.9,105.5 505.8,103.5 493.3,102.7 492.0,105.2 487.0,103.5 470.6,103.7 465.6,101.5 448.0,100.2 440.5,97.7 430.4,97.0 416.6,95.7 414.1,99.0 402.8,99.0 392.7,100.7 387.7,99.0 385.2,95.2 372.6,93.9 362.6,95.2 350.0,93.4 345.0,91.4 334.9,92.7 332.4,86.4 325.6,83.4 314.8,86.4 302.2,87.7 287.1,88.9 279.6,92.7 267.0,93.9 265.8,96.5 270.8,99.0 259.5,97.0 251.9,95.7 250.7,99.0 248.2,105.2 249.4,110.3 244.4,111.5 244.4,105.2 246.4,99.0 246.4,95.7 238.1,95.2 235.6,99.0 231.3,101.5 231.8,105.2 235.6,107.0 225.5,104.5 215.5,103.2 211.7,106.5 201.7,106.2 197.9,107.3 185.3,108.5 179.0,110.3 180.3,107.8 172.5,106.2 174.0,112.0 169.0,111.5 164.0,113.8 164.7,116.3 158.9,116.0 158.4,118.1 153.9,118.1 150.1,116.0 150.9,113.8 145.4,110.3 151.4,111.8 160.2,112.5 166.5,111.0 167.0,108.8 155.2,105.2 147.6,104.2 141.3,103.2 141.3,101.7 135.0,100.2 128.8,100.0 123.7,100.5 116.2,102.2 108.7,103.7 102.4,106.5 98.6,109.0 94.8,112.8 92.3,115.3 88.5,117.8 81.0,120.3 76.0,122.8 76.0,126.6 77.2,130.6 81.5,132.9 86.0,131.1 90.0,129.1 91.6,130.9 94.8,137.1 95.8,139.4 99.3,138.9 104.6,136.1 105.4,131.4 110.7,127.8 106.6,125.8 108.1,121.6 116.9,116.5 119.5,113.3 127.0,114.0 125.0,115.8 116.9,120.3 116.9,126.3 121.2,128.1 128.8,126.8 135.0,126.6 139.3,128.1 133.8,129.1 127.5,128.9 122.5,129.9 122.5,131.1 124.7,132.1 124.5,134.6 121.2,135.4 118.0,133.9 116.2,135.4 116.2,139.9 112.4,141.9 109.9,140.9 104.9,141.7 99.3,143.2 97.3,141.9 93.6,142.4 91.1,141.9 87.8,140.9 88.3,139.9 90.8,137.1 89.3,136.4 90.0,133.6 85.0,135.1 83.8,136.4 85.0,140.4 85.0,143.9 81.0,144.4 75.5,145.4 74.0,147.9 72.2,149.5 67.4,150.7 67.4,152.5 63.9,154.2 60.6,154.7 59.4,154.0 59.4,156.2 52.1,156.5 51.6,158.0 58.1,160.5 60.6,163.0 60.4,166.5 58.9,169.5 53.8,169.5 43.3,168.8 40.3,170.0 41.3,174.3 39.5,181.3 40.8,185.6 44.8,185.1 47.6,186.6"/>
<polygon points="954.8,187.9 958.3,186.4 963.4,186.1 967.1,184.1 968.4,181.3 967.6,179.3 970.4,175.6 976.4,173.3 975.9,170.0 979.7,169.5 984.7,170.3 987.3,168.5 990.5,167.0 994.0,168.3 994.8,170.8 999.1,173.8 1002.3,175.1 1007.6,178.1 1008.6,181.3 1007.9,183.1 1009.9,182.4 1011.4,180.6 1009.9,178.8 1011.1,176.8 1014.7,178.1 1013.6,176.3 1008.6,173.3 1004.1,171.8 1002.3,169.0 999.3,167.3 999.3,164.8 1002.8,164.0 1002.6,165.5 1004.9,165.0 1006.6,167.5 1011.1,170.5 1014.9,172.1 1017.2,173.6 1017.2,177.3 1019.2,179.3 1021.4,182.4 1023.0,186.1 1025.0,186.9 1026.7,186.9 1026.2,184.6 1028.7,183.9 1027.5,181.9 1025.7,179.8 1025.2,177.1 1027.5,177.6 1028.7,176.3 1033.8,176.1 1034.3,177.8 1034.3,179.3 1035.8,181.9 1037.0,185.6 1039.3,186.4 1042.6,187.6 1045.3,186.1 1048.8,187.9 1053.9,187.4 1058.9,186.1 1058.9,188.6 1058.4,191.6 1056.6,195.7 1055.4,198.9 1054.4,199.9 1050.1,200.4 1050.4,203.5 1051.9,206.7 1054.4,208.7 1056.1,204.5 1056.4,208.2 1060.2,213.2 1062.2,217.8 1066.4,224.5 1070.2,229.6 1075.2,237.1 1077.0,245.4 1078.0,246.7 1081.5,246.4 1089.1,243.4 1099.1,237.1 1106.7,234.6 1113.5,230.8 1116.2,227.1 1118.7,222.0 1115.7,219.3 1111.2,217.5 1110.2,212.5 1109.2,213.7 1105.4,217.8 1098.6,218.3 1097.9,213.5 1096.1,214.5 1094.6,212.0 1091.6,209.5 1089.6,204.5 1091.1,202.4 1094.1,202.9 1096.6,207.0 1100.4,209.5 1105.4,211.7 1110.4,210.5 1112.2,213.7 1116.7,214.8 1123.0,215.5 1130.5,215.0 1135.6,214.8 1137.6,217.0 1140.6,220.0 1141.6,222.5 1145.1,226.3 1149.9,225.8 1150.7,222.8 1151.4,227.1 1151.4,230.8 1153.2,238.4 1156.4,245.9 1160.0,253.4 1163.2,258.2 1165.0,256.2 1167.5,255.2 1169.0,252.7 1170.3,245.4 1169.8,239.6 1175.3,236.6 1182.1,229.6 1186.6,227.1 1188.4,224.0 1192.1,223.8 1195.9,222.0 1199.2,222.5 1200.4,226.3 1205.5,232.1 1205.5,238.4 1208.5,238.9 1212.2,236.4 1214.3,240.9 1216.0,248.4 1215.5,255.9 1215.5,258.5 1220.5,263.0 1221.0,266.0 1223.1,271.5 1228.6,275.3 1230.3,275.0 1228.6,271.0 1228.1,267.2 1225.3,263.0 1222.3,261.2 1219.8,257.2 1218.0,255.2 1219.5,249.7 1219.8,244.9 1222.3,246.7 1226.1,248.4 1227.8,251.9 1231.9,252.4 1231.9,256.7 1236.6,252.7 1242.4,249.7 1243.2,245.9 1241.9,239.6 1237.4,235.9 1234.4,230.8 1236.6,226.3 1239.9,224.5 1244.2,224.5 1245.4,227.6 1246.4,225.3 1250.0,223.8 1255.0,222.3 1261.3,220.8 1265.0,217.0 1268.8,214.5 1270.1,211.2 1274.6,207.0 1275.1,203.2 1272.6,201.4 1274.8,198.9 1270.8,192.4 1268.1,190.6 1270.6,188.1 1276.4,185.6 1272.6,184.1 1267.6,184.9 1264.3,181.3 1267.6,180.1 1272.6,176.1 1275.3,176.8 1273.3,180.6 1280.1,178.6 1283.1,181.3 1281.9,182.9 1286.4,185.6 1286.2,190.6 1286.4,192.1 1290.2,191.1 1293.4,189.9 1293.9,186.1 1291.4,181.9 1288.9,178.8 1293.9,176.1 1296.5,172.3 1300.2,170.0 1304.0,171.1 1309.0,167.3 1315.3,160.5 1321.1,152.2 1322.4,147.9 1323.6,144.9 1319.1,142.9 1314.1,143.4 1308.5,140.9 1314.1,137.1 1320.3,133.4 1327.9,129.6 1335.4,129.4 1343.0,128.9 1349.3,129.9 1353.0,129.9 1358.1,129.1 1360.6,124.1 1368.1,123.3 1371.9,125.8 1374.4,123.8 1382.2,121.3 1378.9,124.6 1375.7,127.8 1370.6,130.4 1364.3,132.9 1360.6,135.4 1359.6,140.4 1360.1,146.7 1362.3,150.5 1366.3,146.7 1370.6,142.9 1375.7,140.4 1377.7,135.4 1378.9,132.9 1383.2,128.1 1388.2,127.1 1395.8,127.8 1400.8,125.3 1407.1,123.3 1414.6,121.6 1419.6,122.1 1418.4,116.5 1414.6,116.0 1417.1,113.8 1423.4,114.5 1428.4,116.5 1436.0,117.0 1446.5,112.5 1438.5,110.3 1428.4,106.5 1420.9,105.5 1410.8,103.5 1398.3,102.7 1397.0,105.2 1392.0,103.5 1375.7,103.7 1370.6,101.5 1353.0,100.2 1345.5,97.7 1335.4,97.0 1321.6,95.7 1319.1,99.0 1307.8,99.0 1297.7,100.7 1292.7,99.0 1290.2,95.2 1277.6,93.9 1267.6,95.2 1255.0,93.4 1250.0,91.4 1239.9,92.7 1237.4,86.4 1230.6,83.4 1219.8,86.4 1207.2,87.7 1192.1,88.9 1184.6,92.7 1172.0,93.9 1170.8,96.5 1175.8,99.0 1164.5,97.0 1156.9,95.7 1155.7,99.0 1153.2,105.2 1154.4,110.3 1149.4,111.5 1149.4,105.2 1151.4,99.0 1151.4,95.7 1143.1,95.2 1140.6,99.0 1136.3,101.5 1136.8,105.2 1140.6,107.0 1130.5,104.5 1120.5,103.2 1116.7,106.5 1106.7,106.2 1102.9,107.3 1090.3,108.5 1084.0,110.3 1085.3,107.8 1077.5,106.2 1079.0,112.0 1074.0,111.5 1069.0,113.8 1069.7,116.3 1063.9,116.0 1063.4,118.1 1058.9,118.1 1055.1,116.0 1055.9,113.8 1050.4,110.3 1056.4,111.8 1065.2,112.5 1071.5,111.0 1072.0,108.8 1060.2,105.2 1052.6,104.2 1046.3,103.2 1046.3,101.7 1040.0,100.2 1033.8,100.0 1028.7,100.5 1021.2,102.2 1013.6,103.7 1007.4,106.5 1003.6,109.0 999.8,112.8 997.3,115.3 993.5,117.8 986.0,120.3 981.0,122.8 981.0,126.6 982.2,130.6 986.5,132.9 991.0,131.1 995.0,129.1 996.6,130.9 999.8,137.1 1000.8,139.4 1004.3,138.9 1009.6,136.1 1010.4,131.4 1015.7,127.8 1011.6,125.8 1013.1,121.6 1021.9,116.5 1024.5,113.3 1032.0,114.0 1030.0,115.8 1021.9,120.3 1021.9,126.3 1026.2,128.1 1033.8,126.8 1040.0,126.6 1044.3,128.1 1038.8,129.1 1032.5,128.9 1027.5,129.9 1027.5,131.1 1029.7,132.1 1029.5,134.6 1026.2,135.4 1023.0,133.9 1021.2,135.4 1021.2,139.9 1017.4,141.9 1014.9,140.9 1009.9,141.7 1004.3,143.2 1002.3,141.9 998.6,142.4 996.1,141.9 992.8,140.9 993.3,139.9 995.8,137.1 994.3,136.4 995.0,133.6 990.0,135.1 988.8,136.4 990.0,140.4 990.0,143.9 986.0,144.4 980.5,145.4 979.0,147.9 977.2,149.5 972.4,150.7 972.4,152.5 968.9,154.2 965.6,154.7 964.4,154.0 964.4,156.2 957.1,156.5 956.6,158.0 963.1,160.5 965.6,163.0 965.4,166.5 963.9,169.5 958.8,169.5 948.3,168.8 945.3,170.0 946.3,174.3 944.5,181.3 945.8,185.6 949.8,185.1 952.6,186.6"/>
<polygon points="48.6,188.6 58.4,190.4 65.9,186.9 70.9,185.9 83.5,185.6 88.5,184.9 91.1,185.6 89.3,188.1 91.1,190.6 88.8,193.2 92.3,195.2 96.1,195.9 101.9,197.4 107.4,200.9 111.2,202.4 113.7,200.2 113.7,197.4 117.4,195.9 121.2,196.7 126.2,199.2 132.5,200.2 137.6,200.9 141.3,199.4 144.6,200.2 145.4,203.5 144.8,204.5 147.9,209.5 151.4,216.3 152.9,219.5 156.4,225.8 157.2,230.8 160.4,233.3 162.7,239.6 167.0,243.4 171.5,247.2 172.3,249.4 175.3,252.2 181.6,250.4 186.6,250.2 192.1,248.7 191.6,252.4 188.6,258.5 184.1,266.0 179.0,272.3 172.8,277.3 169.0,281.1 165.2,284.8 162.2,290.4 160.9,294.9 162.7,298.6 163.5,303.7 165.2,306.2 165.5,315.0 164.0,318.7 157.7,323.0 151.1,328.8 152.6,333.8 152.6,338.8 146.4,342.1 145.9,346.4 143.8,351.4 140.1,356.4 135.0,360.9 130.0,363.7 123.7,364.2 118.7,364.7 113.7,366.0 109.7,364.4 109.2,360.7 106.6,353.9 104.4,350.4 101.1,345.1 99.9,336.3 96.1,328.8 93.1,322.5 93.6,317.5 97.3,309.9 98.1,306.2 96.1,301.2 94.3,293.6 93.1,289.9 87.3,284.8 85.5,280.3 87.3,277.3 87.3,271.0 85.5,267.2 81.0,267.5 78.5,267.7 74.7,263.0 69.7,262.7 65.9,263.7 58.4,266.5 53.3,265.5 44.5,267.5 40.8,266.0 35.0,261.5 30.2,257.2 29.5,253.9 25.7,250.9 21.4,247.4 21.4,244.6 19.4,241.6 21.9,238.4 22.4,230.8 20.7,225.8 23.2,219.5 26.9,213.2 30.7,209.0 35.7,206.2 38.8,203.7 38.8,199.4 42.0,194.9 46.3,193.2"/>
<polygon points="953.6,188.6 963.4,190.4 970.9,186.9 975.9,185.9 988.5,185.6 993.5,184.9 996.1,185.6 994.3,188.1 996.1,190.6 993.8,193.2 997.3,195.2 1001.1,195.9 1006.9,197.4 1012.4,200.9 1016.2,202.4 1018.7,200.2 1018.7,197.4 1022.4,195.9 1026.2,196.7 1031.2,199.2 1037.5,200.2 1042.6,200.9 1046.3,199.4 1049.6,200.2 1050.4,203.5 1049.8,204.5 1052.9,209.5 1056.4,216.3 1057.9,219.5 1061.4,225.8 1062.2,230.8 1065.4,233.3 1067.7,239.6 1072.0,243.4 1076.5,247.2 1077.3,249.4 1080.3,252.2 1086.6,250.4 1091.6,250.2 1097.1,248.7 1096.6,252.4 1093.6,258.5 1089.1,266.0 1084.0,272.3 1077.8,277.3 1074.0,281.1 1070.2,284.8 1067.2,290.4 1065.9,294.9 1067.7,298.6 1068.5,303.7 1070.2,306.2 1070.5,315.0 1069.0,318.7 1062.7,323.0 1056.1,328.8 1057.6,333.8 1057.6,338.8 1051.4,342.1 1050.9,346.4 1048.8,351.4 1045.1,356.4 1040.0,360.9 1035.0,363.7 1028.7,364.2 1023.7,364.7 1018.7,366.0 1014.7,364.4 1014.2,360.7 1011.6,353.9 1009.4,350.4 1006.1,345.1 1004.9,336.3 1001.1,328.8 998.1,322.5 998.6,317.5 1002.3,309.9 1003.1,306.2 1001.1,301.2 999.3,293.6 998.1,289.9 992.3,284.8 990.5,280.3 992.3,277.3 992.3,271.0 990.5,267.2 986.0,267.5 983.5,267.7 979.7,263.0 974.7,262.7 970.9,263.7 963.4,266.5 958.3,265.5 949.5,267.5 945.8,266.0 940.0,261.5 935.2,257.2 934.5,253.9 930.7,250.9 926.4,247.4 926.4,244.6 924.4,241.6 926.9,238.4 927.4,230.8 925.7,225.8 928.2,219.5 931.9,213.2 935.7,209.0 940.7,206.2 943.8,203.7 943.8,199.4 947.0,194.9 951.3,193.2"/>
<polygon points="187.3,308.7 189.8,317.5 187.8,322.5 185.3,330.0 182.3,340.1 177.0,342.6 173.3,339.3 172.3,333.8 174.8,328.8 174.0,322.5 176.5,318.7 181.6,316.2 185.3,312.0"/>
<polygon points="264.0,254.4 267.5,257.2 269.0,261.0 267.0,263.0 265.0,263.5 264.0,259.7"/>
<polygon points="-358.9,113.8 -355.2,112.0 -343.9,111.5 -348.9,109.0 -355.9,107.0 -346.4,102.7 -330.0,99.5 -318.7,100.7 -301.1,102.7 -291.1,103.7 -281.0,105.2 -273.5,104.0 -263.4,102.2 -258.4,101.5 -250.8,104.2 -240.8,103.2 -230.7,105.5 -223.2,107.3 -213.1,108.0 -208.1,107.3 -200.6,106.5 -190.5,108.3 -183.0,106.5 -177.9,107.3 -177.9,105.2 -175.4,98.2 -170.4,99.0 -167.9,104.0 -162.8,105.7 -157.8,109.0 -151.5,104.0 -142.7,103.2 -141.0,106.5 -142.7,110.8 -147.8,112.0 -152.8,112.0 -152.8,117.8 -157.8,117.8 -164.1,119.1 -170.4,122.8 -172.9,124.1 -174.7,130.4 -170.4,131.1 -169.1,135.4 -160.3,135.9 -150.3,139.7 -143.5,140.2 -143.2,145.4 -139.0,149.7 -137.0,150.0 -134.7,146.7 -135.2,141.7 -130.2,138.4 -128.9,134.9 -133.9,131.1 -131.4,126.6 -132.7,121.8 -122.6,122.3 -116.3,124.8 -112.6,125.3 -111.3,130.4 -106.3,132.1 -101.3,128.4 -98.7,126.8 -93.7,132.1 -91.2,136.6 -87.4,139.9 -81.1,142.4 -77.4,146.7 -76.6,149.2 -83.7,149.7 -87.4,152.2 -97.5,152.2 -103.8,152.5 -110.1,156.2 -105.0,156.0 -98.2,155.7 -100.0,158.0 -99.5,160.5 -97.5,162.5 -91.2,163.8 -89.9,164.8 -87.4,160.8 -88.4,163.8 -96.2,166.5 -101.8,169.3 -103.0,167.3 -98.7,164.5 -105.0,165.5 -110.1,168.0 -113.8,169.8 -114.3,173.1 -112.6,173.8 -116.3,174.6 -122.6,176.6 -123.1,179.3 -126.4,183.1 -127.7,185.6 -126.9,189.4 -130.2,191.9 -133.9,193.7 -137.7,196.9 -140.7,200.7 -141.0,204.5 -139.0,208.2 -138.0,213.2 -139.0,215.3 -141.5,214.5 -144.5,208.7 -144.5,205.7 -147.8,203.2 -151.5,203.7 -156.6,202.2 -161.6,202.7 -161.1,205.2 -165.4,205.0 -172.9,204.2 -177.9,207.0 -181.5,210.7 -181.7,215.8 -182.5,222.0 -179.2,229.6 -175.4,231.8 -169.1,231.8 -165.4,230.8 -164.1,225.8 -156.6,224.5 -155.3,227.1 -157.1,232.1 -159.1,238.4 -152.8,238.6 -146.5,240.1 -146.0,247.2 -147.0,250.9 -144.0,255.2 -140.2,256.4 -136.5,254.7 -131.4,256.9 -132.4,260.2 -133.4,260.2 -137.0,256.4 -139.0,260.2 -144.7,258.0 -150.3,253.4 -152.3,250.9 -156.6,245.9 -164.1,243.9 -169.1,241.6 -174.2,237.9 -179.2,239.1 -186.7,236.6 -193.0,233.3 -200.6,229.6 -201.8,224.5 -204.3,219.5 -210.6,213.2 -215.6,208.2 -220.2,201.9 -224.9,198.9 -224.4,203.2 -219.9,208.2 -215.6,214.5 -212.4,220.3 -213.9,219.5 -218.2,215.8 -223.2,210.2 -225.7,204.5 -230.2,198.2 -234.5,193.2 -239.5,191.9 -243.3,186.1 -245.1,183.1 -248.3,177.3 -249.1,170.5 -248.3,162.5 -249.8,157.2 -245.8,156.0 -247.1,154.7 -250.8,153.0 -257.1,150.5 -259.6,145.4 -264.2,140.9 -268.4,136.6 -273.5,132.1 -279.7,130.9 -287.3,128.4 -297.3,127.8 -304.9,125.8 -309.9,127.8 -317.5,129.6 -316.2,124.8 -322.5,129.1 -325.0,132.9 -332.5,135.9 -340.1,139.2 -347.6,140.9 -350.9,141.7 -343.9,138.7 -340.1,137.4 -333.8,133.4 -331.8,130.9 -337.6,131.1 -343.9,131.1 -344.4,127.8 -350.1,126.6 -353.9,123.3 -351.4,121.1 -350.1,119.8 -341.3,119.1 -341.3,116.5 -347.6,116.5 -355.2,116.0"/>
<polygon points="546.1,113.8 549.8,112.0 561.1,111.5 556.1,109.0 549.1,107.0 558.6,102.7 575.0,99.5 586.3,100.7 603.9,102.7 613.9,103.7 624.0,105.2 631.5,104.0 641.6,102.2 646.6,101.5 654.2,104.2 664.2,103.2 674.3,105.5 681.8,107.3 691.9,108.0 696.9,107.3 704.4,106.5 714.5,108.3 722.0,106.5 727.1,107.3 727.1,105.2 729.6,98.2 734.6,99.0 737.1,104.0 742.1,105.7 747.2,109.0 753.5,104.0 762.3,103.2 764.0,106.5 762.3,110.8 757.2,112.0 752.2,112.0 752.2,117.8 747.2,117.8 740.9,119.1 734.6,122.8 732.1,124.1 730.3,130.4 734.6,131.1 735.9,135.4 744.7,135.9 754.7,139.7 761.5,140.2 761.8,145.4 766.0,149.7 768.0,150.0 770.3,146.7 769.8,141.7 774.8,138.4 776.1,134.9 771.1,131.1 773.6,126.6 772.3,121.8 782.4,122.3 788.7,124.8 792.4,125.3 793.7,130.4 798.7,132.1 803.7,128.4 806.3,126.8 811.3,132.1 813.8,136.6 817.6,139.9 823.9,142.4 827.6,146.7 828.4,149.2 821.3,149.7 817.6,152.2 807.5,152.2 801.2,152.5 794.9,156.2 800.0,156.0 806.8,155.7 805.0,158.0 805.5,160.5 807.5,162.5 813.8,163.8 815.1,164.8 817.6,160.8 816.6,163.8 808.8,166.5 803.2,169.3 802.0,167.3 806.3,164.5 800.0,165.5 794.9,168.0 791.2,169.8 790.7,173.1 792.4,173.8 788.7,174.6 782.4,176.6 781.9,179.3 778.6,183.1 777.3,185.6 778.1,189.4 774.8,191.9 771.1,193.7 767.3,196.9 764.3,200.7 764.0,204.5 766.0,208.2 767.0,213.2 766.0,215.3 763.5,214.5 760.5,208.7 760.5,205.7 757.2,203.2 753.5,203.7 748.4,202.2 743.4,202.7 743.9,205.2 739.6,205.0 732.1,204.2 727.1,207.0 723.5,210.7 723.3,215.8 722.5,222.0 725.8,229.6 729.6,231.8 735.9,231.8 739.6,230.8 740.9,225.8 748.4,224.5 749.7,227.1 747.9,232.1 745.9,238.4 752.2,238.6 758.5,240.1 759.0,247.2 758.0,250.9 761.0,255.2 764.8,256.4 768.5,254.7 773.6,256.9 772.6,260.2 771.6,260.2 768.0,256.4 766.0,260.2 760.2,258.0 754.7,253.4 752.7,250.9 748.4,245.9 740.9,243.9 735.9,241.6 730.8,237.9 725.8,239.1 718.3,236.6 712.0,233.3 704.4,229.6 703.2,224.5 700.7,219.5 694.4,213.2 689.4,208.2 684.8,201.9 680.1,198.9 680.6,203.2 685.1,208.2 689.4,214.5 692.6,220.3 691.1,219.5 686.8,215.8 681.8,210.2 679.3,204.5 674.8,198.2 670.5,193.2 665.5,191.9 661.7,186.1 659.9,183.1 656.7,177.3 655.9,170.5 656.7,162.5 655.2,157.2 659.2,156.0 657.9,154.7 654.2,153.0 647.9,150.5 645.4,145.4 640.8,140.9 636.6,136.6 631.5,132.1 625.3,130.9 617.7,128.4 607.7,127.8 600.1,125.8 595.1,127.8 587.5,129.6 588.8,124.8 582.5,129.1 580.0,132.9 572.5,135.9 564.9,139.2 557.4,140.9 554.1,141.7 561.1,138.7 564.9,137.4 571.2,133.4 573.2,130.9 567.4,131.1 561.1,131.1 560.6,127.8 554.9,126.6 551.1,123.3 553.6,121.1 554.9,119.8 563.7,119.1 563.7,116.5 557.4,116.5 549.8,116.0"/>
<polygon points="-120.1,82.1 -105.0,84.1 -112.6,87.7 -92.5,87.7 -82.4,88.9 -74.9,96.5 -73.6,102.7 -64.8,104.0 -71.1,110.3 -67.3,116.5 -61.0,122.8 -54.8,125.8 -48.5,128.1 -44.7,126.6 -42.2,121.6 -38.4,116.5 -30.9,113.8 -19.6,109.0 -4.5,107.0 5.6,102.7 8.1,97.7 13.1,92.7 15.6,86.4 18.1,81.4 20.7,77.6 33.2,73.8 13.1,72.6 -12.0,68.8 -37.2,69.3 -62.3,71.3 -87.4,72.6 -102.5,75.1 -100.0,77.6 -107.5,78.9"/>
<polygon points="784.9,82.1 800.0,84.1 792.4,87.7 812.5,87.7 822.6,88.9 830.1,96.5 831.4,102.7 840.2,104.0 833.9,110.3 837.7,116.5 844.0,122.8 850.2,125.8 856.5,128.1 860.3,126.6 862.8,121.6 866.6,116.5 874.1,113.8 885.4,109.0 900.5,107.0 910.6,102.7 913.1,97.7 918.1,92.7 920.6,86.4 923.1,81.4 925.7,77.6 938.2,73.8 918.1,72.6 893.0,68.8 867.8,69.3 842.7,71.3 817.6,72.6 802.5,75.1 805.0,77.6 797.5,78.9"/>
<polygon points="2.3,114.0 6.8,111.8 18.1,112.0 25.7,112.0 29.5,115.3 25.7,117.0 16.9,119.3 9.4,118.3 6.3,117.6 8.1,115.8 3.1,115.5"/>
<polygon points="907.3,114.0 911.8,111.8 923.1,112.0 930.7,112.0 934.5,115.3 930.7,117.0 921.9,119.3 914.4,118.3 911.3,117.6 913.1,115.8 908.1,115.5"/>
<polygon points="49.1,153.0 54.6,152.2 60.9,151.2 66.9,150.0 67.7,146.2 64.2,145.4 62.9,142.4 59.4,139.2 57.9,137.9 55.9,137.9 58.4,133.9 53.3,133.9 55.4,131.4 50.8,131.4 49.1,134.1 47.8,136.6 49.6,139.2 51.1,140.9 55.1,140.7 55.9,143.4 52.1,144.7 52.8,146.2 50.3,148.4 55.1,149.5 52.1,150.5"/>
<polygon points="954.1,153.0 959.6,152.2 965.9,151.2 971.9,150.0 972.7,146.2 969.2,145.4 967.9,142.4 964.4,139.2 962.9,137.9 960.9,137.9 963.4,133.9 958.3,133.9 960.4,131.4 955.8,131.4 954.1,134.1 952.8,136.6 954.6,139.2 956.1,140.9 960.1,140.7 960.9,143.4 957.1,144.7 957.8,146.2 955.3,148.4 960.1,149.5 957.1,150.5"/>
<polygon points="48.3,147.4 48.1,144.2 49.6,141.7 47.1,139.9 42.8,139.9 42.0,141.9 38.3,142.4 38.8,144.7 40.0,146.4 37.5,147.9 39.3,149.2 43.3,148.4"/>
<polygon points="953.3,147.4 953.1,144.2 954.6,141.7 952.1,139.9 947.8,139.9 947.0,141.9 943.3,142.4 943.8,144.7 945.0,146.4 942.5,147.9 944.3,149.2 948.3,148.4"/>
<polygon points="-131.2,256.7 -126.4,251.4 -123.1,250.4 -118.9,248.4 -116.3,247.4 -116.3,250.9 -112.6,248.9 -108.8,251.7 -102.5,251.9 -98.7,252.9 -92.5,251.7 -89.9,254.2 -88.7,257.2 -83.7,261.0 -79.9,263.5 -72.3,264.0 -66.6,267.2 -62.3,274.0 -63.0,278.6 -58.5,280.3 -56.0,280.1 -48.5,284.8 -40.9,285.8 -34.6,287.3 -30.1,290.6 -25.3,291.6 -24.1,296.6 -25.1,301.2 -29.6,306.2 -33.4,311.2 -34.6,317.5 -35.1,323.3 -37.2,328.8 -39.7,333.8 -42.2,336.1 -48.5,336.8 -53.2,338.8 -58.0,342.6 -58.8,347.6 -61.0,351.4 -64.8,356.4 -68.6,361.4 -71.6,365.0 -74.9,366.2 -79.9,365.2 -83.4,363.9 -80.4,367.7 -79.1,370.2 -81.4,374.0 -84.9,375.8 -92.5,376.3 -93.2,380.5 -100.0,381.5 -97.0,384.8 -100.8,387.8 -101.3,391.6 -106.3,394.1 -102.0,398.6 -106.3,402.9 -110.1,405.4 -108.6,409.9 -108.8,411.7 -100.5,415.9 -105.0,417.4 -112.6,416.7 -117.6,414.2 -122.6,410.4 -125.9,404.1 -126.4,396.6 -122.6,390.3 -122.1,384.0 -121.4,377.8 -120.1,371.5 -116.6,361.4 -116.1,353.9 -113.8,343.9 -113.3,333.8 -113.3,325.0 -117.6,321.2 -125.1,317.5 -128.4,313.2 -130.7,308.7 -133.9,302.4 -137.2,296.1 -140.2,293.6 -141.0,289.9 -137.7,286.8 -139.7,284.1 -139.7,281.1 -137.7,277.3 -134.7,274.8 -131.4,268.5 -131.2,262.2 -132.4,260.2"/>
<polygon points="773.8,256.7 778.6,251.4 781.9,250.4 786.1,248.4 788.7,247.4 788.7,250.9 792.4,248.9 796.2,251.7 802.5,251.9 806.3,252.9 812.5,251.7 815.1,254.2 816.3,257.2 821.3,261.0 825.1,263.5 832.6,264.0 838.4,267.2 842.7,274.0 842.0,278.6 846.5,280.3 849.0,280.1 856.5,284.8 864.1,285.8 870.4,287.3 874.9,290.6 879.7,291.6 880.9,296.6 879.9,301.2 875.4,306.2 871.6,311.2 870.4,317.5 869.9,323.3 867.8,328.8 865.3,333.8 862.8,336.1 856.5,336.8 851.8,338.8 847.0,342.6 846.2,347.6 844.0,351.4 840.2,356.4 836.4,361.4 833.4,365.0 830.1,366.2 825.1,365.2 821.6,363.9 824.6,367.7 825.9,370.2 823.6,374.0 820.1,375.8 812.5,376.3 811.8,380.5 805.0,381.5 808.0,384.8 804.2,387.8 803.7,391.6 798.7,394.1 803.0,398.6 798.7,402.9 794.9,405.4 796.5,409.9 796.2,411.7 804.5,415.9 800.0,417.4 792.4,416.7 787.4,414.2 782.4,410.4 779.1,404.1 778.6,396.6 782.4,390.3 782.9,384.0 783.6,377.8 784.9,371.5 788.4,361.4 788.9,353.9 791.2,343.9 791.7,333.8 791.7,325.0 787.4,321.2 779.9,317.5 776.6,313.2 774.3,308.7 771.1,302.4 767.8,296.1 764.8,293.6 764.0,289.9 767.3,286.8 765.3,284.1 765.3,281.1 767.3,277.3 770.3,274.8 773.6,268.5 773.8,262.2 772.6,260.2"/>
<polygon points="350.0,333.8 348.7,340.1 350.5,346.4 352.5,353.9 354.3,358.9 352.5,364.7 359.5,366.7 365.1,363.7 373.9,363.7 380.1,359.7 387.7,357.9 393.2,357.7 400.3,360.7 404.0,366.0 409.1,361.4 409.8,360.4 407.8,367.0 411.6,366.0 410.8,368.0 414.6,371.0 416.9,374.0 424.1,376.0 427.4,374.0 431.2,376.8 435.5,373.7 440.5,372.2 442.5,366.5 444.3,362.2 447.5,357.7 449.3,350.1 448.5,342.6 445.0,338.8 442.5,335.1 438.0,330.0 431.7,326.3 430.4,322.5 428.7,316.2 424.9,314.5 423.6,309.9 421.9,305.7 419.6,309.9 419.4,316.2 417.6,322.5 414.1,322.5 409.8,318.7 404.8,316.2 405.3,312.0 407.3,309.2 402.8,308.7 396.7,307.4 392.7,309.2 390.2,312.5 388.9,316.2 385.2,315.7 382.2,313.7 377.6,317.5 373.9,322.0 370.6,323.8 368.8,327.5 362.6,328.8 357.0,330.3 351.2,333.3"/>
<polygon points="427.2,380.8 431.7,381.8 436.0,381.3 436.2,384.5 434.2,387.3 430.4,388.1 428.7,385.3"/>
<polygon points="497.5,365.2 501.6,367.2 504.6,370.5 505.8,373.0 510.9,373.0 512.1,373.5 510.6,377.0 508.4,377.8 508.1,380.3 504.1,383.0 502.8,382.3 503.6,379.5 500.3,377.3 502.3,374.2 502.6,371.5 498.6,367.0"/>
<polygon points="497.5,380.3 501.6,383.3 498.3,386.8 497.0,388.6 493.8,390.1 492.5,393.8 488.2,395.6 484.5,394.6 482.0,393.6 486.5,389.1 492.0,386.6 494.5,383.3 496.3,381.0"/>
<polygon points="392.7,280.6 396.5,279.6 400.3,280.6 400.8,284.8 404.0,286.8 409.1,282.3 417.9,285.1 426.7,288.1 429.9,292.4 435.0,295.4 432.9,295.6 435.5,298.6 440.5,304.4 442.5,305.4 438.0,304.2 432.9,302.4 430.4,298.6 426.7,297.6 422.9,301.2 417.9,301.4 414.1,298.9 410.3,299.6 412.3,296.1 410.3,292.4 404.0,289.6 399.0,288.3 397.0,285.6 399.8,284.1 395.2,284.1 392.5,281.8"/>
<polygon points="337.4,274.8 338.9,273.5 343.2,271.8 347.5,270.5 352.5,266.0 356.8,261.0 359.3,262.5 363.1,265.5 360.0,268.0 359.3,272.3 362.6,276.0 358.8,277.3 358.8,281.1 356.3,283.6 355.0,288.6 351.2,288.8 347.5,286.6 344.2,287.3 340.4,285.8 339.9,282.3 337.4,279.8"/>
<polygon points="303.0,264.5 308.5,265.5 315.5,271.5 318.6,273.5 323.6,278.6 326.1,283.1 329.9,286.1 329.6,293.1 326.4,293.4 320.6,288.6 317.1,284.1 312.8,277.8 310.3,273.0 306.0,269.0"/>
<polygon points="327.9,295.6 331.1,293.6 336.2,295.4 341.9,294.9 347.0,295.9 351.2,298.1 351.0,300.4 342.4,299.4 334.9,298.1 330.9,297.1"/>
<polygon points="357.0,299.6 362.6,299.4 372.6,299.4 372.1,300.7 362.6,300.9 357.0,301.2"/>
<polygon points="373.9,304.4 377.6,301.2 383.2,299.6 381.4,301.9 376.4,304.2"/>
<polygon points="364.6,276.5 367.1,275.3 372.6,276.3 377.6,274.5 377.1,276.3 373.4,277.5 367.6,277.3 365.1,278.6 367.6,281.1 373.4,280.6 370.1,283.1 368.8,283.6 371.4,287.3 372.6,289.9 371.4,292.4 368.8,290.4 367.6,286.1 366.1,286.1 366.1,292.6 363.8,292.4 363.8,287.3 362.0,285.6 363.3,281.8"/>
<polygon points="366.3,232.1 370.6,232.3 370.6,237.1 369.1,239.6 370.1,242.9 375.1,243.6 375.1,246.7 372.6,244.6 370.1,243.9 366.6,242.9 365.6,241.4 364.6,237.6 365.8,236.9"/>
<polygon points="375.9,247.2 378.9,247.4 379.4,250.9 377.6,252.9 376.4,250.9"/>
<polygon points="370.1,261.0 373.9,256.9 378.6,253.9 380.9,257.2 380.9,262.2 378.9,264.5 375.1,263.0 375.1,259.7"/>
<polygon points="358.0,257.5 363.8,250.2 363.3,252.9 359.0,258.0"/>
<polygon points="370.1,248.9 373.1,249.7 373.9,253.4 372.6,255.7 371.1,253.9 370.1,252.2"/>
<polygon points="367.6,215.3 369.8,215.8 368.8,219.5 367.1,223.3 365.3,220.8 365.6,217.8"/>
<polygon points="336.7,230.1 340.7,228.1 342.4,229.1 340.7,232.3 337.9,232.6 336.4,231.3"/>
<polygon points="390.7,194.2 389.7,196.7 390.7,200.2 392.7,200.7 394.0,199.4 394.5,194.9 397.5,196.2 400.8,194.9 402.0,193.7 404.8,194.4 407.6,192.4 408.6,191.6 412.3,191.4 414.8,190.6 417.6,188.9 417.4,185.9 417.9,182.4 420.4,179.3 419.1,174.6 416.1,175.1 415.3,178.1 414.8,181.1 411.6,184.9 408.6,184.4 407.3,186.1 405.3,188.6 404.0,189.4 397.7,189.4 394.0,191.6 392.5,193.2"/>
<polygon points="415.8,174.3 417.9,171.8 419.1,171.6 423.6,173.1 429.2,169.8 428.4,167.5 422.9,166.8 419.6,164.5 419.4,168.0 418.6,169.8 416.1,170.0 414.8,172.6"/>
<polygon points="420.4,142.2 422.9,144.2 423.4,147.9 424.1,153.0 426.7,155.5 422.9,155.5 422.4,159.2 424.1,161.0 423.9,162.5 420.4,163.0 420.4,158.0 420.9,153.0 419.9,148.4 419.9,144.2"/>
<polygon points="192.9,99.0 197.9,100.2 207.9,101.2 204.2,99.0 202.9,96.5 202.9,94.4 206.7,91.4 214.2,88.9 226.8,86.4 236.9,85.4 231.8,85.2 219.3,86.9 209.2,88.9 202.9,90.9 197.9,93.9 195.4,96.5"/>
<polygon points="91.1,78.9 98.6,77.6 108.7,77.6 113.7,76.9 126.2,77.1 131.3,77.6 121.2,79.4 113.7,80.6 117.4,82.6 109.9,83.9 106.1,86.2 99.9,83.9 97.3,82.1 91.1,80.6"/>
<polygon points="176.5,76.4 189.1,75.6 201.7,75.1 214.2,73.8 219.3,75.1 226.8,75.9 214.2,76.9 201.7,77.1 184.1,77.4"/>
<polygon points="293.4,76.4 302.2,75.1 314.8,76.4 324.8,78.9 327.4,81.4 319.8,82.1 312.3,81.4 304.7,78.9"/>
<polygon points="407.8,88.9 415.3,87.7 427.9,88.9 427.9,90.7 420.4,91.2 410.3,90.7"/>
<polygon points="431.9,89.4 443.0,89.7 443.0,90.7 432.9,90.7"/>
<polygon points="512.1,100.2 519.7,99.0 522.2,100.2 515.9,100.7"/>
<polygon points="-149.8,223.8 -144.0,220.8 -137.7,220.8 -130.2,224.5 -123.1,227.8 -131.4,228.6 -132.7,226.6 -139.0,223.8 -142.7,222.5"/>
<polygon points="755.2,223.8 761.0,220.8 767.3,220.8 774.8,224.5 781.9,227.8 773.6,228.6 772.3,226.6 766.0,223.8 762.3,222.5"/>
<polygon points="-123.6,232.3 -120.1,228.6 -112.6,228.8 -108.8,231.6 -109.3,232.8 -116.3,234.1 -122.6,232.8"/>
<polygon points="781.4,232.3 784.9,228.6 792.4,228.8 796.2,231.6 795.7,232.8 788.7,234.1 782.4,232.8"/>
<polygon points="-85.7,158.7 -81.1,151.7 -76.6,149.2 -76.1,153.0 -71.1,154.7 -69.3,159.2 -71.6,161.3 -76.9,160.8 -81.1,159.2"/>
<polygon points="819.3,158.7 823.9,151.7 828.4,149.2 828.9,153.0 833.9,154.7 835.7,159.2 833.4,161.3 828.1,160.8 823.9,159.2"/>
<polygon points="-259.1,151.2 -252.1,152.5 -247.1,156.7 -250.8,156.2 -257.1,153.2"/>
<polygon points="645.9,151.2 652.9,152.5 657.9,156.7 654.2,156.2 647.9,153.2"/>
<polygon points="-325.0,134.1 -320.0,132.9 -319.5,134.6 -323.7,135.9"/>
<polygon points="580.0,134.1 585.0,132.9 585.5,134.6 581.3,135.9"/>
<polygon points="-89.9,407.4 -82.4,407.4 -81.9,409.2 -87.4,409.9 -89.9,409.2"/>
<polygon points="815.1,407.4 822.6,407.4 823.1,409.2 817.6,409.9 815.1,409.2"/>
<polygon points="63.4,456.1 87.0,454.9 122.7,454.9 146.4,451.4 158.4,453.6 163.2,451.9 194.1,444.3 205.9,445.3 215.2,447.8 239.1,450.1 240.1,454.9 243.9,453.6 253.2,451.9 272.1,446.6 289.6,445.3 313.3,444.3 337.2,444.3 346.7,443.1 384.7,445.3 408.3,445.3 432.2,448.8 455.6,452.6 472.4,456.1 491.5,457.4 492.5,460.9 484.2,464.4 472.4,467.9 474.9,471.4 465.4,477.5 479.4,484.5 515.9,488.3 551.6,491.8 598.9,492.8 580.0,483.5 601.4,481.0 570.5,472.7 591.8,470.4 610.9,467.9 648.9,466.7 658.4,461.9 672.5,464.4 682.1,465.7 696.4,464.4 713.0,460.9 724.8,459.6 742.1,461.9 760.0,461.9 781.4,463.2 799.5,463.9 795.2,455.4 794.2,448.1 802.7,443.8 811.3,440.6 828.4,436.8 824.1,439.5 813.3,443.8 808.0,448.1 812.3,454.4 816.6,461.9 812.3,467.2 799.5,472.2 824.1,474.7 845.5,476.5 873.1,475.7 896.5,469.4 909.3,465.2 937.2,458.6 966.9,455.9 968.4,456.1 968.4,504.6 63.4,504.6"/>
<polygon points="94.8,183.1 102.4,182.6 101.6,186.1 95.1,184.4"/>
<polygon points="84.3,175.8 87.5,175.1 87.8,180.1 84.8,180.6"/>
<polygon points="85.3,171.8 87.0,170.5 87.3,174.3 85.5,174.1"/>
<polygon points="122.7,189.1 129.3,189.9 129.3,190.6 122.7,190.1"/>
<polygon points="144.8,190.4 150.1,189.1 148.6,191.4 145.4,191.4"/>
<polygon points="-105.5,232.1 -101.8,232.3 -102.0,233.3 -105.5,233.3"/>
<polygon points="799.5,232.1 803.2,232.3 803.0,233.3 799.5,233.3"/>
<polygon points="-133.4,232.3 -128.4,232.8 -128.9,233.6 -133.2,233.1"/>
<polygon points="771.6,232.3 776.6,232.8 776.1,233.6 771.8,233.1"/>
<polygon points="-328.8,227.8 -326.3,228.8 -327.5,230.8 -328.8,229.6"/>
<polygon points="576.2,227.8 578.7,228.8 577.5,230.8 576.2,229.6"/>
<polygon points="475.7,329.3 482.0,333.3 483.2,334.6 478.2,332.0"/>
<polygon points="509.1,322.5 512.4,322.8 512.1,324.3 509.4,324.0"/>
<polygon points="436.7,292.4 441.7,291.9 446.0,289.1 445.0,291.9 440.5,294.1 436.7,293.6"/>
<polygon points="453.1,293.6 458.1,296.9 465.6,301.9 469.4,304.4 465.6,303.4 458.1,298.6 453.1,295.6"/>
<polygon points="383.9,273.5 386.4,276.0 385.2,280.6 383.9,277.3"/>
<polygon points="385.2,286.1 392.2,286.6 390.2,287.6 385.2,287.3"/>
<polygon points="236.4,401.6 240.6,402.1 239.4,403.4 236.9,403.1"/>
<polygon points="778.1,455.9 785.6,453.4 796.2,454.4 799.5,459.6 794.2,462.4 783.4,461.9 791.9,459.4 794.2,457.1 787.7,455.9 780.4,458.1"/>
<polygon points="654.1,95.9 659.7,91.8 669.5,91.0 676.0,93.5 672.0,97.5 666.3,96.7 659.7,100.0 654.9,98.3"/>
<polygon points="669.5,96.7 676.8,94.3 687.4,95.9 697.2,94.3 705.3,93.5 706.9,99.1 715.1,101.6 712.6,105.6 703.7,106.5 697.2,108.6 687.4,107.8 679.3,106.1 674.4,101.6"/>
<polygon points="656.5,87.0 664.6,84.5 676.0,83.7 678.4,87.0 687.4,85.3 693.9,87.0 702.0,89.4 698.8,91.0 689.0,91.8 680.9,90.2 674.4,89.4 666.3,88.6 659.7,88.6"/>
<polygon points="702.0,79.6 711.8,78.8 718.3,81.3 715.1,82.9 706.9,82.9"/>
<polygon points="706.9,86.1 715.1,85.3 722.4,87.8 719.9,91.0 711.8,90.2"/>
<polygon points="711.8,93.5 721.5,91.8 726.4,95.1 723.2,99.1 715.1,97.5"/>
<polygon points="728.0,92.6 739.4,91.8 741.1,94.3 734.6,97.5 732.9,102.4 728.0,101.6 726.4,96.7"/>
<polygon points="729.7,76.4 736.2,73.9 747.6,76.4 754.1,78.8 749.2,82.1 737.8,81.3 731.3,79.6"/>
<polygon points="741.1,73.1 763.8,69.9 788.2,69.1 811.0,70.7 814.2,73.1 796.3,76.4 785.0,80.5 789.8,82.9 812.6,81.3 819.1,86.1 793.1,87.0 783.3,82.1 773.6,86.1 763.8,82.9 754.1,83.7 747.6,81.3 755.7,78.0 747.6,75.6"/>
<polygon points="737.8,87.8 747.6,86.1 767.1,88.6 763.8,91.8 747.6,91.8 739.4,91.0"/>
<polygon points="743.0,95.7 755.3,93.4 771.0,94.6 782.2,96.8 793.4,102.4 804.6,108.0 813.5,111.4 812.4,117.0 804.6,121.4 795.6,120.3 784.4,115.8 775.5,117.0 772.1,114.7 782.2,111.4 784.4,106.9 775.5,102.4 762.0,104.6 751.9,102.4 744.1,99.0"/></g>
<g stroke="#000" stroke-width="0.4"><polygon points="133.8,173.8 133.3,170.5 135.8,166.0 140.8,161.8 143.8,161.8 147.6,163.0 145.4,164.5 147.6,166.8 152.6,165.5 155.4,164.8 151.4,162.5 156.4,160.5 161.4,160.0 158.9,163.0 157.7,164.8 156.4,166.0 160.2,167.5 163.2,169.3 167.7,171.6 167.7,174.3 160.2,175.8 155.9,174.8 151.4,173.1 147.6,173.1 142.6,174.8 136.3,175.1" fill="#1a1aff"/>
<polygon points="181.6,166.8 182.8,164.3 186.6,162.3 191.6,161.0 195.9,161.8 197.1,163.0 192.1,166.5 189.8,167.3 191.6,170.0 195.4,171.8 196.1,174.3 198.6,176.1 196.4,178.1 197.4,179.3 187.3,179.3 187.8,177.3 185.3,173.6 182.8,170.5" fill="#5555ff"/>
<polygon points="187.3,179.3 197.4,179.3 198.9,184.9 194.1,186.1 189.8,184.9 186.6,184.4 186.3,181.9" fill="#ff1010"/>
<polygon points="139.6,127.8 141.8,123.8 145.9,124.3 145.9,126.8 142.6,128.1" fill="#6e6eff"/>
<polygon points="149.9,124.8 151.4,121.1 154.4,122.1 153.9,125.3 151.9,125.6" fill="#6e6eff"/>
<polygon points="210.5,161.5 216.7,161.8 218.0,165.5 214.2,169.0 210.5,168.5 210.0,165.0" fill="#1010ff"/>
<polygon points="324.1,149.2 327.4,149.2 333.6,145.9 339.4,141.7 339.4,138.4 336.7,139.9 330.6,145.4" fill="#1010ff"/>
<polygon points="248.2,164.8 254.5,162.3 262.0,161.5 262.0,162.5 254.5,163.8 249.4,165.8" fill="#1010ff"/>
<polygon points="143.1,279.8 145.1,277.3 148.9,277.8 149.4,281.1 147.6,284.8 143.8,284.8" fill="#1010ff"/>
<polygon points="136.8,287.1 138.3,289.9 139.3,294.9 141.8,300.4 140.3,300.4 137.3,294.9 136.3,289.9" fill="#1010ff"/>
<polygon points="148.6,302.7 150.4,304.9 150.6,308.7 151.9,314.2 150.4,314.2 149.1,308.7 148.6,305.7" fill="#1010ff"/>
<polygon points="654.2,114.8 659.2,112.0 664.2,110.3 671.8,110.8 672.5,112.8 666.7,113.8 664.2,115.3 659.2,115.3" fill="#0808ff"/>
<polygon points="674.3,125.3 679.3,122.1 686.8,120.6 693.1,120.8 693.1,122.1 686.8,123.1 681.8,124.8 676.8,125.8" fill="#0808ff"/>
<polygon points="688.1,131.1 694.4,129.4 700.7,129.1 700.7,130.1 694.4,130.6" fill="#0808ff"/>
<polygon points="719.5,143.4 722.5,142.9 725.8,148.4 726.3,152.0 724.6,152.0 721.3,147.4" fill="#0808ff"/>
<polygon points="714.5,144.9 717.0,144.9 719.0,148.4 720.5,151.5 718.8,151.0 717.0,147.9" fill="#0808ff"/>
<polygon points="737.1,161.0 742.1,158.0 747.2,156.0 753.5,158.0 755.5,161.0 749.7,161.8 744.7,161.0 740.9,161.3" fill="#0808ff"/>
<polygon points="747.7,173.1 747.2,168.0 749.7,164.0 754.0,163.0 754.7,164.8 752.2,168.0 751.5,172.3 749.7,173.8" fill="#ff1010"/>
<polygon points="756.0,163.0 763.5,163.0 767.3,166.0 763.5,166.8 761.5,170.0 759.0,168.0 758.5,165.0" fill="#0808ff"/>
<polygon points="759.0,173.6 763.5,171.6 769.8,170.8 769.8,171.8 764.8,174.1 760.2,174.6" fill="#0808ff"/>
<polygon points="768.0,169.8 772.3,168.3 776.6,167.8 776.6,169.0 773.6,169.8 769.8,170.0" fill="#0808ff"/></g>
</g>
</g>
<g id="axes">
<line x1="63.40" y1="504.60" x2="63.40" y2="519.60" stroke="#000" stroke-width="1.6"/>
<line x1="63.40" y1="52.50" x2="63.40" y2="37.50" stroke="#000" stroke-width="1.6"/>
<line x1="88.54" y1="504.60" x2="88.54" y2="512.60" stroke="#333" stroke-width="0.9"/>
<line x1="88.54" y1="52.50" x2="88.54" y2="44.50" stroke="#333" stroke-width="0.9"/>
<line x1="113.68" y1="504.60" x2="113.68" y2="512.60" stroke="#333" stroke-width="0.9"/>
<line x1="113.68" y1="52.50" x2="113.68" y2="44.50" stroke="#333" stroke-width="0.9"/>
<line x1="138.82" y1="504.60" x2="138.82" y2="519.60" stroke="#000" stroke-width="1.6"/>
<line x1="138.82" y1="52.50" x2="138.82" y2="37.50" stroke="#000" stroke-width="1.6"/>
<line x1="163.96" y1="504.60" x2="163.96" y2="512.60" stroke="#333" stroke-width="0.9"/>
<line x1="163.96" y1="52.50" x2="163.96" y2="44.50" stroke="#333" stroke-width="0.9"/>
<line x1="189.09" y1="504.60" x2="189.09" y2="512.60" stroke="#333" stroke-width="0.9"/>
<line x1="189.09" y1="52.50" x2="189.09" y2="44.50" stroke="#333" stroke-width="0.9"/>
<line x1="214.23" y1="504.60" x2="214.23" y2="519.60" stroke="#000" stroke-width="1.6"/>
<line x1="214.23" y1="52.50" x2="214.23" y2="37.50" stroke="#000" stroke-width="1.6"/>
<line x1="239.37" y1="504.60" x2="239.37" y2="512.60" stroke="#333" stroke-width="0.9"/>
<line x1="239.37" y1="52.50" x2="239.37" y2="44.50" stroke="#333" stroke-width="0.9"/>
<line x1="264.51" y1="504.60" x2="264.51" y2="512.60" stroke="#333" stroke-width="0.9"/>
<line x1="264.51" y1="52.50" x2="264.51" y2="44.50" stroke="#333" stroke-width="0.9"/>
<line x1="289.65" y1="504.60" x2="289.65" y2="519.60" stroke="#000" stroke-width="1.6"/>
<line x1="289.65" y1="52.50" x2="289.65" y2="37.50" stroke="#000" stroke-width="1.6"/>
<line x1="314.79" y1="504.60" x2="314.79" y2="512.60" stroke="#333" stroke-width="0.9"/>
<line x1="314.79" y1="52.50" x2="314.79" y2="44.50" stroke="#333" stroke-width="0.9"/>
<line x1="339.93" y1="504.60" x2="339.93" y2="512.60" stroke="#333" stroke-width="0.9"/>
<line x1="339.93" y1="52.50" x2="339.93" y2="44.50" stroke="#333" stroke-width="0.9"/>
<line x1="365.07" y1="504.60" x2="365.07" y2="519.60" stroke="#000" stroke-width="1.6"/>
<line x1="365.07" y1="52.50" x2="365.07" y2="37.50" stroke="#000" stroke-width="1.6"/>
<line x1="390.21" y1="504.60" x2="390.21" y2="512.60" stroke="#333" stroke-width="0.9"/>
<line x1="390.21" y1="52.50" x2="390.21" y2="44.50" stroke="#333" stroke-width="0.9"/>
<line x1="415.34" y1="504.60" x2="415.34" y2="512.60" stroke="#333" stroke-width="0.9"/>
<line x1="415.34" y1="52.50" x2="415.34" y2="44.50" stroke="#333" stroke-width="0.9"/>
<line x1="440.48" y1="504.60" x2="440.48" y2="519.60" stroke="#000" stroke-width="1.6"/>
<line x1="440.48" y1="52.50" x2="440.48" y2="37.50" stroke="#000" stroke-width="1.6"/>
<line x1="465.62" y1="504.60" x2="465.62" y2="512.60" stroke="#333" stroke-width="0.9"/>
<line x1="465.62" y1="52.50" x2="465.62" y2="44.50" stroke="#333" stroke-width="0.9"/>
<line x1="490.76" y1="504.60" x2="490.76" y2="512.60" stroke="#333" stroke-width="0.9"/>
<line x1="490.76" y1="52.50" x2="490.76" y2="44.50" stroke="#333" stroke-width="0.9"/>
<line x1="515.90" y1="504.60" x2="515.90" y2="519.60" stroke="#000" stroke-width="1.6"/>
<line x1="515.90" y1="52.50" x2="515.90" y2="37.50" stroke="#000" stroke-width="1.6"/>
<line x1="541.04" y1="504.60" x2="541.04" y2="512.60" stroke="#333" stroke-width="0.9"/>
<line x1="541.04" y1="52.50" x2="541.04" y2="44.50" stroke="#333" stroke-width="0.9"/>
<line x1="566.18" y1="504.60" x2="566.18" y2="512.60" stroke="#333" stroke-width="0.9"/>
<line x1="566.18" y1="52.50" x2="566.18" y2="44.50" stroke="#333" stroke-width="0.9"/>
<line x1="591.32" y1="504.60" x2="591.32" y2="519.60" stroke="#000" stroke-width="1.6"/>
<line x1="591.32" y1="52.50" x2="591.32" y2="37.50" stroke="#000" stroke-width="1.6"/>
<line x1="616.46" y1="504.60" x2="616.46" y2="512.60" stroke="#333" stroke-width="0.9"/>
<line x1="616.46" y1="52.50" x2="616.46" y2="44.50" stroke="#333" stroke-width="0.9"/>
<line x1="641.59" y1="504.60" x2="641.59" y2="512.60" stroke="#333" stroke-width="0.9"/>
<line x1="641.59" y1="52.50" x2="641.59" y2="44.50" stroke="#333" stroke-width="0.9"/>
<line x1="666.73" y1="504.60" x2="666.73" y2="519.60" stroke="#000" stroke-width="1.6"/>
<line x1="666.73" y1="52.50" x2="666.73" y2="37.50" stroke="#000" stroke-width="1.6"/>
<line x1="691.87" y1="504.60" x2="691.87" y2="512.60" stroke="#333" stroke-width="0.9"/>
<line x1="691.87" y1="52.50" x2="691.87" y2="44.50" stroke="#333" stroke-width="0.9"/>
<line x1="717.01" y1="504.60" x2="717.01" y2="512.60" stroke="#333" stroke-width="0.9"/>
<line x1="717.01" y1="52.50" x2="717.01" y2="44.50" stroke="#333" stroke-width="0.9"/>
<line x1="742.15" y1="504.60" x2="742.15" y2="519.60" stroke="#000" stroke-width="1.6"/>
<line x1="742.15" y1="52.50" x2="742.15" y2="37.50" stroke="#000" stroke-width="1.6"/>
<line x1="767.29" y1="504.60" x2="767.29" y2="512.60" stroke="#333" stroke-width="0.9"/>
<line x1="767.29" y1="52.50" x2="767.29" y2="44.50" stroke="#333" stroke-width="0.9"/>
<line x1="792.43" y1="504.60" x2="792.43" y2="512.60" stroke="#333" stroke-width="0.9"/>
<line x1="792.43" y1="52.50" x2="792.43" y2="44.50" stroke="#333" stroke-width="0.9"/>
<line x1="817.57" y1="504.60" x2="817.57" y2="519.60" stroke="#000" stroke-width="1.6"/>
<line x1="817.57" y1="52.50" x2="817.57" y2="37.50" stroke="#000" stroke-width="1.6"/>
<line x1="842.71" y1="504.60" x2="842.71" y2="512.60" stroke="#333" stroke-width="0.9"/>
<line x1="842.71" y1="52.50" x2="842.71" y2="44.50" stroke="#333" stroke-width="0.9"/>
<line x1="867.84" y1="504.60" x2="867.84" y2="512.60" stroke="#333" stroke-width="0.9"/>
<line x1="867.84" y1="52.50" x2="867.84" y2="44.50" stroke="#333" stroke-width="0.9"/>
<line x1="892.98" y1="504.60" x2="892.98" y2="519.60" stroke="#000" stroke-width="1.6"/>
<line x1="892.98" y1="52.50" x2="892.98" y2="37.50" stroke="#000" stroke-width="1.6"/>
<line x1="918.12" y1="504.60" x2="918.12" y2="512.60" stroke="#333" stroke-width="0.9"/>
<line x1="918.12" y1="52.50" x2="918.12" y2="44.50" stroke="#333" stroke-width="0.9"/>
<line x1="943.26" y1="504.60" x2="943.26" y2="512.60" stroke="#333" stroke-width="0.9"/>
<line x1="943.26" y1="52.50" x2="943.26" y2="44.50" stroke="#333" stroke-width="0.9"/>
<line x1="968.40" y1="504.60" x2="968.40" y2="519.60" stroke="#000" stroke-width="1.6"/>
<line x1="968.40" y1="52.50" x2="968.40" y2="37.50" stroke="#000" stroke-width="1.6"/>
<line x1="63.40" y1="504.60" x2="48.40" y2="504.60" stroke="#000" stroke-width="1.6"/>
<line x1="968.40" y1="504.60" x2="983.40" y2="504.60" stroke="#000" stroke-width="1.6"/>
<line x1="63.40" y1="479.48" x2="55.40" y2="479.48" stroke="#333" stroke-width="0.9"/>
<line x1="968.40" y1="479.48" x2="976.40" y2="479.48" stroke="#333" stroke-width="0.9"/>
<line x1="63.40" y1="454.37" x2="55.40" y2="454.37" stroke="#333" stroke-width="0.9"/>
<line x1="968.40" y1="454.37" x2="976.40" y2="454.37" stroke="#333" stroke-width="0.9"/>
<line x1="63.40" y1="429.25" x2="48.40" y2="429.25" stroke="#000" stroke-width="1.6"/>
<line x1="968.40" y1="429.25" x2="983.40" y2="429.25" stroke="#000" stroke-width="1.6"/>
<line x1="63.40" y1="404.13" x2="55.40" y2="404.13" stroke="#333" stroke-width="0.9"/>
<line x1="968.40" y1="404.13" x2="976.40" y2="404.13" stroke="#333" stroke-width="0.9"/>
<line x1="63.40" y1="379.02" x2="55.40" y2="379.02" stroke="#333" stroke-width="0.9"/>
<line x1="968.40" y1="379.02" x2="976.40" y2="379.02" stroke="#333" stroke-width="0.9"/>
<line x1="63.40" y1="353.90" x2="48.40" y2="353.90" stroke="#000" stroke-width="1.6"/>
<line x1="968.40" y1="353.90" x2="983.40" y2="353.90" stroke="#000" stroke-width="1.6"/>
<line x1="63.40" y1="328.78" x2="55.40" y2="328.78" stroke="#333" stroke-width="0.9"/>
<line x1="968.40" y1="328.78" x2="976.40" y2="328.78" stroke="#333" stroke-width="0.9"/>
<line x1="63.40" y1="303.67" x2="55.40" y2="303.67" stroke="#333" stroke-width="0.9"/>
<line x1="968.40" y1="303.67" x2="976.40" y2="303.67" stroke="#333" stroke-width="0.9"/>
<line x1="63.40" y1="278.55" x2="48.40" y2="278.55" stroke="#000" stroke-width="1.6"/>
<line x1="968.40" y1="278.55" x2="983.40" y2="278.55" stroke="#000" stroke-width="1.6"/>
<line x1="63.40" y1="253.43" x2="55.40" y2="253.43" stroke="#333" stroke-width="0.9"/>
<line x1="968.40" y1="253.43" x2="976.40" y2="253.43" stroke="#333" stroke-width="0.9"/>
<line x1="63.40" y1="228.32" x2="55.40" y2="228.32" stroke="#333" stroke-width="0.9"/>
<line x1="968.40" y1="228.32" x2="976.40" y2="228.32" stroke="#333" stroke-width="0.9"/>
<line x1="63.40" y1="203.20" x2="48.40" y2="203.20" stroke="#000" stroke-width="1.6"/>
<line x1="968.40" y1="203.20" x2="983.40" y2="203.20" stroke="#000" stroke-width="1.6"/>
<line x1="63.40" y1="178.08" x2="55.40" y2="178.08" stroke="#333" stroke-width="0.9"/>
<line x1="968.40" y1="178.08" x2="976.40" y2="178.08" stroke="#333" stroke-width="0.9"/>
<line x1="63.40" y1="152.97" x2="55.40" y2="152.97" stroke="#333" stroke-width="0.9"/>
<line x1="968.40" y1="152.97" x2="976.40" y2="152.97" stroke="#333" stroke-width="0.9"/>
<line x1="63.40" y1="127.85" x2="48.40" y2="127.85" stroke="#000" stroke-width="1.6"/>
<line x1="968.40" y1="127.85" x2="983.40" y2="127.85" stroke="#000" stroke-width="1.6"/>
<line x1="63.40" y1="102.73" x2="55.40" y2="102.73" stroke="#333" stroke-width="0.9"/>
<line x1="968.40" y1="102.73" x2="976.40" y2="102.73" stroke="#333" stroke-width="0.9"/>
<line x1="63.40" y1="77.62" x2="55.40" y2="77.62" stroke="#333" stroke-width="0.9"/>
<line x1="968.40" y1="77.62" x2="976.40" y2="77.62" stroke="#333" stroke-width="0.9"/>
<line x1="63.40" y1="52.50" x2="48.40" y2="52.50" stroke="#000" stroke-width="1.6"/>
<line x1="968.40" y1="52.50" x2="983.40" y2="52.50" stroke="#000" stroke-width="1.6"/>
<rect x="63.40" y="52.50" width="905.00" height="452.10" fill="none" stroke="#000" stroke-width="1.6"/>
</g>
<g id="labels">
<text x="63.4" y="548.8" text-anchor="middle" class="tl">0</text>
<text x="138.8" y="548.8" text-anchor="middle" class="tl">30E</text>
<text x="214.2" y="548.8" text-anchor="middle" class="tl">60E</text>
<text x="289.6" y="548.8" text-anchor="middle" class="tl">90E</text>
<text x="365.1" y="548.8" text-anchor="middle" class="tl">120E</text>
<text x="440.5" y="548.8" text-anchor="middle" class="tl">150E</text>
<text x="515.9" y="548.8" text-anchor="middle" class="tl">180</text>
<text x="591.3" y="548.8" text-anchor="middle" class="tl">150W</text>
<text x="666.7" y="548.8" text-anchor="middle" class="tl">120W</text>
<text x="742.1" y="548.8" text-anchor="middle" class="tl">90W</text>
<text x="817.6" y="548.8" text-anchor="middle" class="tl">60W</text>
<text x="893.0" y="548.8" text-anchor="middle" class="tl">30W</text>
<text x="968.4" y="548.8" text-anchor="middle" class="tl">0</text>
<text x="35.4" y="59.4" text-anchor="end" class="tl">90N</text>
<text x="35.4" y="134.8" text-anchor="end" class="tl">60N</text>
<text x="35.4" y="210.1" text-anchor="end" class="tl">30N</text>
<text x="35.4" y="285.4" text-anchor="end" class="tl">0</text>
<text x="35.4" y="360.8" text-anchor="end" class="tl">30S</text>
<text x="35.4" y="436.1" text-anchor="end" class="tl">60S</text>
<text x="35.4" y="511.5" text-anchor="end" class="tl">90S</text>
</g>
<g id="colorbar">
<rect x="80.60" y="567.0" width="873.80" height="39.3" fill="rgb(245,245,255)"/>
<rect x="89.34" y="567.0" width="865.06" height="39.3" fill="rgb(240,240,255)"/>
<rect x="98.08" y="567.0" width="856.32" height="39.3" fill="rgb(235,235,255)"/>
<rect x="106.81" y="567.0" width="847.59" height="39.3" fill="rgb(230,230,255)"/>
<rect x="115.55" y="567.0" width="838.85" height="39.3" fill="rgb(225,225,255)"/>
<rect x="124.29" y="567.0" width="830.11" height="39.3" fill="rgb(220,220,255)"/>
<rect x="133.03" y="567.0" width="821.37" height="39.3" fill="rgb(215,215,255)"/>
<rect x="141.77" y="567.0" width="812.63" height="39.3" fill="rgb(210,210,255)"/>
<rect x="150.50" y="567.0" width="803.90" height="39.3" fill="rgb(205,205,255)"/>
<rect x="159.24" y="567.0" width="795.16" height="39.3" fill="rgb(200,200,255)"/>
<rect x="167.98" y="567.0" width="786.42" height="39.3" fill="rgb(195,195,255)"/>
<rect x="176.72" y="567.0" width="777.68" height="39.3" fill="rgb(190,190,255)"/>
<rect x="185.46" y="567.0" width="768.94" height="39.3" fill="rgb(185,185,255)"/>
<rect x="194.19" y="567.0" width="760.21" height="39.3" fill="rgb(180,180,255)"/>
<rect x="202.93" y="567.0" width="751.47" height="39.3" fill="rgb(175,175,255)"/>
<rect x="211.67" y="567.0" width="742.73" height="39.3" fill="rgb(170,170,255)"/>
<rect x="220.41" y="567.0" width="733.99" height="39.3" fill="rgb(165,165,255)"/>
<rect x="229.15" y="567.0" width="725.25" height="39.3" fill="rgb(160,160,255)"/>
<rect x="237.88" y="567.0" width="716.52" height="39.3" fill="rgb(155,155,255)"/>
<rect x="246.62" y="567.0" width="707.78" height="39.3" fill="rgb(150,150,255)"/>
<rect x="255.36" y="567.0" width="699.04" height="39.3" fill="rgb(145,145,255)"/>
<rect x="264.10" y="567.0" width="690.30" height="39.3" fill="rgb(140,140,255)"/>
<rect x="272.84" y="567.0" width="681.56" height="39.3" fill="rgb(135,135,255)"/>
<rect x="281.57" y="567.0" width="672.83" height="39.3" fill="rgb(130,130,255)"/>
<rect x="290.31" y="567.0" width="664.09" height="39.3" fill="rgb(125,125,255)"/>
<rect x="299.05" y="567.0" width="655.35" height="39.3" fill="rgb(120,120,255)"/>
<rect x="307.79" y="567.0" width="646.61" height="39.3" fill="rgb(115,115,255)"/>
<rect x="316.53" y="567.0" width="637.87" height="39.3" fill="rgb(110,110,255)"/>
<rect x="325.26" y="567.0" width="629.14" height="39.3" fill="rgb(105,105,255)"/>
<rect x="334.00" y="567.0" width="620.40" height="39.3" fill="rgb(100,100,255)"/>
<rect x="342.74" y="567.0" width="611.66" height="39.3" fill="rgb(95,95,255)"/>
<rect x="351.48" y="567.0" width="602.92" height="39.3" fill="rgb(90,90,255)"/>
<rect x="360.22" y="567.0" width="594.18" height="39.3" fill="rgb(85,85,255)"/>
<rect x="368.95" y="567.0" width="585.45" height="39.3" fill="rgb(80,80,255)"/>
<rect x="377.69" y="567.0" width="576.71" height="39.3" fill="rgb(75,75,255)"/>
<rect x="386.43" y="567.0" width="567.97" height="39.3" fill="rgb(70,70,255)"/>
<rect x="395.17" y="567.0" width="559.23" height="39.3" fill="rgb(65,65,255)"/>
<rect x="403.91" y="567.0" width="550.49" height="39.3" fill="rgb(60,60,255)"/>
<rect x="412.64" y="567.0" width="541.76" height="39.3" fill="rgb(55,55,255)"/>
<rect x="421.38" y="567.0" width="533.02" height="39.3" fill="rgb(50,50,255)"/>
<rect x="430.12" y="567.0" width="524.28" height="39.3" fill="rgb(45,45,255)"/>
<rect x="438.86" y="567.0" width="515.54" height="39.3" fill="rgb(40,40,255)"/>
<rect x="447.60" y="567.0" width="506.80" height="39.3" fill="rgb(35,35,255)"/>
<rect x="456.33" y="567.0" width="498.07" height="39.3" fill="rgb(30,30,255)"/>
<rect x="465.07" y="567.0" width="489.33" height="39.3" fill="rgb(25,25,255)"/>
<rect x="473.81" y="567.0" width="480.59" height="39.3" fill="rgb(20,20,255)"/>
<rect x="482.55" y="567.0" width="471.85" height="39.3" fill="rgb(15,15,255)"/>
<rect x="491.29" y="567.0" width="463.11" height="39.3" fill="rgb(10,10,255)"/>
<rect x="500.02" y="567.0" width="454.38" height="39.3" fill="rgb(5,5,255)"/>
<rect x="508.76" y="567.0" width="445.64" height="39.3" fill="rgb(0,0,255)"/>
<rect x="517.50" y="567.0" width="436.90" height="39.3" fill="rgb(255,0,0)"/>
<rect x="526.24" y="567.0" width="428.16" height="39.3" fill="rgb(255,5,5)"/>
<rect x="534.98" y="567.0" width="419.42" height="39.3" fill="rgb(255,10,10)"/>
<rect x="543.71" y="567.0" width="410.69" height="39.3" fill="rgb(255,15,15)"/>
<rect x="552.45" y="567.0" width="401.95" height="39.3" fill="rgb(255,20,20)"/>
<rect x="561.19" y="567.0" width="393.21" height="39.3" fill="rgb(255,25,25)"/>
<rect x="569.93" y="567.0" width="384.47" height="39.3" fill="rgb(255,30,30)"/>
<rect x="578.67" y="567.0" width="375.73" height="39.3" fill="rgb(255,35,35)"/>
<rect x="587.40" y="567.0" width="367.00" height="39.3" fill="rgb(255,40,40)"/>
<rect x="596.14" y="567.0" width="358.26" height="39.3" fill="rgb(255,45,45)"/>
<rect x="604.88" y="567.0" width="349.52" height="39.3" fill="rgb(255,50,50)"/>
<rect x="613.62" y="567.0" width="340.78" height="39.3" fill="rgb(255,55,55)"/>
<rect x="622.36" y="567.0" width="332.04" height="39.3" fill="rgb(255,60,60)"/>
<rect x="631.09" y="567.0" width="323.31" height="39.3" fill="rgb(255,65,65)"/>
<rect x="639.83" y="567.0" width="314.57" height="39.3" fill="rgb(255,70,70)"/>
<rect x="648.57" y="567.0" width="305.83" height="39.3" fill="rgb(255,75,75)"/>
<rect x="657.31" y="567.0" width="297.09" height="39.3" fill="rgb(255,80,80)"/>
<rect x="666.05" y="567.0" width="288.35" height="39.3" fill="rgb(255,85,85)"/>
<rect x="674.78" y="567.0" width="279.62" height="39.3" fill="rgb(255,90,90)"/>
<rect x="683.52" y="567.0" width="270.88" height="39.3" fill="rgb(255,95,95)"/>
<rect x="692.26" y="567.0" width="262.14" height="39.3" fill="rgb(255,100,100)"/>
<rect x="701.00" y="567.0" width="253.40" height="39.3" fill="rgb(255,105,105)"/>
<rect x="709.74" y="567.0" width="244.66" height="39.3" fill="rgb(255,110,110)"/>
<rect x="718.47" y="567.0" width="235.93" height="39.3" fill="rgb(255,115,115)"/>
<rect x="727.21" y="567.0" width="227.19" height="39.3" fill="rgb(255,120,120)"/>
<rect x="735.95" y="567.0" width="218.45" height="39.3" fill="rgb(255,125,125)"/>
<rect x="744.69" y="567.0" width="209.71" height="39.3" fill="rgb(255,130,130)"/>
<rect x="753.43" y="567.0" width="200.97" height="39.3" fill="rgb(255,135,135)"/>
<rect x="762.16" y="567.0" width="192.24" height="39.3" fill="rgb(255,140,140)"/>
<rect x="770.90" y="567.0" width="183.50" height="39.3" fill="rgb(255,145,145)"/>
<rect x="779.64" y="567.0" width="174.76" height="39.3" fill="rgb(255,150,150)"/>
<rect x="788.38" y="567.0" width="166.02" height="39.3" fill="rgb(255,155,155)"/>
<rect x="797.12" y="567.0" width="157.28" height="39.3" fill="rgb(255,160,160)"/>
<rect x="805.85" y="567.0" width="148.55" height="39.3" fill="rgb(255,165,165)"/>
<rect x="814.59" y="567.0" width="139.81" height="39.3" fill="rgb(255,170,170)"/>
<rect x="823.33" y="567.0" width="131.07" height="39.3" fill="rgb(255,175,175)"/>
<rect x="832.07" y="567.0" width="122.33" height="39.3" fill="rgb(255,180,180)"/>
<rect x="840.81" y="567.0" width="113.59" height="39.3" fill="rgb(255,185,185)"/>
<rect x="849.54" y="567.0" width="104.86" height="39.3" fill="rgb(255,190,190)"/>
<rect x="858.28" y="567.0" width="96.12" height="39.3" fill="rgb(255,195,195)"/>
<rect x="867.02" y="567.0" width="87.38" height="39.3" fill="rgb(255,200,200)"/>
<rect x="875.76" y="567.0" width="78.64" height="39.3" fill="rgb(255,205,205)"/>
<rect x="884.50" y="567.0" width="69.90" height="39.3" fill="rgb(255,210,210)"/>
<rect x="893.23" y="567.0" width="61.17" height="39.3" fill="rgb(255,215,215)"/>
<rect x="901.97" y="567.0" width="52.43" height="39.3" fill="rgb(255,220,220)"/>
<rect x="910.71" y="567.0" width="43.69" height="39.3" fill="rgb(255,225,225)"/>
<rect x="919.45" y="567.0" width="34.95" height="39.3" fill="rgb(255,230,230)"/>
<rect x="928.19" y="567.0" width="26.21" height="39.3" fill="rgb(255,235,235)"/>
<rect x="936.92" y="567.0" width="17.48" height="39.3" fill="rgb(255,240,240)"/>
<rect x="945.66" y="567.0" width="8.74" height="39.3" fill="rgb(255,245,245)"/>
<text x="80.6" y="632.3" text-anchor="middle" class="tl">-2.4</text>
<text x="954.2" y="632.3" text-anchor="middle" class="tl">2.5</text>
</g>
</svg>
</body></html>
